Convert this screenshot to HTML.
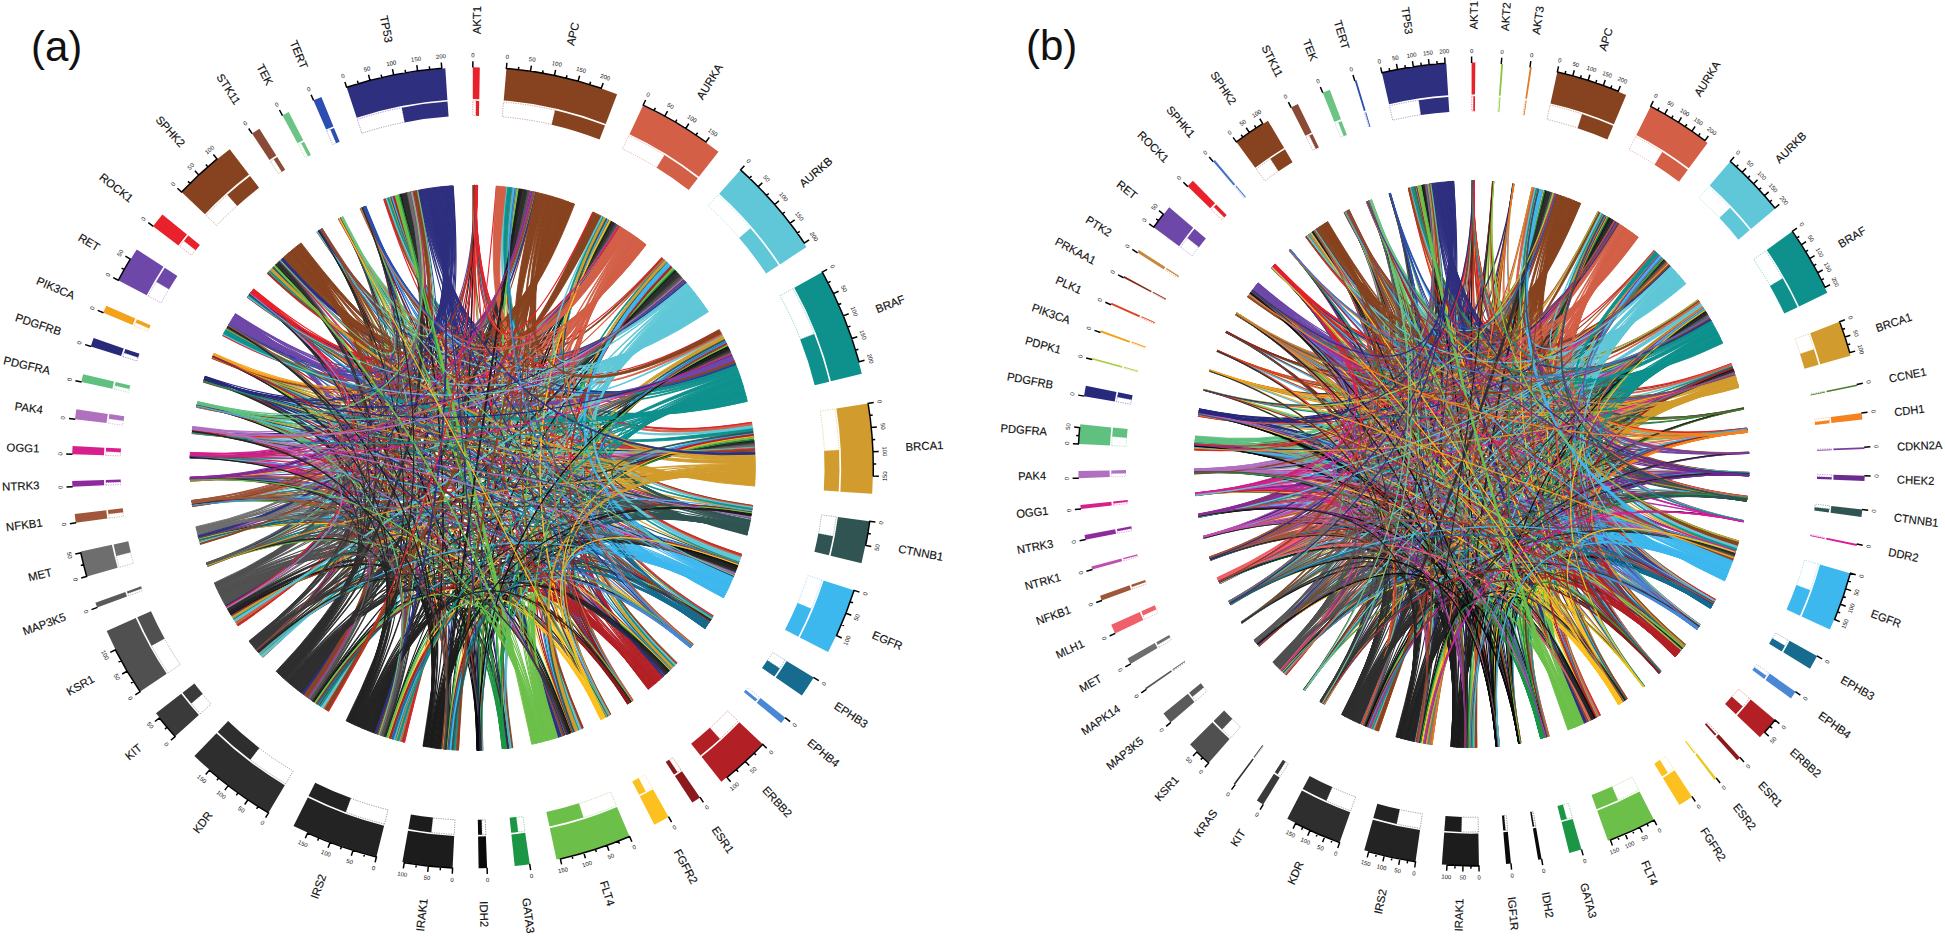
<!DOCTYPE html>
<html><head><meta charset="utf-8"><title>Chord diagrams</title>
<style>
html,body{margin:0;padding:0;background:#fff}
svg{display:block}
text{font-family:"Liberation Sans",sans-serif;fill:#111}
.lb text{font-size:11.4px;dominant-baseline:central;stroke:#111;stroke-width:.15px}
.tk text{font-size:6px;text-anchor:middle;dominant-baseline:central}
.pl{font-size:42px}
.a0{fill:#E8212B;stroke:#E8212B}.a1{fill:#87431F;stroke:#87431F}.a2{fill:#D35F47;stroke:#D35F47}.a3{fill:#5FC7D7;stroke:#5FC7D7}.a4{fill:#0E918D;stroke:#0E918D}.a5{fill:#D19C2D;stroke:#D19C2D}.a6{fill:#2F5451;stroke:#2F5451}.a7{fill:#3DB8EE;stroke:#3DB8EE}.a8{fill:#166B8E;stroke:#166B8E}.a9{fill:#4A88D6;stroke:#4A88D6}.a10{fill:#B22025;stroke:#B22025}.a11{fill:#8B1A1C;stroke:#8B1A1C}.a12{fill:#FCC01F;stroke:#FCC01F}.a13{fill:#6CC04A;stroke:#6CC04A}.a14{fill:#1A9645;stroke:#1A9645}.a15{fill:#0A0A0A;stroke:#0A0A0A}.a16{fill:#1C1C1C;stroke:#1C1C1C}.a17{fill:#232323;stroke:#232323}.a18{fill:#2E2E2E;stroke:#2E2E2E}.a19{fill:#3A3A3A;stroke:#3A3A3A}.a20{fill:#505050;stroke:#505050}.a21{fill:#5A5A5A;stroke:#5A5A5A}.a22{fill:#6E6E6E;stroke:#6E6E6E}.a23{fill:#A0563A;stroke:#A0563A}.a24{fill:#8E2A9E;stroke:#8E2A9E}.a25{fill:#D8208C;stroke:#D8208C}.a26{fill:#B070C0;stroke:#B070C0}.a27{fill:#5FC080;stroke:#5FC080}.a28{fill:#27297A;stroke:#27297A}.a29{fill:#F5A21B;stroke:#F5A21B}.a30{fill:#6E48A8;stroke:#6E48A8}.a31{fill:#8B4A36;stroke:#8B4A36}.a32{fill:#6CC484;stroke:#6CC484}.a33{fill:#2C4EB0;stroke:#2C4EB0}.a34{fill:#2E2F7E;stroke:#2E2F7E}.A0{fill:none;stroke:#E8212B;stroke-width:1.2}.A1{fill:none;stroke:#87431F;stroke-width:1.2}.A2{fill:none;stroke:#D35F47;stroke-width:1.2}.A3{fill:none;stroke:#5FC7D7;stroke-width:1.2}.A4{fill:none;stroke:#0E918D;stroke-width:1.2}.A5{fill:none;stroke:#D19C2D;stroke-width:1.2}.A6{fill:none;stroke:#2F5451;stroke-width:1.2}.A7{fill:none;stroke:#3DB8EE;stroke-width:1.2}.A8{fill:none;stroke:#166B8E;stroke-width:1.2}.A9{fill:none;stroke:#4A88D6;stroke-width:1.2}.A10{fill:none;stroke:#B22025;stroke-width:1.2}.A11{fill:none;stroke:#8B1A1C;stroke-width:1.2}.A12{fill:none;stroke:#FCC01F;stroke-width:1.2}.A13{fill:none;stroke:#6CC04A;stroke-width:1.2}.A14{fill:none;stroke:#1A9645;stroke-width:1.2}.A15{fill:none;stroke:#0A0A0A;stroke-width:1.2}.A16{fill:none;stroke:#1C1C1C;stroke-width:1.2}.A17{fill:none;stroke:#232323;stroke-width:1.2}.A18{fill:none;stroke:#2E2E2E;stroke-width:1.2}.A19{fill:none;stroke:#3A3A3A;stroke-width:1.2}.A20{fill:none;stroke:#505050;stroke-width:1.2}.A21{fill:none;stroke:#5A5A5A;stroke-width:1.2}.A22{fill:none;stroke:#6E6E6E;stroke-width:1.2}.A23{fill:none;stroke:#A0563A;stroke-width:1.2}.A24{fill:none;stroke:#8E2A9E;stroke-width:1.2}.A25{fill:none;stroke:#D8208C;stroke-width:1.2}.A26{fill:none;stroke:#B070C0;stroke-width:1.2}.A27{fill:none;stroke:#5FC080;stroke-width:1.2}.A28{fill:none;stroke:#27297A;stroke-width:1.2}.A29{fill:none;stroke:#F5A21B;stroke-width:1.2}.A30{fill:none;stroke:#6E48A8;stroke-width:1.2}.A31{fill:none;stroke:#8B4A36;stroke-width:1.2}.A32{fill:none;stroke:#6CC484;stroke-width:1.2}.A33{fill:none;stroke:#2C4EB0;stroke-width:1.2}.A34{fill:none;stroke:#2E2F7E;stroke-width:1.2}.b0{fill:#E8212B;stroke:#E8212B}.b1{fill:#8DC63F;stroke:#8DC63F}.b2{fill:#E07B28;stroke:#E07B28}.b3{fill:#87431F;stroke:#87431F}.b4{fill:#D35F47;stroke:#D35F47}.b5{fill:#5FC7D7;stroke:#5FC7D7}.b6{fill:#0E918D;stroke:#0E918D}.b7{fill:#D19C2D;stroke:#D19C2D}.b8{fill:#4E7A2E;stroke:#4E7A2E}.b9{fill:#F58220;stroke:#F58220}.b10{fill:#7B3FA0;stroke:#7B3FA0}.b11{fill:#6A2C91;stroke:#6A2C91}.b12{fill:#2F5451;stroke:#2F5451}.b13{fill:#E0189A;stroke:#E0189A}.b14{fill:#3DB8EE;stroke:#3DB8EE}.b15{fill:#166B8E;stroke:#166B8E}.b16{fill:#4A88D6;stroke:#4A88D6}.b17{fill:#B22025;stroke:#B22025}.b18{fill:#8B1A1C;stroke:#8B1A1C}.b19{fill:#E8C81E;stroke:#E8C81E}.b20{fill:#FCC01F;stroke:#FCC01F}.b21{fill:#6CC04A;stroke:#6CC04A}.b22{fill:#1A9645;stroke:#1A9645}.b23{fill:#0A0A0A;stroke:#0A0A0A}.b24{fill:#1C1C1C;stroke:#1C1C1C}.b25{fill:#232323;stroke:#232323}.b26{fill:#2E2E2E;stroke:#2E2E2E}.b27{fill:#3A3A3A;stroke:#3A3A3A}.b28{fill:#333333;stroke:#333333}.b29{fill:#505050;stroke:#505050}.b30{fill:#5A5A5A;stroke:#5A5A5A}.b31{fill:#555555;stroke:#555555}.b32{fill:#6E6E6E;stroke:#6E6E6E}.b33{fill:#F0606A;stroke:#F0606A}.b34{fill:#A0563A;stroke:#A0563A}.b35{fill:#C050B0;stroke:#C050B0}.b36{fill:#8E2A9E;stroke:#8E2A9E}.b37{fill:#D8208C;stroke:#D8208C}.b38{fill:#B070C0;stroke:#B070C0}.b39{fill:#5FC080;stroke:#5FC080}.b40{fill:#27297A;stroke:#27297A}.b41{fill:#A8CC3C;stroke:#A8CC3C}.b42{fill:#F5A21B;stroke:#F5A21B}.b43{fill:#E0401E;stroke:#E0401E}.b44{fill:#8B2A1A;stroke:#8B2A1A}.b45{fill:#C8883C;stroke:#C8883C}.b46{fill:#6E48A8;stroke:#6E48A8}.b47{fill:#4A74C8;stroke:#4A74C8}.b48{fill:#8B4A36;stroke:#8B4A36}.b49{fill:#6CC484;stroke:#6CC484}.b50{fill:#2C4EB0;stroke:#2C4EB0}.b51{fill:#2E2F7E;stroke:#2E2F7E}.B0{fill:none;stroke:#E8212B;stroke-width:1.2}.B1{fill:none;stroke:#8DC63F;stroke-width:1.2}.B2{fill:none;stroke:#E07B28;stroke-width:1.2}.B3{fill:none;stroke:#87431F;stroke-width:1.2}.B4{fill:none;stroke:#D35F47;stroke-width:1.2}.B5{fill:none;stroke:#5FC7D7;stroke-width:1.2}.B6{fill:none;stroke:#0E918D;stroke-width:1.2}.B7{fill:none;stroke:#D19C2D;stroke-width:1.2}.B8{fill:none;stroke:#4E7A2E;stroke-width:1.2}.B9{fill:none;stroke:#F58220;stroke-width:1.2}.B10{fill:none;stroke:#7B3FA0;stroke-width:1.2}.B11{fill:none;stroke:#6A2C91;stroke-width:1.2}.B12{fill:none;stroke:#2F5451;stroke-width:1.2}.B13{fill:none;stroke:#E0189A;stroke-width:1.2}.B14{fill:none;stroke:#3DB8EE;stroke-width:1.2}.B15{fill:none;stroke:#166B8E;stroke-width:1.2}.B16{fill:none;stroke:#4A88D6;stroke-width:1.2}.B17{fill:none;stroke:#B22025;stroke-width:1.2}.B18{fill:none;stroke:#8B1A1C;stroke-width:1.2}.B19{fill:none;stroke:#E8C81E;stroke-width:1.2}.B20{fill:none;stroke:#FCC01F;stroke-width:1.2}.B21{fill:none;stroke:#6CC04A;stroke-width:1.2}.B22{fill:none;stroke:#1A9645;stroke-width:1.2}.B23{fill:none;stroke:#0A0A0A;stroke-width:1.2}.B24{fill:none;stroke:#1C1C1C;stroke-width:1.2}.B25{fill:none;stroke:#232323;stroke-width:1.2}.B26{fill:none;stroke:#2E2E2E;stroke-width:1.2}.B27{fill:none;stroke:#3A3A3A;stroke-width:1.2}.B28{fill:none;stroke:#333333;stroke-width:1.2}.B29{fill:none;stroke:#505050;stroke-width:1.2}.B30{fill:none;stroke:#5A5A5A;stroke-width:1.2}.B31{fill:none;stroke:#555555;stroke-width:1.2}.B32{fill:none;stroke:#6E6E6E;stroke-width:1.2}.B33{fill:none;stroke:#F0606A;stroke-width:1.2}.B34{fill:none;stroke:#A0563A;stroke-width:1.2}.B35{fill:none;stroke:#C050B0;stroke-width:1.2}.B36{fill:none;stroke:#8E2A9E;stroke-width:1.2}.B37{fill:none;stroke:#D8208C;stroke-width:1.2}.B38{fill:none;stroke:#B070C0;stroke-width:1.2}.B39{fill:none;stroke:#5FC080;stroke-width:1.2}.B40{fill:none;stroke:#27297A;stroke-width:1.2}.B41{fill:none;stroke:#A8CC3C;stroke-width:1.2}.B42{fill:none;stroke:#F5A21B;stroke-width:1.2}.B43{fill:none;stroke:#E0401E;stroke-width:1.2}.B44{fill:none;stroke:#8B2A1A;stroke-width:1.2}.B45{fill:none;stroke:#C8883C;stroke-width:1.2}.B46{fill:none;stroke:#6E48A8;stroke-width:1.2}.B47{fill:none;stroke:#4A74C8;stroke-width:1.2}.B48{fill:none;stroke:#8B4A36;stroke-width:1.2}.B49{fill:none;stroke:#6CC484;stroke-width:1.2}.B50{fill:none;stroke:#2C4EB0;stroke-width:1.2}.B51{fill:none;stroke:#2E2F7E;stroke-width:1.2}
</style></head><body>
<svg width="1945" height="937" viewBox="0 0 1945 937">
<rect width="1945" height="937" fill="#fff"/>
<text class="pl" x="31" y="60.5">(a)</text>
<text class="pl" x="1026" y="60">(b)</text>
<g transform="translate(472.5,467.8)">
<g stroke-width="0.9" stroke-linejoin="round">
<path class="A7" d="M252.1,128.1Q0,0,-245.6,-140.1"/>
<path class="A12" d="M129.5,251.4Q0,0,-198.7,-201.2"/>
<path class="a19" d="M-217.1,181.3L-219,178.9Q0,0,206,-193.8L208.1,-191.5Q0,0,-217.1,181.3Z"/>
<path class="A29" d="M-258.8,-114.1Q0,0,-245.9,139.6"/>
<path class="A27" d="M-275.2,-65.1Q0,0,-29.2,281.3"/>
<path class="A11" d="M157.9,234.6Q0,0,44.4,-279.3"/>
<path class="A22" d="M-276.1,61.1Q0,0,-275.7,-63"/>
<path class="A18" d="M-193.6,206.1Q0,0,-132.7,-249.8"/>
<path class="A0" d="M2.7,-282.8Q0,0,23.9,-281.8"/>
<path class="A7" d="M261.1,108.7Q0,0,0.9,-282.8"/>
<path class="A1" d="M82.2,-270.6Q0,0,240.7,148.4"/>
<path class="A29" d="M-259.5,-112.5Q0,0,211.4,-187.9"/>
<path class="A20" d="M-257.1,117.8Q0,0,-259.9,-111.6"/>
<path class="A26" d="M-280.2,-38.2Q0,0,145.8,-242.3"/>
<path class="a34" d="M-38.2,-280.2L-37.2,-280.3Q0,0,-30.8,281.1L-31.8,281Q0,0,-38.2,-280.2Z"/>
<path class="A15" d="M5.3,282.7Q0,0,-86.3,269.3"/>
<path class="A22" d="M-276.1,61.2Q0,0,-280.4,-36.9"/>
<path class="a5" d="M282.3,16.4L282.2,18.3Q0,0,-83.8,-270.1L-82,-270.7Q0,0,282.3,16.4Z"/>
<path class="A9" d="M218.2,180Q0,0,-199.2,-200.7"/>
<path class="a1" d="M-185.7,-213.3L-183.8,-215Q0,0,282.2,-18.6L282.3,-16.1Q0,0,-185.7,-213.3Z"/>
<path class="A12" d="M129.3,251.5Q0,0,-154.4,-236.9"/>
<path class="A28" d="M-267.8,-90.8Q0,0,-93.8,266.8"/>
<path class="A17" d="M-122.1,255.1Q0,0,-282.6,-10.5"/>
<path class="A19" d="M-220,177.7Q0,0,262.9,104.3"/>
<path class="A20" d="M-252.9,126.6Q0,0,237.6,153.4"/>
<path class="A19" d="M-222.3,174.7Q0,0,-282.6,-11.3"/>
<path class="A22" d="M-275.7,62.9Q0,0,193,206.7"/>
<path class="A19" d="M-222.3,174.8Q0,0,-282.6,11.7"/>
<path class="A6" d="M274.9,66.3Q0,0,-133.5,-249.3"/>
<path class="A27" d="M-275.6,-63.5Q0,0,58.8,-276.6"/>
<path class="A13" d="M85.3,269.6Q0,0,1.2,-282.8"/>
<path class="a13" d="M74,273L73.3,273.1Q0,0,197.6,202.3L197.1,202.8Q0,0,74,273Z"/>
<path class="A33" d="M-108.6,-261.1Q0,0,261.5,107.7"/>
<path class="A1" d="M96.8,-265.7Q0,0,-282.5,13.3"/>
<path class="a3" d="M234.6,-157.9L235.9,-156Q0,0,-87,-269.1L-84.9,-269.8Q0,0,234.6,-157.9Z"/>
<path class="a13" d="M69.1,274.2L68.4,274.4Q0,0,-213.6,185.3L-214.1,184.7Q0,0,69.1,274.2Z"/>
<path class="A0" d="M-219.9,-177.9Q0,0,-30.1,281.2"/>
<path class="A31" d="M-152.2,-238.3Q0,0,282.3,-16"/>
<path class="A8" d="M232.7,160.8Q0,0,-79.7,-271.3"/>
<path class="A17" d="M-115.8,258Q0,0,-26.2,281.6"/>
<path class="A26" d="M-280.2,-38Q0,0,58.4,-276.7"/>
<path class="A3" d="M223,-173.9Q0,0,160.3,232.9"/>
<path class="a34" d="M-24.4,-281.7L-20.2,-282.1Q0,0,-192.1,-207.6L-189,-210.4Q0,0,-24.4,-281.7Z"/>
<path class="a17" d="M-98.4,265.1L-100.1,264.5Q0,0,48.7,-278.6L50.5,-278.3Q0,0,-98.4,265.1Z"/>
<path class="A31" d="M-152.8,-238Q0,0,147.2,-241.4"/>
<path class="A21" d="M-266.2,95.5Q0,0,-275.7,-62.9"/>
<path class="A1" d="M-175.6,-221.7Q0,0,-282.6,-11.7"/>
<path class="A29" d="M-259.2,-113.1Q0,0,262.1,106.3"/>
<path class="A21" d="M-266,96.1Q0,0,281.9,-22.6"/>
<path class="A16" d="M-47,278.9Q0,0,-268.9,-87.5"/>
<path class="A22" d="M-275.6,63.6Q0,0,278.5,49.2"/>
<path class="A21" d="M-265.7,96.8Q0,0,145.3,-242.6"/>
<path class="A18" d="M-190.2,209.3Q0,0,-275.8,-62.6"/>
<path class="A33" d="M-107.5,-261.6Q0,0,-216.3,182.2"/>
<path class="a4" d="M264.8,-99.3L265.5,-97.5Q0,0,129.8,-251.3L131.4,-250.4Q0,0,264.8,-99.3Z"/>
<path class="A3" d="M232.6,-160.9Q0,0,-282.5,12.9"/>
<path class="a1" d="M-188.9,-210.5L-188,-211.3Q0,0,60.5,-276.2L61.8,-276Q0,0,-188.9,-210.5Z"/>
<path class="A0" d="M-219.7,-178.1Q0,0,-94.4,266.6"/>
<path class="A20" d="M-247.4,137.1Q0,0,2.4,-282.8"/>
<path class="A29" d="M-258.8,-113.9Q0,0,-164.7,229.9"/>
<path class="A18" d="M-181.8,216.6Q0,0,219.9,177.8"/>
<path class="A2" d="M172.8,-223.9Q0,0,-204.2,-195.6"/>
<path class="A19" d="M-222.9,174.1Q0,0,-153.8,-237.3"/>
<path class="A1" d="M97.1,-265.6Q0,0,-280.7,-34.4"/>
<path class="A0" d="M3.9,-282.8Q0,0,-14.1,282.4"/>
<path class="A30" d="M-238.7,-151.7Q0,0,-29.7,281.2"/>
<path class="A1" d="M-180.3,-217.9Q0,0,7.8,282.7"/>
<path class="a7" d="M256.3,119.6L255.1,122.1Q0,0,-20.7,282L-23.4,281.8Q0,0,256.3,119.6Z"/>
<path class="A34" d="M-25.6,-281.6Q0,0,-259.7,-111.9"/>
<path class="A9" d="M218.6,179.4Q0,0,99.8,264.6"/>
<path class="a5" d="M282.6,9.4L282.6,10.9Q0,0,-273,73.9L-273.3,72.5Q0,0,282.6,9.4Z"/>
<path class="A24" d="M-282.6,10.3Q0,0,92.8,267.1"/>
<path class="A16" d="M-41.3,279.8Q0,0,238.9,151.4"/>
<path class="A26" d="M-279.9,-40.6Q0,0,-192.8,-206.9"/>
<path class="A10" d="M182.3,216.2Q0,0,-24.1,281.8"/>
<path class="A23" d="M-280.6,34.9Q0,0,282,-21"/>
<path class="A2" d="M171.7,-224.7Q0,0,-282.6,-9.7"/>
<path class="A20" d="M-257,118Q0,0,-268.7,-88.3"/>
<path class="A5" d="M282.8,-2.8Q0,0,239.7,150.1"/>
<path class="a10" d="M188.2,211.1L186.5,212.6Q0,0,253.6,-125.2L254.6,-123.2Q0,0,188.2,211.1Z"/>
<path class="A1" d="M100.7,-264.3Q0,0,-134.1,-249"/>
<path class="a2" d="M166.9,-228.3L168.6,-227Q0,0,-147.6,241.2L-149.4,240.1Q0,0,166.9,-228.3Z"/>
<path class="A27" d="M-275.3,-64.5Q0,0,278.4,49.7"/>
<path class="A25" d="M-282.4,-14.7Q0,0,-192.9,-206.8"/>
<path class="A2" d="M164.6,-229.9Q0,0,10.1,282.6"/>
<path class="A21" d="M-266.1,95.8Q0,0,193.2,206.6"/>
<path class="A23" d="M-280.7,34.6Q0,0,262.4,105.5"/>
<path class="A3" d="M221.8,-175.5Q0,0,240.2,149.2"/>
<path class="a18" d="M-178.4,219.4L-179.3,218.7Q0,0,257,-118L257.5,-117Q0,0,-178.4,219.4Z"/>
<path class="A9" d="M218.4,179.7Q0,0,-155.3,236.3"/>
<path class="A33" d="M-109.4,-260.8Q0,0,147.6,-241.2"/>
<path class="a18" d="M-183.2,215.4L-184.1,214.7Q0,0,96.1,266L95,266.4Q0,0,-183.2,215.4Z"/>
<path class="A9" d="M219.3,178.6Q0,0,136.2,-247.8"/>
<path class="A6" d="M275.6,63.6Q0,0,-240.5,148.8"/>
<path class="A0" d="M-220.5,-177.1Q0,0,237.3,153.9"/>
<path class="A28" d="M-267.7,-91.1Q0,0,-164.6,229.9"/>
<path class="A33" d="M-107.8,-261.5Q0,0,-30.8,281.1"/>
<path class="A15" d="M6.8,282.7Q0,0,202.5,-197.4"/>
<path class="A4" d="M268.2,-89.7Q0,0,220.5,177.1"/>
<path class="A17" d="M-117.2,257.4Q0,0,-214.5,184.3"/>
<path class="A25" d="M-282.4,-14.5Q0,0,-245.5,140.3"/>
<path class="A26" d="M-280,-39.9Q0,0,-93.3,267"/>
<path class="A8" d="M235.4,156.8Q0,0,266.2,95.3"/>
<path class="a17" d="M-103.4,263.2L-104.9,262.6Q0,0,256.3,-119.5L257,-118Q0,0,-103.4,263.2Z"/>
<path class="A4" d="M272.2,-76.8Q0,0,-276,-61.5"/>
<path class="A10" d="M177.4,220.3Q0,0,-245.5,-140.3"/>
<path class="a1" d="M-183.8,-215L-183,-215.6Q0,0,278.3,50.5L278.1,51.5Q0,0,-183.8,-215Z"/>
<path class="A24" d="M-282.6,9.8Q0,0,-215.6,183"/>
<path class="a4" d="M274.6,-67.5L274.9,-66.4Q0,0,-84.9,-269.8L-83.8,-270.1Q0,0,274.6,-67.5Z"/>
<path class="A2" d="M173.5,-223.3Q0,0,-87.2,-269"/>
<path class="a6" d="M277.8,52.7L277.7,53.4Q0,0,40.1,-279.9L40.7,-279.8Q0,0,277.8,52.7Z"/>
<path class="a17" d="M-108.9,261L-110.1,260.5Q0,0,238.8,151.5L238.1,152.6Q0,0,-108.9,261Z"/>
<path class="A34" d="M-54.3,-277.5Q0,0,2.6,-282.8"/>
<path class="a18" d="M-189.4,210L-190,209.5Q0,0,-282.6,-10.5L-282.6,-11.3Q0,0,-189.4,210Z"/>
<path class="A2" d="M171.9,-224.5Q0,0,-269.3,-86.2"/>
<path class="A7" d="M252.8,126.8Q0,0,-265.4,97.6"/>
<path class="a10" d="M184,214.8L183.4,215.3Q0,0,266.1,95.7L265.9,96.4Q0,0,184,214.8Z"/>
<path class="a17" d="M-97.7,265.4L-98.4,265.1Q0,0,1.5,-282.8L2.2,-282.8Q0,0,-97.7,265.4Z"/>
<path class="A20" d="M-256.8,118.3Q0,0,-280.4,-36.8"/>
<path class="a34" d="M-26.8,-281.5L-26.1,-281.6Q0,0,-280.4,-37.1L-280.3,-37.8Q0,0,-26.8,-281.5Z"/>
<path class="A3" d="M233.4,-159.6Q0,0,-260.5,-110"/>
<path class="A0" d="M-222.2,-175Q0,0,60.3,-276.3"/>
<path class="A5" d="M282.3,16.4Q0,0,-111.5,-259.9"/>
<path class="A32" d="M-130.4,-250.9Q0,0,-168.3,227.3"/>
<path class="A30" d="M-237.7,-153.2Q0,0,-280.5,36.1"/>
<path class="A0" d="M-220.2,-177.4Q0,0,192,207.6"/>
<path class="A31" d="M-152.6,-238.1Q0,0,212.4,-186.7"/>
<path class="A28" d="M-267.9,-90.5Q0,0,-29.4,281.3"/>
<path class="A1" d="M-182.2,-216.3Q0,0,191.7,207.9"/>
<path class="a1" d="M93.7,-266.8L95.6,-266.1Q0,0,-234.6,157.9L-235.7,156.2Q0,0,93.7,-266.8Z"/>
<path class="A2" d="M172.2,-224.3Q0,0,-249.6,-133"/>
<path class="A0" d="M-220.6,-176.9Q0,0,261.9,106.8"/>
<path class="A18" d="M-183.1,215.5Q0,0,158.4,234.2"/>
<path class="A19" d="M-219.8,178Q0,0,278.6,48.5"/>
<path class="A13" d="M65.9,275Q0,0,-245.4,-140.5"/>
<path class="A4" d="M274.6,-67.8Q0,0,-155.1,-236.5"/>
<path class="A1" d="M-175.7,-221.6Q0,0,-280.5,36.1"/>
<path class="A9" d="M218.2,179.9Q0,0,-260.2,-110.8"/>
<path class="A18" d="M-189,210.4Q0,0,-265.5,97.3"/>
<path class="A7" d="M256.3,119.6Q0,0,9,282.7"/>
<path class="A29" d="M-259.1,-113.2Q0,0,237.4,153.7"/>
<path class="A8" d="M236.4,155.3Q0,0,135.9,-248"/>
<path class="a6" d="M274.9,66.3L274.6,67.4Q0,0,-82,-270.7L-80.8,-271Q0,0,274.9,66.3Z"/>
<path class="A21" d="M-265.7,96.9Q0,0,56.9,-277"/>
<path class="A18" d="M-189.2,210.2Q0,0,-280.5,36.2"/>
<path class="A30" d="M-237.6,-153.4Q0,0,-132.4,-249.9"/>
<path class="A34" d="M-43.6,-279.4Q0,0,158,234.5"/>
<path class="a7" d="M258.2,115.4L257.7,116.6Q0,0,252.5,-127.3L253.1,-126.2Q0,0,258.2,115.4Z"/>
<path class="A3" d="M232.7,-160.7Q0,0,-282.6,-9.7"/>
<path class="A33" d="M-106.9,-261.8Q0,0,-54.6,-277.5"/>
<path class="A14" d="M30.6,281.1Q0,0,-158,234.5"/>
<path class="A13" d="M66.8,274.8Q0,0,-282.6,-10.4"/>
<path class="a26" d="M-279.9,-40.7L-279.8,-41.4Q0,0,-61.9,-276L-61.2,-276.1Q0,0,-279.9,-40.7Z"/>
<path class="A11" d="M155.5,236.2Q0,0,-198.9,-201.1"/>
<path class="A7" d="M257.2,117.6Q0,0,220.2,177.5"/>
<path class="A8" d="M233.2,160Q0,0,-269,-87.2"/>
<path class="a16" d="M-44.2,279.3L-45.4,279.1Q0,0,-158.3,234.3L-159.4,233.6Q0,0,-44.2,279.3Z"/>
<path class="A11" d="M157,235.2Q0,0,197.8,202.1"/>
<path class="A29" d="M-259.2,-113Q0,0,278.4,49.9"/>
<path class="a17" d="M-100.1,264.5L-102,263.8Q0,0,139,-246.3L140.7,-245.3Q0,0,-100.1,264.5Z"/>
<path class="a3" d="M227.2,-168.3L228.8,-166.2Q0,0,-149.4,240.1L-151.7,238.7Q0,0,227.2,-168.3Z"/>
<path class="A29" d="M-259,-113.4Q0,0,192.4,207.3"/>
<path class="a3" d="M216.1,-182.4L217,-181.4Q0,0,249.7,-132.8L250.3,-131.6Q0,0,216.1,-182.4Z"/>
<path class="A19" d="M-221.1,176.3Q0,0,-27.9,281.4"/>
<path class="A1" d="M98.5,-265.1Q0,0,-249.8,-132.6"/>
<path class="A1" d="M97.4,-265.5Q0,0,-276.2,-60.7"/>
<path class="a7" d="M253.1,126.1L252.8,126.8Q0,0,-240.5,148.7L-240.9,148.1Q0,0,253.1,126.1Z"/>
<path class="A20" d="M-256.9,118.2Q0,0,-275.7,-62.8"/>
<path class="A32" d="M-130.3,-251Q0,0,-246.7,138.3"/>
<path class="A16" d="M-48.2,278.7Q0,0,-197,-202.8"/>
<path class="A4" d="M274.6,-67.6Q0,0,-111.7,-259.8"/>
<path class="A1" d="M63.7,-275.5Q0,0,0.3,-282.8"/>
<path class="A11" d="M155.6,236.2Q0,0,-241.2,147.7"/>
<path class="A33" d="M-107.2,-261.7Q0,0,-192.1,-207.5"/>
<path class="A17" d="M-124.5,253.9Q0,0,-132.8,-249.7"/>
<path class="A21" d="M-266,96Q0,0,278.5,49"/>
<path class="a0" d="M-221.7,-175.5L-221.2,-176.2Q0,0,261.6,-107.3L262,-106.6Q0,0,-221.7,-175.5Z"/>
<path class="A17" d="M-121,255.6Q0,0,-273.8,70.8"/>
<path class="A17" d="M-122.4,255Q0,0,-275.8,-62.4"/>
<path class="A0" d="M-220.8,-176.7Q0,0,278.3,50.4"/>
<path class="A5" d="M282.6,10.9Q0,0,-280.2,38.1"/>
<path class="A19" d="M-219.5,178.3Q0,0,281.7,-25.2"/>
<path class="A21" d="M-266.2,95.5Q0,0,-245.3,140.6"/>
<path class="A24" d="M-282.6,11.2Q0,0,145.7,-242.4"/>
<path class="A34" d="M-26.1,-281.6Q0,0,-275.6,-63.3"/>
<path class="A30" d="M-238.9,-151.4Q0,0,91.9,267.5"/>
<path class="A18" d="M-180.1,218Q0,0,278.7,48.2"/>
<path class="a1" d="M78.8,-271.6L79.4,-271.4Q0,0,279.1,-45.4L279.2,-44.7Q0,0,78.8,-271.6Z"/>
<path class="A27" d="M-275.3,-64.8Q0,0,192.6,207.1"/>
<path class="A14" d="M30.2,281.2Q0,0,-241.7,146.9"/>
<path class="a10" d="M190.6,208.9L189.9,209.6Q0,0,43.4,-279.5L44.4,-279.3Q0,0,190.6,208.9Z"/>
<path class="A2" d="M171.2,-225.1Q0,0,-265.1,98.5"/>
<path class="A23" d="M-280.6,35.4Q0,0,145.6,-242.4"/>
<path class="a34" d="M-52.6,-277.9L-50.4,-278.3Q0,0,212.8,-186.3L214.3,-184.6Q0,0,-52.6,-277.9Z"/>
<path class="a2" d="M158.3,-234.4L160.4,-232.9Q0,0,279.2,-44.7L279.6,-42.1Q0,0,158.3,-234.4Z"/>
<path class="A22" d="M-275.6,63.2Q0,0,237.5,153.5"/>
<path class="a2" d="M168.7,-226.9L171.2,-225.1Q0,0,-235.7,156.2L-237.4,153.7Q0,0,168.7,-226.9Z"/>
<path class="a14" d="M35.1,280.6L34.3,280.7Q0,0,45.9,-279L46.7,-278.9Q0,0,35.1,280.6Z"/>
<path class="a13" d="M79.8,271.3L77.1,272.1Q0,0,281.1,-31.2L281.4,-28.4Q0,0,79.8,271.3Z"/>
<path class="a4" d="M269.4,-86.1L269.6,-85.2Q0,0,38.4,280.2L37.5,280.3Q0,0,269.4,-86.1Z"/>
<path class="a1" d="M73,-273.2L74.8,-272.7Q0,0,189.4,-210L190.8,-208.8Q0,0,73,-273.2Z"/>
<path class="A32" d="M-131.4,-250.4Q0,0,282.4,-15.8"/>
<path class="A26" d="M-280.1,-38.7Q0,0,282,-20.7"/>
<path class="A12" d="M129.9,251.2Q0,0,-241.3,147.6"/>
<path class="A3" d="M231.6,-162.2Q0,0,-265.1,98.4"/>
<path class="A33" d="M-109.5,-260.8Q0,0,62.4,-275.8"/>
<path class="a13" d="M68.4,274.4L67.8,274.6Q0,0,-241.3,147.5L-241.6,146.9Q0,0,68.4,274.4Z"/>
<path class="A0" d="M3,-282.8Q0,0,189.3,-210.1"/>
<path class="A24" d="M-282.6,10.5Q0,0,219.8,178"/>
<path class="A27" d="M-275.1,-65.7Q0,0,-274,69.9"/>
<path class="A10" d="M177.9,219.8Q0,0,-282.6,-10.3"/>
<path class="a13" d="M83.6,270.2L80.6,271.1Q0,0,199.3,-200.6L201.5,-198.4Q0,0,83.6,270.2Z"/>
<path class="A7" d="M251.6,129.1Q0,0,-133.4,-249.3"/>
<path class="A4" d="M271.9,-77.9Q0,0,-272.9,74.2"/>
<path class="A18" d="M-189.1,210.3Q0,0,-273.9,70.5"/>
<path class="a10" d="M182.2,216.3L179.9,218.2Q0,0,-80.8,271L-83.5,270.2Q0,0,182.2,216.3Z"/>
<path class="A1" d="M-175.5,-221.7Q0,0,-280.4,-37.1"/>
<path class="A33" d="M-107.6,-261.5Q0,0,-168.4,227.2"/>
<path class="A28" d="M-268.4,-89.2Q0,0,146.1,-242.2"/>
<path class="a3" d="M226.3,-169.5L227.2,-168.3Q0,0,-72.2,273.4L-73.7,273Q0,0,226.3,-169.5Z"/>
<path class="A9" d="M219.2,178.7Q0,0,198,-202"/>
<path class="A20" d="M-256.7,118.6Q0,0,-282.6,-11.5"/>
<path class="A19" d="M-221,176.5Q0,0,35.6,280.5"/>
<path class="a4" d="M265.9,-96.3L267.2,-92.8Q0,0,280,-40L280.5,-36.3Q0,0,265.9,-96.3Z"/>
<path class="A0" d="M3.3,-282.8Q0,0,280.3,37.8"/>
<path class="A31" d="M-152.5,-238.2Q0,0,262.8,-104.6"/>
<path class="A3" d="M232.8,-160.6Q0,0,-280.7,-34.8"/>
<path class="A1" d="M-176,-221.3Q0,0,-246.4,138.8"/>
<path class="A25" d="M-282.4,-14.3Q0,0,-215.6,183"/>
<path class="A10" d="M189.7,209.8Q0,0,136.5,-247.7"/>
<path class="A32" d="M-131.1,-250.6Q0,0,237,154.3"/>
<path class="A23" d="M-280.9,33.1Q0,0,-163.5,230.8"/>
<path class="a25" d="M-282.4,-14.8L-282.4,-15.4Q0,0,-62.5,-275.8L-61.9,-276Q0,0,-282.4,-14.8Z"/>
<path class="A27" d="M-275.1,-65.4Q0,0,-164.5,230"/>
<path class="A4" d="M269.1,-87Q0,0,137.3,247.2"/>
<path class="A17" d="M-115.3,258.2Q0,0,36.1,280.5"/>
<path class="A28" d="M-268.1,-89.9Q0,0,278.4,49.8"/>
<path class="A9" d="M218.7,179.3Q0,0,266.1,95.6"/>
<path class="A3" d="M233.2,-160Q0,0,-269.2,-86.5"/>
<path class="A21" d="M-265.9,96.4Q0,0,258.5,-114.7"/>
<path class="A13" d="M66.4,274.9Q0,0,-275.9,-62.2"/>
<path class="A14" d="M30.8,281.1Q0,0,-86.1,269.4"/>
<path class="A30" d="M-243.7,-143.4Q0,0,2.4,-282.8"/>
<path class="a17" d="M-113.3,259.1L-113.9,258.9Q0,0,135.8,248.1L135.2,248.4Q0,0,-113.3,259.1Z"/>
<path class="A31" d="M-150.8,-239.2Q0,0,-192.3,-207.4"/>
<path class="A6" d="M276.2,60.9Q0,0,37.1,280.4"/>
<path class="A27" d="M-275.2,-64.9Q0,0,92.4,267.3"/>
<path class="A23" d="M-280.9,32.7Q0,0,-62.7,-275.8"/>
<path class="A1" d="M-176.3,-221.1Q0,0,-216.1,182.4"/>
<path class="A14" d="M31.6,281Q0,0,197,202.9"/>
<path class="A20" d="M-257.6,116.6Q0,0,-153.6,-237.5"/>
<path class="a34" d="M-35.4,-280.6L-31.8,-281Q0,0,-168.4,227.2L-171.3,225Q0,0,-35.4,-280.6Z"/>
<path class="A14" d="M31.7,281Q0,0,265.4,97.6"/>
<path class="A1" d="M100.5,-264.4Q0,0,-155.6,-236.1"/>
<path class="A34" d="M-52.8,-277.8Q0,0,147.8,-241.1"/>
<path class="A19" d="M-222.6,174.5Q0,0,-244.8,-141.6"/>
<path class="a4" d="M268.3,-89.5L269,-87.4Q0,0,202.4,197.5L200.8,199.1Q0,0,268.3,-89.5Z"/>
<path class="A27" d="M-275.3,-64.6Q0,0,262.2,106.1"/>
<path class="A16" d="M-46.5,279Q0,0,-280.3,37.2"/>
<path class="A25" d="M-282.5,-13.3Q0,0,192.8,206.9"/>
<path class="a3" d="M223.1,-173.8L225,-171.3Q0,0,109.1,260.9L106.2,262.1Q0,0,223.1,-173.8Z"/>
<path class="A26" d="M-279.9,-40.5Q0,0,-274,70.1"/>
<path class="A8" d="M233.5,159.5Q0,0,-213.3,185.6"/>
<path class="A17" d="M-123.2,254.5Q0,0,-223,-174"/>
<path class="A8" d="M235.6,156.4Q0,0,280.7,-34.7"/>
<path class="A1" d="M-175.8,-221.5Q0,0,-265.6,97.1"/>
<path class="A12" d="M132,250.1Q0,0,279.4,43.9"/>
<path class="a3" d="M231.7,-162.2L232.3,-161.2Q0,0,-272.5,75.6L-272.8,74.5Q0,0,231.7,-162.2Z"/>
<path class="A2" d="M172.5,-224.1Q0,0,-225.2,-171.1"/>
<path class="a4" d="M265.5,-97.5L265.9,-96.3Q0,0,191.4,-208.2L192.3,-207.3Q0,0,265.5,-97.5Z"/>
<path class="a5" d="M282.5,-13.6L282.5,-12.9Q0,0,39.4,-280L40.1,-279.9Q0,0,282.5,-13.6Z"/>
<path class="A8" d="M233.4,159.7Q0,0,-241,148"/>
<path class="A2" d="M162.5,-231.5Q0,0,240.5,148.9"/>
<path class="a20" d="M-253.8,124.7L-255.5,121.3Q0,0,-88.3,268.7L-91.8,267.5Q0,0,-253.8,124.7Z"/>
<path class="A19" d="M-216.9,181.5Q0,0,54.7,-277.5"/>
<path class="A12" d="M132.3,250Q0,0,254.7,-122.9"/>
<path class="A1" d="M-182.1,-216.4Q0,0,158.2,234.4"/>
<path class="A6" d="M275.4,64.2Q0,0,-280.2,37.9"/>
<path class="A20" d="M-253,126.3Q0,0,158.3,234.3"/>
<path class="A4" d="M269,-87.3Q0,0,160.2,233.1"/>
<path class="a3" d="M217,-181.4L218.4,-179.7Q0,0,279.6,-42.1L280,-40Q0,0,217,-181.4Z"/>
<path class="a5" d="M282.7,-8.2L282.8,-4.4Q0,0,250.3,-131.6L252,-128.3Q0,0,282.7,-8.2Z"/>
<path class="A34" d="M-45.1,-279.2Q0,0,236.9,154.4"/>
<path class="A8" d="M234.9,157.4Q0,0,100,264.5"/>
<path class="A2" d="M171.8,-224.6Q0,0,-276.1,-61"/>
<path class="A7" d="M252.5,127.3Q0,0,-280.5,-35.6"/>
<path class="a34" d="M-42.6,-279.6L-38.7,-280.1Q0,0,89.3,268.3L85.5,269.6Q0,0,-42.6,-279.6Z"/>
<path class="A16" d="M-46.6,278.9Q0,0,-282.5,12.1"/>
<path class="A4" d="M272.3,-76.5Q0,0,-260.5,-110.2"/>
<path class="A25" d="M-282.5,-13.3Q0,0,92.8,267.2"/>
<path class="A0" d="M4.8,-282.8Q0,0,-234.6,158"/>
<path class="a34" d="M-47.4,-278.8L-46.2,-279Q0,0,278.1,51.5L277.9,52.7Q0,0,-47.4,-278.8Z"/>
<path class="A5" d="M282.5,-13.6Q0,0,0.8,-282.8"/>
<path class="A15" d="M4.9,282.8Q0,0,-223.3,-173.5"/>
<path class="a12" d="M129.1,251.6L128.3,252Q0,0,-78.2,-271.8L-77.3,-272Q0,0,129.1,251.6Z"/>
<path class="A24" d="M-282.6,10.6Q0,0,278.4,49.5"/>
<path class="a7" d="M251.5,129.2L251.1,130.1Q0,0,-80.8,-271L-79.9,-271.3Q0,0,251.5,129.2Z"/>
<path class="A11" d="M157.8,234.7Q0,0,136.9,-247.5"/>
<path class="A11" d="M156.8,235.3Q0,0,98.9,265"/>
<path class="A4" d="M263.3,-103.1Q0,0,0.7,-282.8"/>
<path class="A12" d="M131.5,250.4Q0,0,220.1,177.5"/>
<path class="A20" d="M-256.5,119.1Q0,0,-215.5,183.2"/>
<path class="A23" d="M-280.7,34.6Q0,0,219.8,177.9"/>
<path class="A6" d="M276.7,58.7Q0,0,160.1,233.1"/>
<path class="a7" d="M255.1,122.1L253.9,124.5Q0,0,-76.8,272.2L-79.5,271.4Q0,0,255.1,122.1Z"/>
<path class="A13" d="M67.5,274.6Q0,0,-273.7,71.2"/>
<path class="A16" d="M-46.9,278.9Q0,0,-275.9,-62.3"/>
<path class="A32" d="M-131.5,-250.4Q0,0,212.5,-186.6"/>
<path class="a2" d="M165.4,-229.4L166.9,-228.3Q0,0,-70.3,273.9L-72.2,273.4Q0,0,165.4,-229.4Z"/>
<path class="a7" d="M256.6,118.9L256.3,119.5Q0,0,100.8,264.2L100.2,264.5Q0,0,256.6,118.9Z"/>
<path class="a34" d="M-54.2,-277.6L-53,-277.8Q0,0,62.4,-275.8L63.7,-275.5Q0,0,-54.2,-277.6Z"/>
<path class="A30" d="M-237.9,-152.9Q0,0,-246.1,139.3"/>
<path class="A33" d="M-108.8,-261.1Q0,0,282.4,-15.6"/>
<path class="A10" d="M184.2,214.6Q0,0,279.4,43.5"/>
<path class="A20" d="M-257.5,117Q0,0,-193.3,-206.5"/>
<path class="A15" d="M5.5,282.7Q0,0,-25.8,281.6"/>
<path class="A29" d="M-259.6,-112.1Q0,0,59.5,-276.5"/>
<path class="A28" d="M-267.6,-91.5Q0,0,-61,-276.1"/>
<path class="a3" d="M222,-175.2L223,-173.9Q0,0,203.6,196.3L202.4,197.5Q0,0,222,-175.2Z"/>
<path class="A3" d="M234.4,-158.2Q0,0,-133.7,-249.2"/>
<path class="A1" d="M93.5,-266.9Q0,0,-209.9,189.5"/>
<path class="A4" d="M272,-77.6Q0,0,-280.2,38.2"/>
<path class="a17" d="M-104.9,262.6L-105.9,262.2Q0,0,281.5,-27.2L281.6,-26.2Q0,0,-104.9,262.6Z"/>
<path class="a7" d="M260.3,110.6L259.7,111.8Q0,0,134.5,-248.8L135.7,-248.1Q0,0,260.3,110.6Z"/>
<path class="A3" d="M214.3,-184.5Q0,0,0.5,-282.8"/>
<path class="A25" d="M-282.5,-13.4Q0,0,-93.2,267"/>
<path class="A1" d="M98.9,-264.9Q0,0,-225.4,-170.8"/>
<path class="A14" d="M31.8,281Q0,0,279,46.1"/>
<path class="A2" d="M173,-223.7Q0,0,-155.4,-236.3"/>
<path class="a20" d="M-248.4,135.3L-249.8,132.6Q0,0,142.6,-244.2L145.2,-242.7Q0,0,-248.4,135.3Z"/>
<path class="a1" d="M100.9,-264.2L102.1,-263.7Q0,0,-88.6,-268.6L-87.4,-269Q0,0,100.9,-264.2Z"/>
<path class="A32" d="M-130.2,-251Q0,0,-244.2,-142.6"/>
<path class="A0" d="M-219.5,-178.3Q0,0,-165.1,229.6"/>
<path class="A34" d="M-19.8,-282.1Q0,0,-132.2,-250"/>
<path class="A24" d="M-282.6,9.9Q0,0,-163.6,230.7"/>
<path class="A5" d="M282.8,3.8Q0,0,37.3,280.3"/>
<path class="a18" d="M-174.7,222.4L-176.3,221.1Q0,0,140.7,-245.3L142.5,-244.3Q0,0,-174.7,222.4Z"/>
<path class="a1" d="M79.4,-271.4L80.1,-271.2Q0,0,280.3,37.8L280.2,38.5Q0,0,79.4,-271.4Z"/>
<path class="A26" d="M-280.2,-38.5Q0,0,259.1,-113.3"/>
<path class="a20" d="M-250.6,131.1L-251.3,129.7Q0,0,257.8,-116.3L258.4,-114.9Q0,0,-250.6,131.1Z"/>
<path class="A11" d="M156,235.9Q0,0,-83.8,270.1"/>
<path class="a5" d="M282.8,4L282.8,4.7Q0,0,-18.7,282.2L-19.4,282.1Q0,0,282.8,4Z"/>
<path class="a17" d="M-102,263.8L-103.4,263.2Q0,0,203.1,-196.8L204.1,-195.7Q0,0,-102,263.8Z"/>
<path class="A29" d="M-259,-113.6Q0,0,92.1,267.4"/>
<path class="A24" d="M-282.6,9.7Q0,0,-274,70.2"/>
<path class="A5" d="M282.6,11.1Q0,0,-282.6,-10.2"/>
<path class="A27" d="M-275,-65.9Q0,0,-192.7,-207"/>
<path class="A30" d="M-237.7,-153.3Q0,0,-192.5,-207.1"/>
<path class="A18" d="M-171.4,225Q0,0,2.3,-282.8"/>
<path class="a5" d="M282.8,-2.3L282.8,0.6Q0,0,200.8,199.1L198.8,201.1Q0,0,282.8,-2.3Z"/>
<path class="A32" d="M-131.3,-250.5Q0,0,278.1,51.5"/>
<path class="A34" d="M-27.6,-281.4Q0,0,-280.5,35.9"/>
<path class="a14" d="M34.3,280.7L33.1,280.9Q0,0,201.5,-198.4L202.4,-197.5Q0,0,34.3,280.7Z"/>
<path class="A31" d="M-151.3,-238.9Q0,0,-168.1,227.4"/>
<path class="A21" d="M-266.1,95.7Q0,0,-91.9,267.5"/>
<path class="A22" d="M-275.1,65.4Q0,0,258.7,-114.2"/>
<path class="a10" d="M183.1,215.6L182.5,216Q0,0,99.7,264.6L99.1,264.9Q0,0,183.1,215.6Z"/>
<path class="A20" d="M-253.5,125.4Q0,0,35.5,280.6"/>
<path class="A5" d="M282.8,4Q0,0,9.1,282.7"/>
<path class="A5" d="M282.6,11.4Q0,0,-276,-61.6"/>
<path class="a17" d="M-116.1,257.9L-117.1,257.4Q0,0,-159.4,233.6L-160.3,233Q0,0,-116.1,257.9Z"/>
<path class="A29" d="M-259.1,-113.3Q0,0,219.7,178"/>
<path class="A30" d="M-238.2,-152.4Q0,0,-215.9,182.7"/>
<path class="A29" d="M-259.4,-112.7Q0,0,259.3,-112.9"/>
<path class="A27" d="M-275.4,-64.3Q0,0,259.2,-113.1"/>
<path class="A9" d="M218,180.1Q0,0,-79.5,-271.4"/>
<path class="A24" d="M-282.6,10.4Q0,0,192.8,206.9"/>
<path class="A10" d="M183.1,215.5Q0,0,136.4,247.7"/>
<path class="a17" d="M-123.3,254.5L-124.3,254Q0,0,-196.9,-203L-196.1,-203.8Q0,0,-123.3,254.5Z"/>
<path class="A31" d="M-151,-239.1Q0,0,-246.6,138.4"/>
<path class="A13" d="M64,275.5Q0,0,-133,-249.6"/>
<path class="a3" d="M214.4,-184.4L215.6,-183Q0,0,33.5,-280.8L35.3,-280.6Q0,0,214.4,-184.4Z"/>
<path class="A7" d="M251.9,128.6Q0,0,-199.6,-200.4"/>
<path class="A10" d="M176.8,220.7Q0,0,-199,-200.9"/>
<path class="A16" d="M-46.4,279Q0,0,-265.5,97.4"/>
<path class="A2" d="M163.1,-231.1Q0,0,203.8,196.1"/>
<path class="A34" d="M-19.4,-282.1Q0,0,-109.7,-260.7"/>
<path class="A24" d="M-282.6,10Q0,0,-93.1,267"/>
<path class="a20" d="M-251.3,129.7L-252.4,127.6Q0,0,281.7,-25L281.9,-22.7Q0,0,-251.3,129.7Z"/>
<path class="A21" d="M-266.1,95.8Q0,0,93.7,266.8"/>
<path class="A15" d="M6.1,282.7Q0,0,281.4,-28"/>
<path class="A22" d="M-274.8,66.9Q0,0,145.5,-242.5"/>
<path class="A11" d="M155.3,236.3Q0,0,-78.3,-271.8"/>
<path class="A8" d="M232.9,160.4Q0,0,-199.4,-200.6"/>
<path class="a2" d="M164,-230.4L164.5,-230Q0,0,109.7,260.7L109.1,260.9Q0,0,164,-230.4Z"/>
<path class="A30" d="M-237.5,-153.5Q0,0,-110.1,-260.5"/>
<path class="A10" d="M178.3,219.5Q0,0,-265.4,97.6"/>
<path class="A4" d="M269.7,-85Q0,0,9.4,282.6"/>
<path class="A6" d="M276.8,58Q0,0,266.4,95"/>
<path class="A15" d="M4.5,282.8Q0,0,-73.2,-273.2"/>
<path class="A30" d="M-237.8,-153.1Q0,0,-274,69.8"/>
<path class="a1" d="M87.7,-268.9L89.5,-268.3Q0,0,-68.5,274.4L-70.3,273.9Q0,0,87.7,-268.9Z"/>
<path class="A15" d="M5,282.8Q0,0,-241.7,146.8"/>
<path class="A1" d="M-175.1,-222.1Q0,0,-222.5,-174.5"/>
<path class="A19" d="M-220.3,177.3Q0,0,193.4,206.3"/>
<path class="A18" d="M-183.2,215.4Q0,0,135.1,248.4"/>
<path class="A33" d="M-108.5,-261.1Q0,0,158.2,234.4"/>
<path class="A22" d="M-275.8,62.4Q0,0,93.5,266.9"/>
<path class="a22" d="M-274.5,67.9L-274.7,67Q0,0,57,-277L57.8,-276.8Q0,0,-274.5,67.9Z"/>
<path class="A15" d="M5.6,282.7Q0,0,36.5,280.4"/>
<path class="A28" d="M-267.7,-91.2Q0,0,-215.7,182.9"/>
<path class="a6" d="M277.3,55.6L277.1,56.7Q0,0,252,-128.3L252.5,-127.3Q0,0,277.3,55.6Z"/>
<path class="A10" d="M183.2,215.4Q0,0,159.8,233.4"/>
<path class="A19" d="M-221.3,176.1Q0,0,-88.1,268.7"/>
<path class="A5" d="M282.8,-3.1Q0,0,266.5,94.7"/>
<path class="A26" d="M-280,-39.4Q0,0,192.7,207"/>
<path class="a17" d="M-117.4,257.3L-120.8,255.7Q0,0,-242.1,146.2L-244,143Q0,0,-117.4,257.3Z"/>
<path class="A20" d="M-256.6,118.9Q0,0,-265.6,97.2"/>
<path class="A23" d="M-280.7,34.8Q0,0,278.5,49.4"/>
<path class="a7" d="M261,108.8L260.3,110.6Q0,0,40.7,-279.8L42.7,-279.6Q0,0,261,108.8Z"/>
<path class="A1" d="M-175,-222.2Q0,0,-153.4,-237.6"/>
<path class="a2" d="M163.5,-230.8L164,-230.4Q0,0,138,246.8L137.5,247.1Q0,0,163.5,-230.8Z"/>
<path class="a3" d="M233.9,-159L234.3,-158.4Q0,0,-204.1,-195.7L-203.6,-196.2Q0,0,233.9,-159Z"/>
<path class="a3" d="M225.9,-170.1L226.3,-169.5Q0,0,-16.7,282.3L-17.4,282.3Q0,0,225.9,-170.1Z"/>
<path class="a33" d="M-108.5,-261.2L-107.8,-261.4Q0,0,90,268.1L89.3,268.3Q0,0,-108.5,-261.2Z"/>
<path class="a34" d="M-27.4,-281.5L-26.8,-281.5Q0,0,-282.6,-11.9L-282.5,-12.5Q0,0,-27.4,-281.5Z"/>
<path class="A12" d="M133.2,249.5Q0,0,44.7,-279.2"/>
<path class="A2" d="M168.7,-227Q0,0,-210.1,189.3"/>
<path class="A10" d="M182.5,216.1Q0,0,36.9,280.4"/>
<path class="A7" d="M252.3,127.8Q0,0,-269.1,-87.1"/>
<path class="A33" d="M-107.7,-261.5Q0,0,-95.9,266"/>
<path class="a4" d="M274,-69.9L274.5,-67.9Q0,0,-203.6,-196.2L-202.2,-197.7Q0,0,274,-69.9Z"/>
<path class="A2" d="M171.4,-225Q0,0,-272.5,75.7"/>
<path class="A5" d="M282.5,13.1Q0,0,-224.3,-172.2"/>
<path class="A16" d="M-48.5,278.6Q0,0,-110.6,-260.3"/>
<path class="A13" d="M64.1,275.4Q0,0,-154.3,-237"/>
<path class="a17" d="M-121.2,255.5L-121.9,255.2Q0,0,-280.4,37.1L-280.5,36.3Q0,0,-121.2,255.5Z"/>
<path class="A23" d="M-280.6,35.1Q0,0,258.9,-113.9"/>
<path class="A1" d="M-180.4,-217.8Q0,0,35.3,280.6"/>
<path class="a10" d="M179.9,218.2L178.8,219.1Q0,0,-155.4,236.3L-156.7,235.4Q0,0,179.9,218.2Z"/>
<path class="a34" d="M-31.8,-281L-31.1,-281.1Q0,0,-216.3,182.1L-216.8,181.6Q0,0,-31.8,-281Z"/>
<path class="A1" d="M-182.8,-215.8Q0,0,261.7,107.1"/>
<path class="A28" d="M-268.5,-88.9Q0,0,59.2,-276.5"/>
<path class="a4" d="M263.3,-103.1L264.8,-99.3Q0,0,35.3,-280.6L39.4,-280Q0,0,263.3,-103.1Z"/>
<path class="A19" d="M-222.2,175Q0,0,-245.3,140.8"/>
<path class="a5" d="M282.8,-4.4L282.8,-3.2Q0,0,279.7,41.9L279.5,43.1Q0,0,282.8,-4.4Z"/>
<path class="A25" d="M-282.5,-13.2Q0,0,262.4,105.5"/>
<path class="A8" d="M232.8,160.6Q0,0,-133.3,-249.4"/>
<path class="A16" d="M-47.2,278.8Q0,0,-260,-111.2"/>
<path class="A22" d="M-276,61.5Q0,0,-245.4,140.6"/>
<path class="a5" d="M282.7,5.8L282.7,6.6Q0,0,-152.6,238.1L-153.4,237.6Q0,0,282.7,5.8Z"/>
<path class="A17" d="M-123.1,254.6Q0,0,-245.1,-141.1"/>
<path class="A29" d="M-259.6,-112.2Q0,0,146.2,-242.1"/>
<path class="a1" d="M-187.7,-211.5L-187.2,-212Q0,0,211.9,-187.3L212.4,-186.8Q0,0,-187.7,-211.5Z"/>
<path class="A10" d="M177.1,220.5Q0,0,-223.5,-173.2"/>
<path class="A7" d="M252.7,126.9Q0,0,-273.4,72.2"/>
<path class="A15" d="M7.3,282.7Q0,0,46.8,-278.9"/>
<path class="a10" d="M186.5,212.6L184.3,214.5Q0,0,280.7,-34.2L281.1,-31.3Q0,0,186.5,212.6Z"/>
<path class="A1" d="M-175.3,-221.9Q0,0,-244.3,-142.5"/>
<path class="A18" d="M-190.4,209.1Q0,0,-259.9,-111.4"/>
<path class="A32" d="M-131.7,-250.3Q0,0,147.4,-241.3"/>
<path class="a17" d="M-124.8,253.8L-126.4,253Q0,0,-72,-273.5L-70.3,-273.9Q0,0,-124.8,253.8Z"/>
<path class="A13" d="M67.1,274.7Q0,0,-280.3,37.5"/>
<path class="A11" d="M157.1,235.1Q0,0,239.2,150.8"/>
<path class="a1" d="M-174.7,-222.4L-171.4,-224.9Q0,0,-59.5,-276.5L-55.4,-277.3Q0,0,-174.7,-222.4Z"/>
<path class="A1" d="M-181.9,-216.6Q0,0,134.6,248.7"/>
<path class="A30" d="M-238.5,-151.9Q0,0,-94.2,266.6"/>
<path class="A12" d="M131.1,250.6Q0,0,98.5,265.1"/>
<path class="A12" d="M130.9,250.7Q0,0,-24.9,281.7"/>
<path class="a2" d="M160.4,-232.9L161.2,-232.4Q0,0,280.2,38.5L280,39.4Q0,0,160.4,-232.9Z"/>
<path class="A0" d="M5.1,-282.8Q0,0,-88.7,-268.5"/>
<path class="A24" d="M-282.6,10.2Q0,0,-28.9,281.3"/>
<path class="A0" d="M3.3,-282.8Q0,0,279.1,-45.4"/>
<path class="A32" d="M-131.9,-250.1Q0,0,62.2,-275.9"/>
<path class="A1" d="M-180.1,-218Q0,0,-30.5,281.2"/>
<path class="A15" d="M7.1,282.7Q0,0,138.2,-246.7"/>
<path class="A18" d="M-193.7,206.1Q0,0,-110.4,-260.4"/>
<path class="a20" d="M-257.7,116.4L-258.3,115.2Q0,0,-66.1,-275L-64.8,-275.3Q0,0,-257.7,116.4Z"/>
<path class="a2" d="M156.8,-235.4L158.3,-234.4Q0,0,248.8,-134.4L249.7,-132.8Q0,0,156.8,-235.4Z"/>
<path class="A29" d="M-258.9,-113.8Q0,0,-94,266.7"/>
<path class="A25" d="M-282.5,-13.4Q0,0,-29.1,281.3"/>
<path class="A5" d="M282.6,11.1Q0,0,-282.5,12.6"/>
<path class="a2" d="M164.8,-229.8L165.4,-229.4Q0,0,-16,282.3L-16.7,282.3Q0,0,164.8,-229.8Z"/>
<path class="A17" d="M-110.1,260.5Q0,0,220,177.7"/>
<path class="a16" d="M-33.8,280.8L-34.5,280.7Q0,0,138.4,-246.6L139,-246.3Q0,0,-33.8,280.8Z"/>
<path class="A1" d="M95.7,-266.1Q0,0,-265,98.6"/>
<path class="A13" d="M66.6,274.8Q0,0,-280.5,-36.1"/>
<path class="A6" d="M277.8,52.7Q0,0,0.8,-282.8"/>
<path class="A10" d="M178.6,219.2Q0,0,-213.5,185.4"/>
<path class="A6" d="M275.6,63.3Q0,0,-212.9,186.1"/>
<path class="A1" d="M-187.8,-211.4Q0,0,147,-241.6"/>
<path class="A6" d="M275.2,65.1Q0,0,-224.1,-172.5"/>
<path class="A14" d="M30.3,281.2Q0,0,-214.2,184.7"/>
<path class="A22" d="M-276.1,61.4Q0,0,-282.6,11.6"/>
<path class="a16" d="M-35.2,280.6L-36.5,280.4Q0,0,255.7,-120.7L256.3,-119.5Q0,0,-35.2,280.6Z"/>
<path class="A32" d="M-131,-250.7Q0,0,191.5,208.1"/>
<path class="A12" d="M130.1,251.1Q0,0,-156.9,235.3"/>
<path class="a19" d="M-221.4,176L-222.1,175.1Q0,0,-160.3,233L-161.2,232.3Q0,0,-221.4,176Z"/>
<path class="A16" d="M-42.2,279.6Q0,0,159.1,233.8"/>
<path class="a19" d="M-223,173.9L-223.5,173.3Q0,0,-66.8,-274.8L-66.1,-275Q0,0,-223,173.9Z"/>
<path class="A24" d="M-282.6,11Q0,0,210.4,-189"/>
<path class="A0" d="M-219.2,-178.6Q0,0,-192.4,-207.2"/>
<path class="a17" d="M-113.9,258.9L-115.2,258.3Q0,0,97.5,265.5L96.1,266Q0,0,-113.9,258.9Z"/>
<path class="a0" d="M3.9,-282.8L4.7,-282.8Q0,0,-67.8,274.6L-68.5,274.4Q0,0,3.9,-282.8Z"/>
<path class="A4" d="M271.7,-78.4Q0,0,-265.2,98.1"/>
<path class="a16" d="M-36.5,280.4L-37.2,280.3Q0,0,281.4,-27.9L281.5,-27.2Q0,0,-36.5,280.4Z"/>
<path class="a13" d="M77.1,272.1L75,272.7Q0,0,279.4,44L279,46.1Q0,0,77.1,272.1Z"/>
<path class="A0" d="M4.9,-282.8Q0,0,-205.2,-194.5"/>
<path class="A26" d="M-279.9,-40.1Q0,0,-164.4,230.1"/>
<path class="A16" d="M-48.4,278.6Q0,0,-154.2,-237.1"/>
<path class="A6" d="M275.4,64.3Q0,0,-282.5,12.5"/>
<path class="A16" d="M-41.6,279.7Q0,0,220,177.7"/>
<path class="A6" d="M276.7,58.4Q0,0,198.6,201.3"/>
<path class="A1" d="M-182.4,-216.1Q0,0,219.6,178.1"/>
<path class="A10" d="M176.6,220.9Q0,0,-133.2,-249.5"/>
<path class="A0" d="M-219.1,-178.8Q0,0,-59.7,-276.4"/>
<path class="a7" d="M253.9,124.5L253.3,125.7Q0,0,-153.6,237.5L-154.7,236.7Q0,0,253.9,124.5Z"/>
<path class="A21" d="M-266.3,95.3Q0,0,-64.8,-275.3"/>
<path class="a10" d="M176.5,220.9L175.7,221.6Q0,0,-79.4,-271.4L-78.4,-271.7Q0,0,176.5,220.9Z"/>
<path class="A7" d="M252.2,127.9Q0,0,-260.3,-110.6"/>
<path class="A1" d="M-175.4,-221.8Q0,0,-275.7,-63.1"/>
<path class="A14" d="M31.4,281.1Q0,0,98.3,265.2"/>
<path class="a4" d="M267.9,-90.5L268.2,-89.8Q0,0,240.2,149.3L239.8,149.9Q0,0,267.9,-90.5Z"/>
<path class="a30" d="M-239.9,-149.7L-239.4,-150.6Q0,0,282.1,-20.2L282.2,-19.1Q0,0,-239.9,-149.7Z"/>
<path class="A31" d="M-151.8,-238.6Q0,0,134.3,248.9"/>
<path class="A28" d="M-268.1,-90Q0,0,262.1,106.2"/>
<path class="A27" d="M-275.5,-63.8Q0,0,145.9,-242.2"/>
<path class="A0" d="M-220.1,-177.6Q0,0,7.9,282.7"/>
<path class="A20" d="M-253,126.4Q0,0,193.2,206.5"/>
<path class="a3" d="M228.8,-166.2L230.6,-163.7Q0,0,-210.1,189.3L-212.1,187Q0,0,228.8,-166.2Z"/>
<path class="a1" d="M80.1,-271.2L81.9,-270.7Q0,0,269.2,86.6L268.6,88.4Q0,0,80.1,-271.2Z"/>
<path class="A20" d="M-257.2,117.5Q0,0,-244.5,-142"/>
<path class="A5" d="M282.3,16.2Q0,0,-133.6,-249.2"/>
<path class="a6" d="M277.5,54.3L277.3,55.6Q0,0,193.9,-205.9L194.9,-205Q0,0,277.5,54.3Z"/>
<path class="a22" d="M-274.8,66.8L-275.1,65.7Q0,0,209.3,-190.2L210.1,-189.3Q0,0,-274.8,66.8Z"/>
<path class="a6" d="M276.6,58.8L276.2,60.9Q0,0,102.7,263.5L100.8,264.2Q0,0,276.6,58.8Z"/>
<path class="A32" d="M-130.7,-250.8Q0,0,90,268.1"/>
<path class="A6" d="M276.6,58.8Q0,0,137,247.4"/>
<path class="a34" d="M-29.7,-281.2L-27.8,-281.4Q0,0,-274.1,69.8L-274.5,67.9Q0,0,-29.7,-281.2Z"/>
<path class="A0" d="M4.9,-282.8Q0,0,-249.9,-132.4"/>
<path class="A1" d="M97.8,-265.3Q0,0,-269.4,-85.9"/>
<path class="A10" d="M178,219.8Q0,0,-282.5,12.4"/>
<path class="a1" d="M82.6,-270.5L83.6,-270.2Q0,0,204.7,195.1L204,195.9Q0,0,82.6,-270.5Z"/>
<path class="A6" d="M275.3,64.6Q0,0,-260.3,-110.5"/>
<path class="A28" d="M-268.1,-89.9Q0,0,282.1,-20.5"/>
<path class="a4" d="M271,-80.8L271.2,-80.1Q0,0,-212.1,187L-212.6,186.5Q0,0,271,-80.8Z"/>
<path class="A10" d="M178.4,219.4Q0,0,-241.1,147.8"/>
<path class="a13" d="M75,272.7L74.4,272.8Q0,0,265.6,97L265.4,97.6Q0,0,75,272.7Z"/>
<path class="a2" d="M156.1,-235.8L156.8,-235.4Q0,0,190.8,-208.8L191.4,-208.2Q0,0,156.1,-235.8Z"/>
<path class="a19" d="M-219,178.9L-219.4,178.4Q0,0,257.5,-117L257.8,-116.3Q0,0,-219,178.9Z"/>
<path class="a30" d="M-243,-144.6L-239.9,-149.7Q0,0,259.3,-112.8L261.6,-107.3Q0,0,-243,-144.6Z"/>
<path class="A3" d="M233,-160.3Q0,0,-276.1,-61.3"/>
<path class="A8" d="M236.2,155.6Q0,0,197.8,-202.1"/>
<path class="A6" d="M275.5,64Q0,0,-273.4,72.4"/>
<path class="A5" d="M282.7,6.8Q0,0,-212.7,186.4"/>
<path class="A5" d="M282.3,16Q0,0,-154.8,-236.6"/>
<path class="A14" d="M30,281.2Q0,0,-197.3,-202.6"/>
<path class="A31" d="M-151.5,-238.8Q0,0,-95.6,266.1"/>
<path class="a18" d="M-181.2,217.1L-181.7,216.7Q0,0,238.1,152.6L237.7,153.2Q0,0,-181.2,217.1Z"/>
<path class="A25" d="M-282.5,-12.7Q0,0,210.5,-188.8"/>
<path class="A34" d="M-24.5,-281.7Q0,0,-222.4,-174.7"/>
<path class="a30" d="M-237.5,-153.5L-237.1,-154.2Q0,0,-60.5,-276.2L-59.8,-276.4Q0,0,-237.5,-153.5Z"/>
<path class="a8" d="M233.9,158.9L233.5,159.5Q0,0,-154.7,236.7L-155.3,236.4Q0,0,233.9,158.9Z"/>
<path class="a16" d="M-38.4,280.2L-41.1,279.8Q0,0,265.4,97.7L264.4,100.3Q0,0,-38.4,280.2Z"/>
<path class="A15" d="M5.2,282.8Q0,0,-158.2,234.4"/>
<path class="A13" d="M66.3,274.9Q0,0,-269,-87.4"/>
<path class="a1" d="M-181.7,-216.7L-180.5,-217.7Q0,0,91.7,267.5L90.2,268Q0,0,-181.7,-216.7Z"/>
<path class="A8" d="M235.1,157.2Q0,0,159.8,233.3"/>
<path class="a4" d="M267.5,-91.7L267.9,-90.5Q0,0,266.9,93.4L266.5,94.6Q0,0,267.5,-91.7Z"/>
<path class="a4" d="M273.8,-70.7L274,-69.9Q0,0,-225,-171.3L-224.5,-172Q0,0,273.8,-70.7Z"/>
<path class="A11" d="M157.6,234.8Q0,0,199.3,-200.7"/>
<path class="A21" d="M-266.1,95.7Q0,0,-28.7,281.3"/>
<path class="A9" d="M218.5,179.6Q0,0,-80.7,271"/>
<path class="A15" d="M5.8,282.7Q0,0,98.1,265.2"/>
<path class="A9" d="M218.3,179.8Q0,0,-282.5,12.5"/>
<path class="A13" d="M72.5,273.3Q0,0,36.7,280.4"/>
<path class="A16" d="M-42.6,279.6Q0,0,135.9,248"/>
<path class="a34" d="M-31.1,-281.1L-29.8,-281.2Q0,0,-246.7,138.2L-247.3,137.1Q0,0,-31.1,-281.1Z"/>
<path class="a18" d="M-181.9,216.6L-183,215.6Q0,0,194.7,205.1L193.6,206.2Q0,0,-181.9,216.6Z"/>
<path class="A8" d="M236.8,154.6Q0,0,1,-282.8"/>
<path class="a4" d="M269.8,-84.8L270.2,-83.5Q0,0,-17.4,282.3L-18.7,282.2Q0,0,269.8,-84.8Z"/>
<path class="a20" d="M-247.4,137.1L-248.4,135.3Q0,0,54.9,-277.4L56.9,-277Q0,0,-247.4,137.1Z"/>
<path class="a7" d="M257.2,117.6L256.9,118.3Q0,0,198.5,201.5L197.9,202Q0,0,257.2,117.6Z"/>
<path class="A28" d="M-267.7,-91.3Q0,0,-245.8,139.8"/>
<path class="a4" d="M270.7,-81.9L271,-80.8Q0,0,-151.7,238.7L-152.6,238.1Q0,0,270.7,-81.9Z"/>
<path class="a5" d="M282.7,6.9L282.6,9.3Q0,0,-239.1,151L-240.4,149Q0,0,282.7,6.9Z"/>
<path class="A10" d="M178.2,219.6Q0,0,-273.5,71.7"/>
<path class="A29" d="M-258.9,-113.7Q0,0,-29.5,281.3"/>
<path class="A18" d="M-184.4,214.4Q0,0,8.2,282.7"/>
<path class="A11" d="M157.5,234.9Q0,0,254.6,-123.1"/>
<path class="a25" d="M-282.5,-13.5L-282.4,-14.3Q0,0,-163.7,230.6L-164.3,230.2Q0,0,-282.5,-13.5Z"/>
<path class="a34" d="M-25.4,-281.7L-24.7,-281.7Q0,0,-244.1,-142.7L-243.7,-143.4Q0,0,-25.4,-281.7Z"/>
<path class="A23" d="M-280.7,34Q0,0,-28.8,281.3"/>
<path class="A20" d="M-253.1,126.1Q0,0,135,248.5"/>
<path class="A3" d="M232.4,-161.2Q0,0,-280.2,38.4"/>
<path class="A0" d="M-221,-176.4Q0,0,282.2,-18.9"/>
<path class="a34" d="M-43.5,-279.4L-42.6,-279.6Q0,0,134.2,248.9L133.4,249.3Q0,0,-43.5,-279.4Z"/>
<path class="A27" d="M-275.1,-65.5Q0,0,-245.7,139.9"/>
<path class="A14" d="M31,281.1Q0,0,-25.7,281.6"/>
<path class="A19" d="M-222.4,174.7Q0,0,-268.7,-88.2"/>
<path class="A15" d="M5.9,282.7Q0,0,265.4,97.7"/>
<path class="A7" d="M256.8,118.4Q0,0,160,233.2"/>
<path class="A1" d="M100.9,-264.2Q0,0,-112.3,-259.6"/>
<path class="A0" d="M-221.8,-175.5Q0,0,211.9,-187.3"/>
<path class="A34" d="M-29.8,-281.2Q0,0,-265.6,97"/>
<path class="A7" d="M251.6,129.2Q0,0,-111.4,-259.9"/>
<path class="A21" d="M-266.2,95.6Q0,0,-163.2,230.9"/>
<path class="A14" d="M32,281Q0,0,281.4,-28.2"/>
<path class="A30" d="M-238.4,-152.1Q0,0,-164.9,229.8"/>
<path class="a1" d="M-179.1,-218.9L-176.4,-221Q0,0,-165.2,229.5L-168,227.5Q0,0,-179.1,-218.9Z"/>
<path class="A28" d="M-268.1,-90.1Q0,0,237.4,153.7"/>
<path class="A23" d="M-280.9,33Q0,0,-215.6,183.1"/>
<path class="A29" d="M-258.7,-114.3Q0,0,-60.7,-276.2"/>
<path class="a4" d="M272.3,-76.4L273.8,-70.7Q0,0,-249.3,-133.6L-246.4,-138.8Q0,0,272.3,-76.4Z"/>
<path class="A18" d="M-193.4,206.3Q0,0,-154,-237.2"/>
<path class="A30" d="M-239.1,-151Q0,0,262,106.5"/>
<path class="A10" d="M183.3,215.3Q0,0,239.3,150.7"/>
<path class="A16" d="M-43.5,279.4Q0,0,8.5,282.7"/>
<path class="A6" d="M275.7,63Q0,0,-153.5,237.5"/>
<path class="A29" d="M-259.3,-112.9Q0,0,282.1,-20.3"/>
<path class="A13" d="M72,273.5Q0,0,-25.3,281.7"/>
<path class="A13" d="M74.2,272.9Q0,0,239.1,151"/>
<path class="A0" d="M3.5,-282.8Q0,0,240.9,148.2"/>
<path class="A7" d="M257.3,117.3Q0,0,239.5,150.4"/>
<path class="a3" d="M225,-171.3L225.8,-170.3Q0,0,39.6,280L38.4,280.2Q0,0,225,-171.3Z"/>
<path class="A11" d="M156.4,235.6Q0,0,-24.5,281.7"/>
<path class="A7" d="M252.7,127.1Q0,0,-280.3,37.8"/>
<path class="a17" d="M-106.4,262L-108.9,261Q0,0,264.4,100.3L263.4,102.8Q0,0,-106.4,262Z"/>
<path class="A30" d="M-243.2,-144.4Q0,0,211.7,-187.5"/>
<path class="a22" d="M-275.2,65.1L-275.5,63.7Q0,0,281.9,-22.6L282,-21.1Q0,0,-275.2,65.1Z"/>
<path class="a2" d="M161.2,-232.4L162.3,-231.6Q0,0,268.6,88.4L268.2,89.7Q0,0,161.2,-232.4Z"/>
<path class="A30" d="M-243.4,-144.1Q0,0,146.4,-242"/>
<path class="a18" d="M-171.4,224.9L-174.7,222.4Q0,0,50.5,-278.3L54.5,-277.5Q0,0,-171.4,224.9Z"/>
<path class="A33" d="M-109.2,-260.9Q0,0,212.7,-186.4"/>
<path class="a18" d="M-176.3,221.1L-178.4,219.4Q0,0,204.1,-195.7L206,-193.8Q0,0,-176.3,221.1Z"/>
<path class="A6" d="M275.3,64.5Q0,0,-276,-61.7"/>
<path class="A1" d="M85.9,-269.4Q0,0,10.3,282.6"/>
<path class="A5" d="M282.6,11.3Q0,0,-280.6,-35.2"/>
<path class="A13" d="M72.3,273.4Q0,0,8.8,282.7"/>
<path class="a16" d="M-45.7,279.1L-46.4,279Q0,0,-241.7,146.7L-242.1,146.2Q0,0,-45.7,279.1Z"/>
<path class="a5" d="M282.6,11.8L282.5,12.8Q0,0,-246.4,-138.8L-245.9,-139.7Q0,0,282.6,11.8Z"/>
<path class="A10" d="M177.8,220Q0,0,-275.9,-62"/>
<path class="A25" d="M-282.4,-14.8Q0,0,-110.2,-260.5"/>
<path class="a3" d="M218.4,-179.7L219.2,-178.7Q0,0,280,39.4L279.9,40.7Q0,0,218.4,-179.7Z"/>
<path class="A4" d="M272,-77.3Q0,0,-282.6,-10"/>
<path class="A11" d="M155.4,236.3Q0,0,-111.3,-260"/>
<path class="A31" d="M-152,-238.5Q0,0,261.6,107.4"/>
<path class="A11" d="M157.2,235.1Q0,0,265.8,96.5"/>
<path class="A31" d="M-153,-237.8Q0,0,61.9,-275.9"/>
<path class="A15" d="M6,282.7Q0,0,279,46.2"/>
<path class="A2" d="M171.5,-224.8Q0,0,-280.2,38.5"/>
<path class="A7" d="M252,128.3Q0,0,-223.9,-172.7"/>
<path class="A34" d="M-20.1,-282.1Q0,0,-153.2,-237.7"/>
<path class="A14" d="M31.2,281.1Q0,0,8.6,282.7"/>
<path class="A22" d="M-275.8,62.7Q0,0,134.8,248.6"/>
<path class="A25" d="M-282.5,-13.2Q0,0,282,-20.8"/>
<path class="A6" d="M275.3,64.8Q0,0,-245.8,-139.9"/>
<path class="a4" d="M267.2,-92.8L267.5,-91.7Q0,0,279.9,40.7L279.7,41.9Q0,0,267.2,-92.8Z"/>
<path class="A23" d="M-280.6,35.2Q0,0,210.1,-189.3"/>
<path class="A23" d="M-280.9,32.9Q0,0,-193,-206.7"/>
<path class="a18" d="M-180.2,218L-181.2,217.1Q0,0,263.4,102.8L262.9,104.1Q0,0,-180.2,218Z"/>
<path class="A33" d="M-107.4,-261.6Q0,0,-282.6,-11.8"/>
<path class="A8" d="M232.8,160.5Q0,0,-154.5,-236.9"/>
<path class="A10" d="M177.7,220Q0,0,-269,-87.3"/>
<path class="A30" d="M-239,-151.2Q0,0,192.2,207.4"/>
<path class="a13" d="M85.2,269.7L84.3,269.9Q0,0,45,-279.2L45.9,-279Q0,0,85.2,269.7Z"/>
<path class="A3" d="M225.8,-170.2Q0,0,9.8,282.6"/>
<path class="A13" d="M66.1,275Q0,0,-260,-111.1"/>
<path class="a34" d="M-50.4,-278.3L-49.3,-278.5Q0,0,262.9,-104.2L263.3,-103.2Q0,0,-50.4,-278.3Z"/>
<path class="A19" d="M-222.3,174.8Q0,0,-280.5,36.2"/>
<path class="A15" d="M4.8,282.8Q0,0,-197.2,-202.7"/>
<path class="A2" d="M171.6,-224.8Q0,0,-282.5,13.2"/>
<path class="A1" d="M96.7,-265.8Q0,0,-280.1,38.7"/>
<path class="A31" d="M-151.7,-238.7Q0,0,90.1,268"/>
<path class="a5" d="M282.6,-10.3L282.7,-8.2Q0,0,192.3,-207.3L193.9,-205.9Q0,0,282.6,-10.3Z"/>
<path class="a1" d="M63.7,-275.5L73,-273.2Q0,0,120.5,-255.8L129.1,-251.6Q0,0,63.7,-275.5Z"/>
<path class="A5" d="M282.8,-2.5Q0,0,220.3,177.3"/>
<path class="A20" d="M-256.6,118.8Q0,0,-273.9,70.3"/>
<path class="A1" d="M-174.9,-222.2Q0,0,-132.3,-249.9"/>
<path class="A24" d="M-282.6,9.5Q0,0,-192.9,-206.8"/>
<path class="A0" d="M-221.9,-175.3Q0,0,146.7,-241.8"/>
<path class="A12" d="M129.8,251.3Q0,0,-273.6,71.5"/>
<path class="A20" d="M-253.5,125.3Q0,0,8,282.7"/>
<path class="A21" d="M-266,95.9Q0,0,262.5,105.2"/>
<path class="A6" d="M276.1,61Q0,0,9,282.7"/>
<path class="A33" d="M-107.3,-261.7Q0,0,-244.2,-142.7"/>
<path class="A3" d="M221.9,-175.3Q0,0,220.6,176.9"/>
<path class="A21" d="M-266.2,95.4Q0,0,-193,-206.7"/>
<path class="A16" d="M-43.4,279.4Q0,0,36.3,280.5"/>
<path class="A16" d="M-31.9,281Q0,0,1.4,-282.8"/>
<path class="A29" d="M-258.7,-114.2Q0,0,-282.6,11.5"/>
<path class="A8" d="M235.2,157.1Q0,0,197.9,202.1"/>
<path class="A34" d="M-38.6,-280.2Q0,0,35.2,280.6"/>
<path class="A20" d="M-257.3,117.3Q0,0,-222.7,-174.3"/>
<path class="a20" d="M-255.5,121.3L-256.5,119.2Q0,0,-161.2,232.3L-163.2,231Q0,0,-255.5,121.3Z"/>
<path class="a34" d="M-46.2,-279L-45.2,-279.2Q0,0,261.5,107.7L261.1,108.7Q0,0,-46.2,-279Z"/>
<path class="A17" d="M-122,255.1Q0,0,-282.5,12"/>
<path class="A16" d="M-45.6,279.1Q0,0,-214.3,184.5"/>
<path class="A6" d="M275.8,62.6Q0,0,-76.6,272.2"/>
<path class="A30" d="M-243.6,-143.7Q0,0,59.8,-276.4"/>
<path class="a4" d="M271.2,-80.1L271.6,-78.7Q0,0,-238.3,152.2L-239.1,151Q0,0,271.2,-80.1Z"/>
<path class="a16" d="M-34.5,280.7L-35.2,280.6Q0,0,202.6,-197.3L203.1,-196.8Q0,0,-34.5,280.7Z"/>
<path class="A8" d="M233.3,159.9Q0,0,-273.5,72"/>
<path class="A32" d="M-130.6,-250.8Q0,0,-95.8,266.1"/>
<path class="a4" d="M269.1,-86.9L269.4,-86.1Q0,0,106.2,262.1L105.4,262.4Q0,0,269.1,-86.9Z"/>
<path class="A1" d="M83.9,-270.1Q0,0,138.3,246.7"/>
<path class="A0" d="M3.2,-282.8Q0,0,246.8,-138"/>
<path class="a1" d="M85,-269.7L85.8,-269.5Q0,0,40.4,279.9L39.6,280Q0,0,85,-269.7Z"/>
<path class="a8" d="M236.1,155.7L235.7,156.3Q0,0,253.1,-126.2L253.4,-125.5Q0,0,236.1,155.7Z"/>
<path class="A19" d="M-217,181.3Q0,0,142.6,-244.2"/>
<path class="A9" d="M218.3,179.7Q0,0,-280.3,37.7"/>
<path class="a6" d="M275.2,65.2L274.9,66.2Q0,0,-200.5,-199.5L-199.8,-200.2Q0,0,275.2,65.2Z"/>
<path class="A0" d="M-219.3,-178.5Q0,0,-280.4,-37"/>
<path class="A25" d="M-282.5,-12.5Q0,0,58.3,-276.7"/>
<path class="a18" d="M-190.8,208.7L-193.3,206.4Q0,0,-196.1,-203.8L-193.6,-206.1Q0,0,-190.8,208.7Z"/>
<path class="A11" d="M155.7,236.1Q0,0,-156.7,235.4"/>
<path class="A9" d="M218.8,179.1Q0,0,280.7,-34.4"/>
<path class="a1" d="M99.1,-264.9L100.3,-264.4Q0,0,-205.2,-194.6L-204.3,-195.5Q0,0,99.1,-264.9Z"/>
<path class="A23" d="M-280.7,34.3Q0,0,93,267.1"/>
<path class="a10" d="M189.4,210L188.2,211.1Q0,0,198,-201.9L199.2,-200.7Q0,0,189.4,210Z"/>
<path class="a16" d="M-48.5,278.6L-49.5,278.4Q0,0,-73,-273.2L-72,-273.5Q0,0,-48.5,278.6Z"/>
<path class="a34" d="M-44.8,-279.2L-43.7,-279.4Q0,0,191.4,208.1L190.6,208.9Q0,0,-44.8,-279.2Z"/>
<path class="A16" d="M-47.7,278.7Q0,0,-223.2,-173.7"/>
<path class="A27" d="M-275.1,-65.7Q0,0,-265.6,97.2"/>
<path class="a8" d="M234.6,157.9L233.9,158.9Q0,0,-79.5,271.4L-80.6,271.1Q0,0,234.6,157.9Z"/>
<path class="a13" d="M84.3,269.9L83.6,270.2Q0,0,137.5,-247.1L138.1,-246.8Q0,0,84.3,269.9Z"/>
<path class="A24" d="M-282.6,10.7Q0,0,282,-20.9"/>
<path class="a18" d="M-179.3,218.7L-180,218.1Q0,0,281.6,-26.2L281.7,-25.3Q0,0,-179.3,218.7Z"/>
<path class="A31" d="M-151.2,-239Q0,0,-216.2,182.3"/>
<path class="a18" d="M-186.3,212.7L-187.2,212Q0,0,-214.6,184.1L-215.4,183.3Q0,0,-186.3,212.7Z"/>
<path class="A19" d="M-220.2,177.5Q0,0,237.7,153.2"/>
<path class="A7" d="M256.3,119.5Q0,0,37,280.4"/>
<path class="A3" d="M234.5,-158Q0,0,-112,-259.7"/>
<path class="A24" d="M-282.6,9.5Q0,0,-62.5,-275.8"/>
<path class="A9" d="M218.6,179.4Q0,0,136.5,247.7"/>
<path class="A31" d="M-150.6,-239.4Q0,0,-55.3,-277.3"/>
<path class="A11" d="M157.4,235Q0,0,279.4,43.8"/>
<path class="A1" d="M82.5,-270.5Q0,0,220.9,176.6"/>
<path class="a5" d="M282.5,-12.9L282.6,-10.3Q0,0,131.4,-250.4L133.7,-249.2Q0,0,282.5,-12.9Z"/>
<path class="a18" d="M-187.2,212L-189,210.4Q0,0,-244,143L-245.2,140.9Q0,0,-187.2,212Z"/>
<path class="a20" d="M-249.8,132.6L-250.6,131.1Q0,0,208.1,-191.5L209.2,-190.3Q0,0,-249.8,132.6Z"/>
<path class="A13" d="M74,272.9Q0,0,220.1,177.6"/>
<path class="A3" d="M234.3,-158.3Q0,0,-155.2,-236.4"/>
<path class="a23" d="M-280.8,34L-280.9,33.1Q0,0,-92.2,267.3L-93,267.1Q0,0,-280.8,34Z"/>
<path class="A7" d="M251.7,128.9Q0,0,-154.7,-236.8"/>
<path class="A1" d="M96.9,-265.7Q0,0,-282.6,-9.6"/>
<path class="a18" d="M-185.5,213.5L-186.3,212.7Q0,0,-86.9,269.1L-88,268.8Q0,0,-185.5,213.5Z"/>
<path class="A0" d="M3.7,-282.8Q0,0,110.7,260.2"/>
<path class="A7" d="M252.4,127.6Q0,0,-275.9,-61.9"/>
<path class="a1" d="M-180,-218.1L-179.1,-218.9Q0,0,-94.5,266.6L-95.6,266.2Q0,0,-180,-218.1Z"/>
<path class="A12" d="M131.4,250.4Q0,0,197.7,202.3"/>
<path class="A8" d="M233.2,160.1Q0,0,-260.2,-110.7"/>
<path class="A0" d="M3.4,-282.8Q0,0,269.2,86.5"/>
<path class="a1" d="M-187.2,-212L-185.7,-213.3Q0,0,262,-106.6L262.7,-104.7Q0,0,-187.2,-212Z"/>
<path class="A1" d="M-188.9,-210.4Q0,0,2.5,-282.8"/>
<path class="a6" d="M277.7,53.4L277.5,54.3Q0,0,133.7,-249.2L134.5,-248.8Q0,0,277.7,53.4Z"/>
<path class="a5" d="M282.5,13.3L282.4,15.9Q0,0,-202.2,-197.7L-200.5,-199.5Q0,0,282.5,13.3Z"/>
<path class="A1" d="M-175.6,-221.6Q0,0,-282.6,11.5"/>
<path class="A20" d="M-252.4,127.5Q0,0,278.5,48.8"/>
<path class="A17" d="M-115.5,258.2Q0,0,8.4,282.7"/>
<path class="a5" d="M282.8,4.7L282.7,5.8Q0,0,-75.3,272.6L-76.4,272.3Q0,0,282.8,4.7Z"/>
<path class="A7" d="M252.6,127.1Q0,0,-282.6,-10.3"/>
<path class="A17" d="M-124.4,254Q0,0,-154.1,-237.1"/>
<path class="A32" d="M-130.8,-250.7Q0,0,134.3,248.9"/>
<path class="A17" d="M-122.6,254.8Q0,0,-268.8,-87.8"/>
<path class="A17" d="M-106.2,262.1Q0,0,278.7,47.8"/>
<path class="A9" d="M218.5,179.5Q0,0,-23.8,281.8"/>
<path class="A34" d="M-44.9,-279.2Q0,0,219.5,178.3"/>
<path class="A6" d="M275.4,64.4Q0,0,-280.6,-35.3"/>
<path class="a13" d="M70.3,273.9L69.1,274.2Q0,0,-156.9,235.3L-157.9,234.6Q0,0,70.3,273.9Z"/>
<path class="a17" d="M-110.2,260.5L-112.8,259.3Q0,0,196.7,203.1L194.7,205.1Q0,0,-110.2,260.5Z"/>
<path class="A18" d="M-190.7,208.8Q0,0,-222.8,-174.1"/>
<path class="a2" d="M148,-241L156.1,-235.8Q0,0,24,-281.8L33.5,-280.8Q0,0,148,-241Z"/>
<path class="A31" d="M-151.9,-238.5Q0,0,237.1,154.2"/>
<path class="A24" d="M-282.6,9.6Q0,0,-259.8,-111.7"/>
<path class="A22" d="M-276,61.7Q0,0,-163.4,230.8"/>
<path class="a12" d="M130.7,250.8L130.1,251.1Q0,0,-84,270L-84.6,269.8Q0,0,130.7,250.8Z"/>
<path class="A18" d="M-184.2,214.6Q0,0,35.9,280.5"/>
<path class="A9" d="M219,178.9Q0,0,253.5,-125.4"/>
<path class="A16" d="M-43.9,279.4Q0,0,-86.6,269.2"/>
<path class="a1" d="M95.7,-266.1L96.5,-265.8Q0,0,-272.2,76.7L-272.4,75.8Q0,0,95.7,-266.1Z"/>
<path class="A34" d="M-27.4,-281.5Q0,0,-282.6,11.4"/>
<path class="A28" d="M-268,-90.2Q0,0,192.5,207.1"/>
<path class="A2" d="M172.1,-224.4Q0,0,-260.6,-109.7"/>
<path class="A5" d="M282.6,11.4Q0,0,-269.1,-87"/>
<path class="a7" d="M259.7,111.8L258.2,115.4Q0,0,194.9,-205L197.7,-202.2Q0,0,259.7,111.8Z"/>
<path class="a20" d="M-252.5,127.4L-252.8,126.7Q0,0,262.8,104.5L262.5,105.2Q0,0,-252.5,127.4Z"/>
<path class="A0" d="M-219.4,-178.5Q0,0,-246.2,139.1"/>
<path class="a3" d="M230.6,-163.7L231.6,-162.3Q0,0,-237.4,153.7L-238.3,152.2Q0,0,230.6,-163.7Z"/>
<path class="A22" d="M-276.1,61Q0,0,-244.4,-142.3"/>
<path class="A6" d="M275.5,63.8Q0,0,-265.4,97.7"/>
<path class="a14" d="M33.1,280.9L32.2,281Q0,0,255.1,-122L255.5,-121.2Q0,0,33.1,280.9Z"/>
<path class="A1" d="M98.1,-265.2Q0,0,-260.7,-109.6"/>
<path class="A16" d="M-41.8,279.7Q0,0,196.9,203"/>
<path class="A27" d="M-275.4,-64.4Q0,0,282,-20.6"/>
<path class="A7" d="M257.6,116.7Q0,0,280.6,-35"/>
<path class="A1" d="M83.6,-270.1Q0,0,160.6,232.8"/>
<path class="a18" d="M-193.7,206L-196.3,203.5Q0,0,-70.3,-273.9L-66.8,-274.8Q0,0,-193.7,206Z"/>
<path class="a1" d="M89.5,-268.3L93.4,-266.9Q0,0,-144.1,243.4L-147.6,241.2Q0,0,89.5,-268.3Z"/>
<path class="A16" d="M-43.1,279.5Q0,0,97.8,265.4"/>
<path class="A34" d="M-25.9,-281.6Q0,0,-268.6,-88.5"/>
<path class="a1" d="M84.2,-270L85,-269.7Q0,0,110.6,260.3L109.7,260.7Q0,0,84.2,-270Z"/>
<path class="A5" d="M282.6,11.6Q0,0,-260.4,-110.4"/>
<path class="a18" d="M-184.5,214.3L-185.5,213.5Q0,0,-26.5,281.6L-27.8,281.4Q0,0,-184.5,214.3Z"/>
<path class="A1" d="M-182.6,-216Q0,0,237.2,154.1"/>
<path class="A20" d="M-257.7,116.4Q0,0,-132.5,-249.8"/>
<path class="A18" d="M-190.3,209.2Q0,0,-268.7,-88.1"/>
<path class="A13" d="M67.8,274.6Q0,0,-265.5,97.5"/>
<path class="A13" d="M72.7,273.3Q0,0,136.2,247.8"/>
<path class="a12" d="M133,249.6L132.5,249.9Q0,0,136.9,-247.4L137.5,-247.1Q0,0,133,249.6Z"/>
<path class="A7" d="M253.2,125.9Q0,0,-213.2,185.8"/>
<path class="A8" d="M236.6,154.8Q0,0,42.9,-279.5"/>
<path class="A3" d="M233.9,-159Q0,0,-225,-171.3"/>
<path class="A10" d="M177.9,219.9Q0,0,-280.5,-35.9"/>
<path class="A27" d="M-275.5,-64.1Q0,0,210.8,-188.5"/>
<path class="a13" d="M63.2,275.6L59.3,276.5Q0,0,-77.3,-272L-73.5,-273.1Q0,0,63.2,275.6Z"/>
<path class="A28" d="M-268.3,-89.5Q0,0,211.1,-188.2"/>
<path class="A13" d="M73.1,273.2Q0,0,159.5,233.5"/>
<path class="a13" d="M80.6,271.1L79.8,271.3Q0,0,254.8,-122.7L255.1,-122Q0,0,80.6,271.1Z"/>
<path class="A8" d="M234.7,157.7Q0,0,-23.6,281.8"/>
<path class="A26" d="M-280,-39.6Q0,0,92.6,267.2"/>
<path class="A1" d="M-174.8,-222.3Q0,0,-110,-260.5"/>
<path class="a6" d="M277.1,56.7L276.8,57.9Q0,0,280.5,-36.3L280.6,-35.1Q0,0,277.1,56.7Z"/>
<path class="A2" d="M173.2,-223.6Q0,0,-133.9,-249.1"/>
<path class="A30" d="M-239.3,-150.7Q0,0,278.3,50.1"/>
<path class="A25" d="M-282.5,-12.6Q0,0,145.8,-242.3"/>
<path class="a1" d="M85.9,-269.4L87.7,-268.9Q0,0,-14.1,282.4L-16,282.3Q0,0,85.9,-269.4Z"/>
<path class="A19" d="M-223,173.9Q0,0,-110.3,-260.4"/>
<path class="a13" d="M63.9,275.5L63.2,275.6Q0,0,-111.3,-260L-110.6,-260.3Q0,0,63.9,275.5Z"/>
<path class="A23" d="M-280.6,35.6Q0,0,58,-276.8"/>
<path class="A17" d="M-122.9,254.7Q0,0,-260,-111.3"/>
<path class="A17" d="M-120.8,255.7Q0,0,-265.5,97.4"/>
<path class="A22" d="M-275.6,63.4Q0,0,262.5,105.3"/>
<path class="A26" d="M-279.9,-40.6Q0,0,-222.6,-174.4"/>
<path class="a16" d="M-31.9,281L-33.8,280.8Q0,0,46.8,-278.9L48.7,-278.6Q0,0,-31.9,281Z"/>
<path class="a22" d="M-276.2,60.9L-276.6,59Q0,0,-64.7,-275.3L-62.8,-275.7Q0,0,-276.2,60.9Z"/>
<path class="A14" d="M29.9,281.2Q0,0,-73.4,-273.1"/>
<path class="A2" d="M173.3,-223.5Q0,0,-112.2,-259.6"/>
<path class="A18" d="M-189.3,210.1Q0,0,-282.6,11.9"/>
<path class="A5" d="M282.6,9.3Q0,0,-265.4,97.8"/>
<path class="a20" d="M-253.2,126.1L-253.4,125.5Q0,0,94.3,266.6L93.7,266.8Q0,0,-253.2,126.1Z"/>
<path class="A2" d="M148,-241Q0,0,0.3,-282.8"/>
<path class="A28" d="M-268,-90.3Q0,0,92.3,267.3"/>
<path class="a5" d="M282.8,0.7L282.8,3.6Q0,0,105.4,262.4L102.7,263.5Q0,0,282.8,0.7Z"/>
<path class="a34" d="M-37.2,-280.3L-35.4,-280.6Q0,0,-96,266L-97.7,265.4Q0,0,-37.2,-280.3Z"/>
<path class="A23" d="M-280.9,33Q0,0,-244.3,-142.4"/>
<path class="A10" d="M177.5,220.1Q0,0,-260.1,-111"/>
<path class="A19" d="M-222.8,174.2Q0,0,-193.5,-206.2"/>
<path class="a4" d="M270.2,-83.5L270.7,-81.9Q0,0,-73.7,273L-75.3,272.6Q0,0,270.2,-83.5Z"/>
<path class="A33" d="M-108.9,-261Q0,0,262.8,-104.3"/>
<path class="A26" d="M-280.1,-38.9Q0,0,278.4,49.6"/>
<path class="A3" d="M233.7,-159.3Q0,0,-249.4,-133.3"/>
<path class="A16" d="M-47.3,278.8Q0,0,-245.2,-140.8"/>
<path class="a16" d="M-37.2,280.3L-38.4,280.2Q0,0,279,46.3L278.8,47.6Q0,0,-37.2,280.3Z"/>
<path class="a3" d="M219.2,-178.7L221.7,-175.6Q0,0,268.2,89.7L266.9,93.4Q0,0,219.2,-178.7Z"/>
<path class="A7" d="M257.5,116.9Q0,0,279.5,43.2"/>
<path class="A18" d="M-190.1,209.4Q0,0,-280.4,-36.6"/>
<path class="A34" d="M-38.4,-280.2Q0,0,7.5,282.7"/>
<path class="A32" d="M-129.9,-251.2Q0,0,-55,-277.4"/>
<path class="A2" d="M163.4,-230.8Q0,0,160.5,232.8"/>
<path class="a1" d="M74.8,-272.7L78.8,-271.6Q0,0,246.8,-138L248.8,-134.4Q0,0,74.8,-272.7Z"/>
<path class="a3" d="M215.6,-183L216.1,-182.4Q0,0,129.1,-251.6L129.8,-251.3Q0,0,215.6,-183Z"/>
<path class="A31" d="M-151.6,-238.7Q0,0,-30.7,281.1"/>
<path class="A15" d="M6.4,282.7Q0,0,255.6,-121"/>
<path class="A27" d="M-275.2,-65.2Q0,0,-93.5,266.9"/>
<path class="A12" d="M132.1,250.1Q0,0,281.1,-31.3"/>
<path class="a34" d="M-49.3,-278.5L-47.4,-278.8Q0,0,282.4,-15.5L282.5,-13.6Q0,0,-49.3,-278.5Z"/>
<path class="A27" d="M-275,-66.1Q0,0,-61.2,-276.1"/>
<path class="A18" d="M-190.5,209Q0,0,-245,-141.3"/>
<path class="A2" d="M171.7,-224.7Q0,0,-280.7,-34.6"/>
<path class="a6" d="M276.1,61.1L275.8,62.4Q0,0,-19.4,282.1L-20.7,282Q0,0,276.1,61.1Z"/>
<path class="A32" d="M-130.1,-251.1Q0,0,-192.2,-207.4"/>
<path class="A21" d="M-265.8,96.7Q0,0,209.2,-190.2"/>
<path class="A2" d="M162.8,-231.3Q0,0,220.7,176.8"/>
<path class="A6" d="M275.3,64.6Q0,0,-269.1,-87"/>
<path class="A12" d="M131.7,250.3Q0,0,265.7,96.8"/>
<path class="A5" d="M282.8,0.6Q0,0,137.1,247.3"/>
<path class="a13" d="M71.7,273.6L70.3,273.9Q0,0,-84.6,269.8L-86,269.4Q0,0,71.7,273.6Z"/>
<path class="A16" d="M-46.7,278.9Q0,0,-282.6,-10.5"/>
<path class="A4" d="M272.2,-76.6Q0,0,-269.1,-86.8"/>
<path class="A24" d="M-282.6,11.3Q0,0,58.2,-276.8"/>
<path class="A26" d="M-280.1,-39.2Q0,0,262.3,105.8"/>
<path class="A0" d="M2.8,-282.8Q0,0,120.4,-255.9"/>
<path class="a20" d="M-253.5,125.3L-253.8,124.7Q0,0,-28,281.4L-28.7,281.3Q0,0,-253.5,125.3Z"/>
<path class="A7" d="M256.7,118.7Q0,0,136.8,247.5"/>
<path class="A22" d="M-275.9,62Q0,0,-92.1,267.4"/>
<path class="A28" d="M-268.2,-89.8Q0,0,259.2,-113"/>
<path class="A17" d="M-113.1,259.2Q0,0,158.7,234.1"/>
<path class="A32" d="M-131.2,-250.5Q0,0,261.5,107.6"/>
<path class="A25" d="M-282.5,-12.9Q0,0,259,-113.6"/>
<path class="A9" d="M219.4,178.5Q0,0,43.3,-279.5"/>
<path class="A17" d="M-124.7,253.8Q0,0,-110.5,-260.3"/>
<path class="A13" d="M66.9,274.8Q0,0,-282.5,12.3"/>
<path class="A0" d="M4.8,-282.8Q0,0,-144,243.4"/>
<path class="a13" d="M65.7,275.1L64.2,275.4Q0,0,-198.5,-201.4L-197.4,-202.5Q0,0,65.7,275.1Z"/>
<path class="A4" d="M272.1,-77Q0,0,-280.6,-35"/>
<path class="A12" d="M129.2,251.6Q0,0,-133.1,-249.5"/>
<path class="A26" d="M-279.9,-40.3Q0,0,-245.7,140.1"/>
<path class="a19" d="M-220.4,177.2L-220.9,176.6Q0,0,95,266.4L94.3,266.6Q0,0,-220.4,177.2Z"/>
<path class="A26" d="M-280.2,-38.3Q0,0,210.6,-188.7"/>
<path class="A8" d="M233.1,160.2Q0,0,-223.8,-172.9"/>
<path class="A17" d="M-122.2,255Q0,0,-280.5,-36.4"/>
</g>
<path fill="#E8212B" d="M0.3,-400.5A400.5,400.5 0 0 1 7.3,-400.4L6.8,-368.6A368.7,368.7 0 0 0 0.3,-368.7Z"/>
<path fill="#fff" stroke="#E8212B" stroke-width="0.45" stroke-dasharray="1.2,1.2" d="M0.3,-367A367,367 0 0 1 3.5,-367L3.4,-352.3A352.3,352.3 0 0 0 0.3,-352.3Z"/>
<path fill="#E8212B" d="M3.5,-367A367,367 0 0 1 6.7,-366.9L6.5,-351.9A352,352 0 0 0 3.4,-352Z"/>
<path fill="#87431F" d="M33.9,-399.1A400.5,400.5 0 0 1 144.6,-373.5L133.2,-343.8A368.7,368.7 0 0 0 31.2,-367.4Z"/>
<path fill="#fff" stroke="#87431F" stroke-width="0.45" stroke-dasharray="1.2,1.2" d="M31,-365.7A367,367 0 0 1 82.6,-357.6L79.3,-343.3A352.3,352.3 0 0 0 29.8,-351Z"/>
<path fill="#87431F" d="M82.6,-357.6A367,367 0 0 1 132.5,-342.2L127.1,-328.2A352,352 0 0 0 79.2,-343Z"/>
<path fill="#D35F47" d="M170.5,-362.4A400.5,400.5 0 0 1 246,-316.1L226.4,-291A368.7,368.7 0 0 0 157,-333.6Z"/>
<path fill="#fff" stroke="#D35F47" stroke-width="0.45" stroke-dasharray="1.2,1.2" d="M156.3,-332.1A367,367 0 0 1 192,-312.8L184.3,-300.2A352.3,352.3 0 0 0 150,-318.8Z"/>
<path fill="#D35F47" d="M192,-312.8A367,367 0 0 1 225.4,-289.6L216.2,-277.8A352,352 0 0 0 184.2,-300Z"/>
<path fill="#5FC7D7" d="M267.9,-297.7A400.5,400.5 0 0 1 334,-220.9L307.5,-203.4A368.7,368.7 0 0 0 246.7,-274Z"/>
<path fill="#fff" stroke="#5FC7D7" stroke-width="0.45" stroke-dasharray="1.2,1.2" d="M245.5,-272.8A367,367 0 0 1 278,-239.5L266.9,-229.9A352.3,352.3 0 0 0 235.7,-261.9Z"/>
<path fill="#5FC7D7" d="M278,-239.5A367,367 0 0 1 306.1,-202.5L293.6,-194.2A352,352 0 0 0 266.7,-229.7Z"/>
<path fill="#0E918D" d="M349.5,-195.6A400.5,400.5 0 0 1 389.3,-94L358.4,-86.5A368.7,368.7 0 0 0 321.8,-180Z"/>
<path fill="#fff" stroke="#0E918D" stroke-width="0.45" stroke-dasharray="1.2,1.2" d="M320.3,-179.2A367,367 0 0 1 341.7,-133.9L328,-128.5A352.3,352.3 0 0 0 307.4,-172Z"/>
<path fill="#0E918D" d="M341.7,-133.9A367,367 0 0 1 356.8,-86.1L342.2,-82.6A352,352 0 0 0 327.7,-128.4Z"/>
<path fill="#D19C2D" d="M395.3,-64.3A400.5,400.5 0 0 1 399.7,26L367.9,23.9A368.7,368.7 0 0 0 363.9,-59.2Z"/>
<path fill="#fff" stroke="#D19C2D" stroke-width="0.45" stroke-dasharray="1.2,1.2" d="M362.2,-58.9A367,367 0 0 1 366.6,-17.7L351.9,-17A352.3,352.3 0 0 0 347.7,-56.6Z"/>
<path fill="#D19C2D" d="M366.6,-17.7A367,367 0 0 1 366.2,23.8L351.3,22.8A352,352 0 0 0 351.6,-16.9Z"/>
<path fill="#2F5451" d="M396.9,53.5A400.5,400.5 0 0 1 389,95.5L358.1,87.9A368.7,368.7 0 0 0 365.4,49.3Z"/>
<path fill="#fff" stroke="#2F5451" stroke-width="0.45" stroke-dasharray="1.2,1.2" d="M363.7,49A367,367 0 0 1 360.6,68.4L346.1,65.6A352.3,352.3 0 0 0 349.1,47.1Z"/>
<path fill="#2F5451" d="M360.6,68.4A367,367 0 0 1 356.4,87.5L341.9,83.9A352,352 0 0 0 345.8,65.6Z"/>
<path fill="#3DB8EE" d="M381.3,122.4A400.5,400.5 0 0 1 355.6,184.3L327.3,169.7A368.7,368.7 0 0 0 351.1,112.7Z"/>
<path fill="#fff" stroke="#3DB8EE" stroke-width="0.45" stroke-dasharray="1.2,1.2" d="M349.4,112.2A367,367 0 0 1 338.8,141L325.2,135.4A352.3,352.3 0 0 0 335.4,107.7Z"/>
<path fill="#3DB8EE" d="M338.8,141A367,367 0 0 1 325.8,168.9L312.5,162A352,352 0 0 0 325,135.3Z"/>
<path fill="#166B8E" d="M341.2,209.8A400.5,400.5 0 0 1 329.4,227.8L303.2,209.7A368.7,368.7 0 0 0 314.1,193.1Z"/>
<path fill="#fff" stroke="#166B8E" stroke-width="0.45" stroke-dasharray="1.2,1.2" d="M312.6,192.2A367,367 0 0 1 307.3,200.6L295,192.5A352.3,352.3 0 0 0 300.1,184.5Z"/>
<path fill="#166B8E" d="M307.3,200.6A367,367 0 0 1 301.8,208.8L289.5,200.2A352,352 0 0 0 294.8,192.4Z"/>
<path fill="#4A88D6" d="M312.9,250A400.5,400.5 0 0 1 308.7,255.2L284.2,234.9A368.7,368.7 0 0 0 288,230.2Z"/>
<path fill="#fff" stroke="#4A88D6" stroke-width="0.45" stroke-dasharray="1.2,1.2" d="M286.7,229.1A367,367 0 0 1 284.8,231.5L273.4,222.2A352.3,352.3 0 0 0 275.2,219.9Z"/>
<path fill="#4A88D6" d="M284.8,231.5A367,367 0 0 1 282.9,233.8L271.3,224.3A352,352 0 0 0 273.1,222Z"/>
<path fill="#B22025" d="M289.9,276.3A400.5,400.5 0 0 1 248.8,313.9L229,288.9A368.7,368.7 0 0 0 266.9,254.4Z"/>
<path fill="#fff" stroke="#B22025" stroke-width="0.45" stroke-dasharray="1.2,1.2" d="M265.6,253.2A367,367 0 0 1 247.4,271.1L237.5,260.2A352.3,352.3 0 0 0 255,243.1Z"/>
<path fill="#B22025" d="M247.4,271.1A367,367 0 0 1 228,287.6L218.6,275.9A352,352 0 0 0 237.3,260Z"/>
<path fill="#8B1A1C" d="M227.5,329.6A400.5,400.5 0 0 1 219.8,334.8L202.4,308.2A368.7,368.7 0 0 0 209.5,303.4Z"/>
<path fill="#fff" stroke="#8B1A1C" stroke-width="0.45" stroke-dasharray="1.2,1.2" d="M208.5,302A367,367 0 0 1 205,304.4L196.8,292.2A352.3,352.3 0 0 0 200.2,289.9Z"/>
<path fill="#8B1A1C" d="M205,304.4A367,367 0 0 1 201.4,306.8L193.2,294.2A352,352 0 0 0 196.6,292Z"/>
<path fill="#FCC01F" d="M196.1,349.2A400.5,400.5 0 0 1 181.8,356.9L167.3,328.5A368.7,368.7 0 0 0 180.5,321.5Z"/>
<path fill="#fff" stroke="#FCC01F" stroke-width="0.45" stroke-dasharray="1.2,1.2" d="M179.7,320A367,367 0 0 1 173.2,323.6L166.2,310.6A352.3,352.3 0 0 0 172.5,307.2Z"/>
<path fill="#FCC01F" d="M173.2,323.6A367,367 0 0 1 166.6,327L159.7,313.7A352,352 0 0 0 166.1,310.3Z"/>
<path fill="#6CC04A" d="M157,368.4A400.5,400.5 0 0 1 84,391.6L77.3,360.5A368.7,368.7 0 0 0 144.5,339.2Z"/>
<path fill="#fff" stroke="#6CC04A" stroke-width="0.45" stroke-dasharray="1.2,1.2" d="M143.9,337.6A367,367 0 0 1 110.9,349.8L106.5,335.8A352.3,352.3 0 0 0 138.1,324.1Z"/>
<path fill="#6CC04A" d="M110.9,349.8A367,367 0 0 1 77,358.8L73.8,344.2A352,352 0 0 0 106.4,335.5Z"/>
<path fill="#1A9645" d="M57.3,396.4A400.5,400.5 0 0 1 42.2,398.3L38.9,366.6A368.7,368.7 0 0 0 52.7,364.9Z"/>
<path fill="#fff" stroke="#1A9645" stroke-width="0.45" stroke-dasharray="1.2,1.2" d="M52.5,363.2A367,367 0 0 1 45.6,364.2L43.8,349.6A352.3,352.3 0 0 0 50.4,348.7Z"/>
<path fill="#1A9645" d="M45.6,364.2A367,367 0 0 1 38.7,365L37.1,350A352,352 0 0 0 43.7,349.3Z"/>
<path fill="#0A0A0A" d="M14.6,400.2A400.5,400.5 0 0 1 6.1,400.5L5.6,368.7A368.7,368.7 0 0 0 13.4,368.5Z"/>
<path fill="#fff" stroke="#0A0A0A" stroke-width="0.45" stroke-dasharray="1.2,1.2" d="M13.4,366.8A367,367 0 0 1 9.5,366.9L9.1,352.2A352.3,352.3 0 0 0 12.8,352.1Z"/>
<path fill="#0A0A0A" d="M9.5,366.9A367,367 0 0 1 5.6,367L5.3,352A352,352 0 0 0 9.1,351.9Z"/>
<path fill="#1C1C1C" d="M-19.9,400A400.5,400.5 0 0 1 -70.1,394.3L-64.5,363A368.7,368.7 0 0 0 -18.3,368.2Z"/>
<path fill="#fff" stroke="#1C1C1C" stroke-width="0.45" stroke-dasharray="1.2,1.2" d="M-18.2,366.5A367,367 0 0 1 -41.3,364.7L-39.7,350.1A352.3,352.3 0 0 0 -17.5,351.9Z"/>
<path fill="#1C1C1C" d="M-41.3,364.7A367,367 0 0 1 -64.2,361.3L-61.6,346.6A352,352 0 0 0 -39.6,349.8Z"/>
<path fill="#232323" d="M-96,388.8A400.5,400.5 0 0 1 -179,358.3L-164.7,329.8A368.7,368.7 0 0 0 -88.4,357.9Z"/>
<path fill="#fff" stroke="#232323" stroke-width="0.45" stroke-dasharray="1.2,1.2" d="M-88,356.3A367,367 0 0 1 -126.8,344.4L-121.7,330.6A352.3,352.3 0 0 0 -84.5,342Z"/>
<path fill="#232323" d="M-126.8,344.4A367,367 0 0 1 -164,328.3L-157.3,314.9A352,352 0 0 0 -121.6,330.3Z"/>
<path fill="#2E2E2E" d="M-203.9,344.7A400.5,400.5 0 0 1 -278.1,288.2L-256,265.4A368.7,368.7 0 0 0 -187.7,317.4Z"/>
<path fill="#fff" stroke="#2E2E2E" stroke-width="0.45" stroke-dasharray="1.2,1.2" d="M-186.8,315.9A367,367 0 0 1 -222.3,292L-213.4,280.3A352.3,352.3 0 0 0 -179.3,303.2Z"/>
<path fill="#2E2E2E" d="M-222.3,292A367,367 0 0 1 -254.8,264.1L-244.4,253.3A352,352 0 0 0 -213.2,280.1Z"/>
<path fill="#3A3A3A" d="M-297.2,268.5A400.5,400.5 0 0 1 -316.5,245.5L-291.3,226A368.7,368.7 0 0 0 -273.6,247.2Z"/>
<path fill="#fff" stroke="#3A3A3A" stroke-width="0.45" stroke-dasharray="1.2,1.2" d="M-272.3,246A367,367 0 0 1 -281.3,235.7L-270.1,226.2A352.3,352.3 0 0 0 -261.4,236.2Z"/>
<path fill="#3A3A3A" d="M-281.3,235.7A367,367 0 0 1 -290,224.9L-278.1,215.7A352,352 0 0 0 -269.8,226Z"/>
<path fill="#505050" d="M-332.2,223.7A400.5,400.5 0 0 1 -365.8,163.2L-336.7,150.2A368.7,368.7 0 0 0 -305.8,206Z"/>
<path fill="#fff" stroke="#505050" stroke-width="0.45" stroke-dasharray="1.2,1.2" d="M-304.4,205A367,367 0 0 1 -321,177.9L-308.1,170.8A352.3,352.3 0 0 0 -292.2,196.8Z"/>
<path fill="#505050" d="M-321,177.9A367,367 0 0 1 -335.2,149.5L-321.5,143.4A352,352 0 0 0 -307.9,170.7Z"/>
<path fill="#5A5A5A" d="M-375.3,139.7A400.5,400.5 0 0 1 -377.1,134.9L-347.2,124.2A368.7,368.7 0 0 0 -345.5,128.6Z"/>
<path fill="#fff" stroke="#5A5A5A" stroke-width="0.45" stroke-dasharray="1.2,1.2" d="M-343.9,128A367,367 0 0 1 -344.8,125.8L-330.9,120.8A352.3,352.3 0 0 0 -330.2,122.9Z"/>
<path fill="#5A5A5A" d="M-344.8,125.8A367,367 0 0 1 -345.6,123.6L-331.4,118.5A352,352 0 0 0 -330.7,120.7Z"/>
<path fill="#6E6E6E" d="M-385.5,108.6A400.5,400.5 0 0 1 -391.7,83.6L-360.6,77A368.7,368.7 0 0 0 -354.9,100Z"/>
<path fill="#fff" stroke="#6E6E6E" stroke-width="0.45" stroke-dasharray="1.2,1.2" d="M-353.3,99.5A367,367 0 0 1 -356.3,88.1L-342,84.6A352.3,352.3 0 0 0 -339.1,95.5Z"/>
<path fill="#6E6E6E" d="M-356.3,88.1A367,367 0 0 1 -358.9,76.6L-344.2,73.5A352,352 0 0 0 -341.7,84.5Z"/>
<path fill="#A0563A" d="M-396.7,55A400.5,400.5 0 0 1 -397.8,46.1L-366.2,42.4A368.7,368.7 0 0 0 -365.2,50.7Z"/>
<path fill="#fff" stroke="#A0563A" stroke-width="0.45" stroke-dasharray="1.2,1.2" d="M-363.5,50.4A367,367 0 0 1 -364.1,46.3L-349.5,44.5A352.3,352.3 0 0 0 -349,48.4Z"/>
<path fill="#A0563A" d="M-364.1,46.3A367,367 0 0 1 -364.6,42.2L-349.7,40.5A352,352 0 0 0 -349.2,44.5Z"/>
<path fill="#8E2A9E" d="M-400.1,18.9A400.5,400.5 0 0 1 -400.3,13.3L-368.5,12.3A368.7,368.7 0 0 0 -368.3,17.4Z"/>
<path fill="#fff" stroke="#8E2A9E" stroke-width="0.45" stroke-dasharray="1.2,1.2" d="M-366.6,17.4A367,367 0 0 1 -366.7,14.8L-352,14.2A352.3,352.3 0 0 0 -351.9,16.7Z"/>
<path fill="#8E2A9E" d="M-366.7,14.8A367,367 0 0 1 -366.8,12.2L-351.8,11.7A352,352 0 0 0 -351.7,14.2Z"/>
<path fill="#D8208C" d="M-400.3,-13.6A400.5,400.5 0 0 1 -399.9,-21.9L-368.1,-20.1A368.7,368.7 0 0 0 -368.5,-12.5Z"/>
<path fill="#fff" stroke="#D8208C" stroke-width="0.45" stroke-dasharray="1.2,1.2" d="M-366.8,-12.4A367,367 0 0 1 -366.6,-16.2L-352,-15.6A352.3,352.3 0 0 0 -352.1,-11.9Z"/>
<path fill="#D8208C" d="M-366.6,-16.2A367,367 0 0 1 -366.5,-20L-351.5,-19.2A352,352 0 0 0 -351.7,-15.6Z"/>
<path fill="#B070C0" d="M-397.5,-48.5A400.5,400.5 0 0 1 -396.2,-58.6L-364.7,-53.9A368.7,368.7 0 0 0 -366,-44.7Z"/>
<path fill="#fff" stroke="#B070C0" stroke-width="0.45" stroke-dasharray="1.2,1.2" d="M-364.3,-44.5A367,367 0 0 1 -363.7,-49.1L-349.1,-47.1A352.3,352.3 0 0 0 -349.7,-42.7Z"/>
<path fill="#B070C0" d="M-363.7,-49.1A367,367 0 0 1 -363.1,-53.7L-348.2,-51.5A352,352 0 0 0 -348.8,-47.1Z"/>
<path fill="#5FC080" d="M-391.2,-85.8A400.5,400.5 0 0 1 -389.4,-93.6L-358.5,-86.2A368.7,368.7 0 0 0 -360.1,-79Z"/>
<path fill="#fff" stroke="#5FC080" stroke-width="0.45" stroke-dasharray="1.2,1.2" d="M-358.5,-78.6A367,367 0 0 1 -357.7,-82.2L-343.3,-78.9A352.3,352.3 0 0 0 -344.1,-75.5Z"/>
<path fill="#5FC080" d="M-357.7,-82.2A367,367 0 0 1 -356.8,-85.8L-342.2,-82.3A352,352 0 0 0 -343.1,-78.9Z"/>
<path fill="#27297A" d="M-381.7,-121.4A400.5,400.5 0 0 1 -378.9,-129.7L-348.8,-119.4A368.7,368.7 0 0 0 -351.4,-111.7Z"/>
<path fill="#fff" stroke="#27297A" stroke-width="0.45" stroke-dasharray="1.2,1.2" d="M-349.7,-111.2A367,367 0 0 1 -348.5,-115.1L-334.5,-110.4A352.3,352.3 0 0 0 -335.7,-106.8Z"/>
<path fill="#27297A" d="M-348.5,-115.1A367,367 0 0 1 -347.2,-118.9L-333,-114A352,352 0 0 0 -334.3,-110.4Z"/>
<path fill="#F5A21B" d="M-369.3,-155.1A400.5,400.5 0 0 1 -366.2,-162.1L-337.1,-149.3A368.7,368.7 0 0 0 -339.9,-142.8Z"/>
<path fill="#fff" stroke="#F5A21B" stroke-width="0.45" stroke-dasharray="1.2,1.2" d="M-338.4,-142.1A367,367 0 0 1 -337,-145.3L-323.5,-139.5A352.3,352.3 0 0 0 -324.8,-136.4Z"/>
<path fill="#F5A21B" d="M-337,-145.3A367,367 0 0 1 -335.6,-148.6L-321.9,-142.5A352,352 0 0 0 -323.2,-139.4Z"/>
<path fill="#6E48A8" d="M-353.9,-187.4A400.5,400.5 0 0 1 -335.7,-218.4L-309.1,-201A368.7,368.7 0 0 0 -325.8,-172.5Z"/>
<path fill="#fff" stroke="#6E48A8" stroke-width="0.45" stroke-dasharray="1.2,1.2" d="M-324.3,-171.7A367,367 0 0 1 -316.3,-186.1L-303.6,-178.6A352.3,352.3 0 0 0 -311.4,-164.9Z"/>
<path fill="#6E48A8" d="M-316.3,-186.1A367,367 0 0 1 -307.7,-200.1L-295.1,-191.9A352,352 0 0 0 -303.4,-178.5Z"/>
<path fill="#E8212B" d="M-319.4,-241.6A400.5,400.5 0 0 1 -310.1,-253.4L-285.5,-233.3A368.7,368.7 0 0 0 -294.1,-222.4Z"/>
<path fill="#fff" stroke="#E8212B" stroke-width="0.45" stroke-dasharray="1.2,1.2" d="M-292.7,-221.4A367,367 0 0 1 -288.5,-226.8L-277,-217.7A352.3,352.3 0 0 0 -281,-212.5Z"/>
<path fill="#E8212B" d="M-288.5,-226.8A367,367 0 0 1 -284.2,-232.2L-272.6,-222.7A352,352 0 0 0 -276.7,-217.6Z"/>
<path fill="#87431F" d="M-290.7,-275.5A400.5,400.5 0 0 1 -242.8,-318.5L-223.5,-293.3A368.7,368.7 0 0 0 -267.6,-253.6Z"/>
<path fill="#fff" stroke="#87431F" stroke-width="0.45" stroke-dasharray="1.2,1.2" d="M-266.4,-252.4A367,367 0 0 1 -245.2,-273.1L-235.4,-262.1A352.3,352.3 0 0 0 -255.7,-242.3Z"/>
<path fill="#87431F" d="M-245.2,-273.1A367,367 0 0 1 -222.4,-291.9L-213.4,-280A352,352 0 0 0 -235.2,-261.9Z"/>
<path fill="#8B4A36" d="M-220.5,-334.3A400.5,400.5 0 0 1 -213.1,-339.1L-196.2,-312.2A368.7,368.7 0 0 0 -203,-307.8Z"/>
<path fill="#fff" stroke="#8B4A36" stroke-width="0.45" stroke-dasharray="1.2,1.2" d="M-202.1,-306.4A367,367 0 0 1 -198.7,-308.6L-190.7,-296.2A352.3,352.3 0 0 0 -194,-294.1Z"/>
<path fill="#8B4A36" d="M-198.7,-308.6A367,367 0 0 1 -195.3,-310.7L-187.3,-298A352,352 0 0 0 -190.6,-295.9Z"/>
<path fill="#6CC484" d="M-190.1,-352.5A400.5,400.5 0 0 1 -183.8,-355.8L-169.2,-327.6A368.7,368.7 0 0 0 -175,-324.5Z"/>
<path fill="#fff" stroke="#6CC484" stroke-width="0.45" stroke-dasharray="1.2,1.2" d="M-174.2,-323A367,367 0 0 1 -171.3,-324.6L-164.5,-311.6A352.3,352.3 0 0 0 -167.2,-310.1Z"/>
<path fill="#6CC484" d="M-171.3,-324.6A367,367 0 0 1 -168.4,-326.1L-161.6,-312.7A352,352 0 0 0 -164.3,-311.3Z"/>
<path fill="#2C4EB0" d="M-159.1,-367.6A400.5,400.5 0 0 1 -151.1,-370.9L-139.1,-341.4A368.7,368.7 0 0 0 -146.4,-338.4Z"/>
<path fill="#fff" stroke="#2C4EB0" stroke-width="0.45" stroke-dasharray="1.2,1.2" d="M-145.8,-336.8A367,367 0 0 1 -142.1,-338.4L-136.4,-324.8A352.3,352.3 0 0 0 -139.9,-323.3Z"/>
<path fill="#2C4EB0" d="M-142.1,-338.4A367,367 0 0 1 -138.5,-339.9L-132.8,-326A352,352 0 0 0 -136.3,-324.5Z"/>
<path fill="#2E2F7E" d="M-125.8,-380.2A400.5,400.5 0 0 1 -27.2,-399.6L-25.1,-367.8A368.7,368.7 0 0 0 -115.8,-350.1Z"/>
<path fill="#fff" stroke="#2E2F7E" stroke-width="0.45" stroke-dasharray="1.2,1.2" d="M-115.2,-348.4A367,367 0 0 1 -70.7,-360.1L-67.8,-345.7A352.3,352.3 0 0 0 -110.6,-334.5Z"/>
<path fill="#2E2F7E" d="M-70.7,-360.1A367,367 0 0 1 -25,-366.2L-23.9,-351.2A352,352 0 0 0 -67.8,-345.4Z"/>
<path fill="none" stroke="#000" stroke-width="1.5" d="M0.3,-400.2L0.4,-406.5M33.9,-399.4A400.8,400.8 0 0 1 128.8,-379.5M33.8,-398.8L34.4,-405M45.9,-397.9L46.3,-401M57.9,-396L58.9,-402.2M70,-394.3L70.5,-397.5M81.8,-391.7L83.1,-397.9M93.7,-389.4L94.5,-392.5M105.4,-386.1L107.1,-392.1M117.2,-383L118.1,-386M128.6,-379L130.7,-384.9M170.7,-362.7A400.8,400.8 0 0 1 233.5,-325.8M170.4,-362.1L173.1,-367.8M181.4,-357L182.9,-359.9M192,-351.1L195.1,-356.6M202.7,-345.4L204.4,-348.2M213,-338.8L216.3,-344.2M223.3,-332.5L225.1,-335.1M233.1,-325.3L236.8,-330.4M268.1,-297.9A400.8,400.8 0 0 1 331.8,-224.8M267.7,-297.5L271.9,-302.1M276.8,-289.4L279,-291.7M285.3,-280.7L289.8,-285.1M293.9,-272.1L296.2,-274.3M301.8,-262.9L306.5,-267M309.8,-253.8L312.3,-255.8M317.1,-244.1L322.1,-247.9M324.6,-234.5L327.2,-236.4M331.4,-224.4L336.6,-228M349.8,-195.7A400.8,400.8 0 0 1 386.5,-106M349.2,-195.4L354.7,-198.5M355.3,-184.9L358.1,-186.4M360.4,-173.9L366.1,-176.6M365.8,-163L368.7,-164.3M370.3,-151.7L376.2,-154.1M375,-140.5L378,-141.7M378.8,-129L384.8,-131M382.9,-117.5L385.9,-118.5M386,-105.8L392,-107.5M395.6,-64.4A400.8,400.8 0 0 1 400.7,8.3M395,-64.3L401.2,-65.3M397.1,-52.3L400.2,-52.7M398.2,-40.2L404.4,-40.8M399.5,-28.1L402.7,-28.4M399.9,-16L406.2,-16.2M400.5,-3.9L403.7,-3.9M400.1,8.3L406.4,8.4M397.2,53.6A400.8,400.8 0 0 1 393.2,77.5M396.6,53.5L402.9,54.3M395.1,65.5L398.3,66.1M392.6,77.4L398.8,78.6M381.6,122.5A400.8,400.8 0 0 1 364,167.8M381,122.3L387,124.3M377.4,133.9L380.5,135M372.9,145.2L378.8,147.5M368.6,156.6L371.6,157.8M363.4,167.5L369.2,170.2M340.9,209.6L346.3,212.9M312.6,249.8L317.6,253.8M290.1,276.6A400.8,400.8 0 0 1 254.5,309.6M289.7,276.1L294.2,280.5M281.4,285L283.6,287.3M272.4,293.2L276.7,297.8M263.6,301.5L265.7,303.9M254.1,309.2L258.1,314M227.4,329.3L230.9,334.5M196,348.9L199.1,354.4M157.1,368.7A400.8,400.8 0 0 1 87.8,391.1M156.9,368.2L159.4,374M145.8,373L146.9,376M134.3,377L136.4,382.9M122.9,381.2L123.9,384.2M111.2,384.4L112.9,390.5M99.5,387.9L100.3,391M87.7,390.5L89.1,396.6M57.2,396.1L58.1,402.3M14.6,399.9L14.8,406.2M-19.9,400.3A400.8,400.8 0 0 1 -68.2,395M-19.9,399.7L-20.2,406M-32,399.2L-32.3,402.4M-44.1,397.8L-44.8,404M-56.2,396.5L-56.6,399.7M-68.1,394.4L-69.2,400.6M-96.1,389.1A400.8,400.8 0 0 1 -164.9,365.3M-95.9,388.5L-97.4,394.6M-107.8,385.7L-108.6,388.8M-119.3,382L-121.2,388M-130.9,378.5L-132,381.5M-142.2,374.1L-144.5,380M-153.6,369.9L-154.9,372.8M-164.7,364.8L-167.2,370.5M-204,345A400.8,400.8 0 0 1 -263.1,302.4M-203.7,344.5L-206.9,349.9M-214.2,338.4L-215.9,341.1M-224.2,331.5L-227.8,336.7M-234.3,324.8L-236.2,327.4M-243.9,317.3L-247.7,322.3M-253.6,310L-255.6,312.5M-262.7,301.9L-266.8,306.7M-297.4,268.7A400.8,400.8 0 0 1 -313.1,250.2M-296.9,268.3L-301.6,272.5M-305.2,259.4L-307.6,261.4M-312.7,249.8L-317.6,253.7M-332.4,223.9A400.8,400.8 0 0 1 -357.1,182M-331.9,223.6L-337.2,227.1M-338.8,213.6L-341.5,215.3M-344.9,203L-350.3,206.2M-351.1,192.6L-353.9,194.2M-356.5,181.7L-362.2,184.6M-375.1,139.6L-381,141.8M-385.8,108.7A400.8,400.8 0 0 1 -391.7,85.1M-385.2,108.5L-391.3,110.2M-388.6,96.8L-391.7,97.6M-391.1,84.9L-397.2,86.3M-396.4,55L-402.6,55.9M-399.8,18.9L-406,19.2M-400,-13.5L-406.3,-13.8M-397.3,-48.5L-403.5,-49.3M-390.9,-85.7L-397.1,-87.1M-381.4,-121.3L-387.4,-123.2M-369,-155L-374.8,-157.4M-354.2,-187.5A400.8,400.8 0 0 1 -342.2,-208.7M-353.7,-187.3L-359.3,-190.2M-348.1,-198.1L-350.9,-199.6M-341.7,-208.4L-347.1,-211.6M-319.2,-241.4L-324.2,-245.2M-290.9,-275.7A400.8,400.8 0 0 1 -255.4,-308.9M-290.5,-275.3L-295.1,-279.6M-282.2,-284.2L-284.5,-286.4M-273.3,-292.4L-277.6,-297M-264.5,-300.8L-266.6,-303.2M-255,-308.4L-259.1,-313.3M-220.4,-334.1L-223.8,-339.3M-190,-352.2L-193,-357.8M-158.9,-367.3L-161.4,-373.1M-125.8,-380.5A400.8,400.8 0 0 1 -30.7,-399.6M-125.7,-380L-127.6,-385.9M-114.2,-383.9L-115.1,-387M-102.4,-386.9L-104,-393M-90.7,-390.1L-91.4,-393.2M-78.8,-392.4L-80,-398.6M-66.9,-394.9L-67.4,-398M-54.8,-396.4L-55.7,-402.7M-42.8,-398.2L-43.2,-401.4M-30.7,-399L-31.2,-405.3"/>
<g class="tk"><text transform="translate(0.4,-412.5) rotate(0.1)">0</text><text transform="translate(34.9,-411) rotate(4.8)">0</text><text transform="translate(59.7,-408.2) rotate(8.3)">50</text><text transform="translate(84.4,-403.8) rotate(11.8)">100</text><text transform="translate(108.7,-397.9) rotate(15.3)">150</text><text transform="translate(132.6,-390.6) rotate(18.8)">200</text><text transform="translate(175.6,-373.2) rotate(25.2)">0</text><text transform="translate(197.9,-361.9) rotate(28.7)">50</text><text transform="translate(219.5,-349.2) rotate(32.1)">100</text><text transform="translate(240.3,-335.3) rotate(35.6)">150</text><text transform="translate(276,-306.6) rotate(42)">0</text><text transform="translate(294,-289.3) rotate(45.5)">50</text><text transform="translate(311,-271) rotate(48.9)">100</text><text transform="translate(326.9,-251.6) rotate(52.4)">150</text><text transform="translate(341.5,-231.3) rotate(55.9)">200</text><text transform="translate(360,-201.4) rotate(60.8)">0</text><text transform="translate(371.5,-179.2) rotate(64.2)">50</text><text transform="translate(381.7,-156.4) rotate(67.7)">100</text><text transform="translate(390.5,-133) rotate(71.2)">150</text><text transform="translate(397.8,-109.1) rotate(74.7)">200</text><text transform="translate(407.1,-66.2) rotate(80.8)">0</text><text transform="translate(410.4,-41.4) rotate(84.2)">50</text><text transform="translate(412.2,-16.5) rotate(87.7)">100</text><text transform="translate(412.4,8.5) rotate(271.2)">150</text><text transform="translate(408.8,55.1) rotate(277.7)">0</text><text transform="translate(404.7,79.8) rotate(281.2)">50</text><text transform="translate(392.8,126.1) rotate(287.8)">0</text><text transform="translate(384.4,149.7) rotate(291.3)">50</text><text transform="translate(374.6,172.7) rotate(294.8)">100</text><text transform="translate(351.4,216.1) rotate(301.6)">0</text><text transform="translate(322.2,257.5) rotate(308.6)">0</text><text transform="translate(298.6,284.6) rotate(313.6)">0</text><text transform="translate(280.8,302.2) rotate(317.1)">50</text><text transform="translate(261.9,318.7) rotate(320.6)">100</text><text transform="translate(234.4,339.5) rotate(325.4)">0</text><text transform="translate(202,359.7) rotate(330.7)">0</text><text transform="translate(161.7,379.5) rotate(336.9)">0</text><text transform="translate(138.4,388.6) rotate(340.4)">50</text><text transform="translate(114.6,396.3) rotate(343.9)">100</text><text transform="translate(90.4,402.5) rotate(347.3)">150</text><text transform="translate(59,408.3) rotate(351.8)">0</text><text transform="translate(15,412.2) rotate(357.9)">0</text><text transform="translate(-20.5,412) rotate(2.9)">0</text><text transform="translate(-45.4,410) rotate(6.3)">50</text><text transform="translate(-70.2,406.5) rotate(9.8)">100</text><text transform="translate(-98.9,400.5) rotate(13.9)">0</text><text transform="translate(-123,393.7) rotate(17.3)">50</text><text transform="translate(-146.6,385.6) rotate(20.8)">100</text><text transform="translate(-169.7,376) rotate(24.3)">150</text><text transform="translate(-210,355.1) rotate(30.6)">0</text><text transform="translate(-231.1,341.7) rotate(34.1)">50</text><text transform="translate(-251.4,327) rotate(37.5)">100</text><text transform="translate(-270.8,311.2) rotate(41)">150</text><text transform="translate(-306.1,276.6) rotate(47.9)">0</text><text transform="translate(-322.3,257.5) rotate(51.4)">50</text><text transform="translate(-342.1,230.4) rotate(56)">0</text><text transform="translate(-355.5,209.3) rotate(59.5)">50</text><text transform="translate(-367.5,187.3) rotate(63)">100</text><text transform="translate(-386.6,143.9) rotate(69.6)">0</text><text transform="translate(-397.1,111.8) rotate(74.3)">0</text><text transform="translate(-403.1,87.6) rotate(77.7)">50</text><text transform="translate(-408.6,56.7) rotate(82.1)">0</text><text transform="translate(-412,19.5) rotate(87.3)">0</text><text transform="translate(-412.3,-14) rotate(271.9)">0</text><text transform="translate(-409.5,-50) rotate(277)">0</text><text transform="translate(-402.9,-88.4) rotate(282.4)">0</text><text transform="translate(-393.1,-125) rotate(287.6)">0</text><text transform="translate(-380.3,-159.7) rotate(292.8)">0</text><text transform="translate(-364.6,-193) rotate(297.9)">0</text><text transform="translate(-352.2,-214.8) rotate(301.4)">50</text><text transform="translate(-329,-248.8) rotate(307.1)">0</text><text transform="translate(-299.4,-283.7) rotate(313.5)">0</text><text transform="translate(-281.7,-301.4) rotate(316.9)">50</text><text transform="translate(-262.9,-317.9) rotate(320.4)">100</text><text transform="translate(-227.1,-344.3) rotate(326.6)">0</text><text transform="translate(-195.8,-363.1) rotate(331.7)">0</text><text transform="translate(-163.8,-378.6) rotate(336.6)">0</text><text transform="translate(-129.5,-391.6) rotate(341.7)">0</text><text transform="translate(-105.5,-398.8) rotate(345.2)">50</text><text transform="translate(-81.2,-404.4) rotate(348.6)">100</text><text transform="translate(-56.5,-408.6) rotate(352.1)">150</text><text transform="translate(-31.6,-411.3) rotate(355.6)">200</text></g>
<g class="lb"><text transform="translate(4.2,-433.5) rotate(-89.5)">AKT1</text><text transform="translate(97.6,-422.4) rotate(-77)">APC</text><text transform="translate(226.8,-369.4) rotate(-58.5)">AURKA</text><text transform="translate(328.4,-282.9) rotate(-40.7)">AURKB</text><text transform="translate(403.6,-158.2) rotate(-21.4)">BRAF</text><text transform="translate(433,-20.9) rotate(-2.8)">BRCA1</text><text transform="translate(425.9,80.7) rotate(10.7)">CTNNB1</text><text transform="translate(400.2,166.6) rotate(22.6)">EGFR</text><text transform="translate(363,236.9) rotate(33.1)">EPHB3</text><text transform="translate(336.4,273.4) rotate(39.1)">EPHB4</text><text transform="translate(292.2,320.2) rotate(47.6)">ERBB2</text><text transform="translate(242.1,359.6) rotate(56)">ESR1</text><text transform="translate(204.6,382.2) rotate(61.8)">FGFR2</text><text transform="translate(131,413.2) rotate(72.4)">FLT4</text><text transform="translate(53.8,430.1) rotate(82.9)">GATA3</text><text transform="translate(11.2,433.4) rotate(88.5)">IDH2</text><text text-anchor="end" transform="translate(-48.8,430.7) rotate(-83.5)">IRAK1</text><text text-anchor="end" transform="translate(-149.7,406.8) rotate(-69.8)">IRS2</text><text text-anchor="end" transform="translate(-262.6,344.9) rotate(-52.7)">KDR</text><text text-anchor="end" transform="translate(-332.3,278.4) rotate(-39.9)">KIT</text><text text-anchor="end" transform="translate(-379.1,210.2) rotate(-29)">KSR1</text><text text-anchor="end" transform="translate(-407.2,148.6) rotate(-20.1)">MAP3K5</text><text text-anchor="end" transform="translate(-420.8,104.1) rotate(-13.9)">MET</text><text text-anchor="end" transform="translate(-430,54.7) rotate(-7.3)">NFKB1</text><text text-anchor="end" transform="translate(-433.1,17.5) rotate(-2.3)">NTRK3</text><text text-anchor="end" transform="translate(-433.1,-19.2) rotate(2.5)">OGG1</text><text text-anchor="end" transform="translate(-429.6,-58) rotate(7.7)">PAK4</text><text text-anchor="end" transform="translate(-422.5,-97.1) rotate(12.9)">PDGFRA</text><text text-anchor="end" transform="translate(-411.6,-135.9) rotate(18.3)">PDGFRB</text><text text-anchor="end" transform="translate(-398.1,-171.7) rotate(23.3)">PIK3CA</text><text text-anchor="end" transform="translate(-373.6,-219.8) rotate(30.5)">RET</text><text text-anchor="end" transform="translate(-340.8,-267.9) rotate(38.2)">ROCK1</text><text text-anchor="end" transform="translate(-289.6,-322.5) rotate(48.1)">SPHK2</text><text text-anchor="end" transform="translate(-234.7,-364.5) rotate(57.2)">STK11</text><text text-anchor="end" transform="translate(-202.4,-383.4) rotate(62.2)">TEK</text><text text-anchor="end" transform="translate(-167.9,-399.7) rotate(67.2)">TERT</text><text text-anchor="end" transform="translate(-83.5,-425.4) rotate(78.9)">TP53</text></g>
</g>
<g transform="translate(1471.6,464.1) scale(0.982,1.0025)">
<g stroke-width="0.9" stroke-linejoin="round">
<path class="B17" d="M208.7,190.9Q0,0,-192,207.7"/>
<path class="B46" d="M-221,-176.4Q0,0,282.6,9.7"/>
<path class="B39" d="M-281.8,-23.9Q0,0,246.6,138.5"/>
<path class="B29" d="M-200.7,199.2Q0,0,-277.9,52.2"/>
<path class="B4" d="M149.8,-239.9Q0,0,0.2,-282.8"/>
<path class="B48" d="M-126.3,-253Q0,0,246.1,139.4"/>
<path class="B21" d="M110.9,260.2Q0,0,232.1,161.6"/>
<path class="B25" d="M-72.2,273.4Q0,0,-193,206.7"/>
<path class="B0" d="M-200.6,-199.4Q0,0,-223.6,-173.1"/>
<path class="B34" d="M-267.1,93Q0,0,-224.1,-172.6"/>
<path class="B18" d="M191.2,208.3Q0,0,-192,207.6"/>
<path class="B25" d="M-59.1,276.6Q0,0,42.3,-279.6"/>
<path class="B24" d="M-20.2,282.1Q0,0,-225.5,-170.7"/>
<path class="B6" d="M248.9,-134.3Q0,0,280.9,32.9"/>
<path class="B35" d="M-273.3,72.5Q0,0,-110.9,260.1"/>
<path class="B14" d="M259,113.5Q0,0,-226.3,-169.6"/>
<path class="B0" d="M2.6,-282.8Q0,0,-169,-226.8"/>
<path class="B21" d="M104.3,262.8Q0,0,-256.9,118.1"/>
<path class="B27" d="M-152.3,238.3Q0,0,144.4,-243.2"/>
<path class="B49" d="M-103.3,-263.3Q0,0,117.8,257.1"/>
<path class="B6" d="M253.7,-125Q0,0,-250.3,-131.6"/>
<path class="b5" d="M211.9,-187.2L212.5,-186.6Q0,0,-43.6,279.4L-44.4,279.3Q0,0,211.9,-187.2Z"/>
<path class="B18" d="M191,208.5Q0,0,-105.9,-262.2"/>
<path class="B45" d="M-239.5,-150.5Q0,0,-55.2,277.4"/>
<path class="B48" d="M-126.8,-252.8Q0,0,268.4,-89.2"/>
<path class="B3" d="M-147.6,-241.2Q0,0,-83.5,-270.2"/>
<path class="B25" d="M-73.5,273.1Q0,0,-259.3,-112.8"/>
<path class="B3" d="M-152.6,-238.1Q0,0,213.2,185.8"/>
<path class="B45" d="M-239.3,-150.7Q0,0,-223.7,-173.1"/>
<path class="B35" d="M-273.4,72.3Q0,0,-127.9,-252.2"/>
<path class="b29" d="M-197,202.9L-197.6,202.3Q0,0,197.5,-202.4L198.2,-201.7Q0,0,-197,202.9Z"/>
<path class="B30" d="M-221,176.5Q0,0,-266.4,94.9"/>
<path class="B3" d="M109.4,-260.8Q0,0,-204.1,-195.8"/>
<path class="B15" d="M244.6,142Q0,0,76.9,272.2"/>
<path class="B18" d="M191.2,208.4Q0,0,-218,180.1"/>
<path class="B32" d="M-247.3,137.2Q0,0,-278.2,-50.8"/>
<path class="B32" d="M-246.7,138.3Q0,0,198.7,-201.3"/>
<path class="B21" d="M109.5,260.7Q0,0,175.8,221.5"/>
<path class="B46" d="M-220.9,-176.5Q0,0,277,57"/>
<path class="B4" d="M168.8,-226.9Q0,0,-129.7,-251.3"/>
<path class="B46" d="M-220.4,-177.2Q0,0,192.2,207.4"/>
<path class="B49" d="M-103.3,-263.2Q0,0,192.1,207.6"/>
<path class="B51" d="M-20.7,-282Q0,0,-239.8,-149.9"/>
<path class="B21" d="M101,264.1Q0,0,-83.8,-270.1"/>
<path class="B33" d="M-258.7,114.3Q0,0,-246.2,139.1"/>
<path class="B4" d="M158.3,-234.3Q0,0,158.3,234.4"/>
<path class="B22" d="M72.1,273.4Q0,0,157.1,235.1"/>
<path class="B47" d="M-184.7,-214.1Q0,0,-112.8,259.3"/>
<path class="B40" d="M-277.7,-53.5Q0,0,192.2,207.4"/>
<path class="B23" d="M48,278.7Q0,0,-128.5,-251.9"/>
<path class="B51" d="M-18.4,-282.2Q0,0,-104.7,-262.7"/>
<path class="B35" d="M-273.3,72.6Q0,0,-6.2,282.7"/>
<path class="B26" d="M-114.2,258.7Q0,0,42.4,-279.6"/>
<path class="B50" d="M-83.2,-270.3Q0,0,117.7,257.1"/>
<path class="b25" d="M-59.1,276.5L-59.9,276.4Q0,0,76,-272.4L76.8,-272.2Q0,0,-59.1,276.5Z"/>
<path class="B4" d="M164.6,-229.9Q0,0,-150.1,239.7"/>
<path class="B9" d="M281,-31.6Q0,0,-58.4,-276.7"/>
<path class="B7" d="M270.2,-83.3Q0,0,49.7,278.4"/>
<path class="b5" d="M206.7,-193L207.3,-192.3Q0,0,265.1,-98.4L265.4,-97.5Q0,0,206.7,-193Z"/>
<path class="B14" d="M262,106.4Q0,0,282.7,9"/>
<path class="B25" d="M-70.7,273.8Q0,0,27.3,281.5"/>
<path class="B23" d="M26.4,281.6Q0,0,139.8,-245.8"/>
<path class="B25" d="M-66.4,274.9Q0,0,277,56.8"/>
<path class="B6" d="M249.9,-132.5Q0,0,247.7,136.5"/>
<path class="B20" d="M150.4,239.5Q0,0,-273,73.8"/>
<path class="B26" d="M-129.7,251.3Q0,0,-282.7,8.3"/>
<path class="B6" d="M253.1,-126.2Q0,0,-256.7,118.6"/>
<path class="B42" d="M-266.7,-94.1Q0,0,-44,-279.3"/>
<path class="B38" d="M-282.8,5.1Q0,0,-105.2,-262.5"/>
<path class="B17" d="M211.4,187.8Q0,0,280.8,33.3"/>
<path class="B41" d="M-272.8,-74.5Q0,0,246.5,138.7"/>
<path class="B48" d="M-127.4,-252.5Q0,0,85.9,-269.4"/>
<path class="B12" d="M280.5,35.8Q0,0,269.2,86.6"/>
<path class="B3" d="M108.3,-261.3Q0,0,-240.4,-149"/>
<path class="B51" d="M-41.5,-279.7Q0,0,1.3,-282.8"/>
<path class="B40" d="M-277.7,-53.5Q0,0,213.7,185.3"/>
<path class="B0" d="M2.4,-282.8Q0,0,-256.4,119.3"/>
<path class="B3" d="M-149.2,-240.2Q0,0,-246.3,139"/>
<path class="B49" d="M-104.1,-263Q0,0,242.9,-144.9"/>
<path class="B39" d="M-281.7,-24.7Q0,0,49.4,278.5"/>
<path class="B46" d="M-218.9,-179Q0,0,-194.6,205.2"/>
<path class="B21" d="M104.6,262.8Q0,0,-218.1,180"/>
<path class="B39" d="M-281.8,-24Q0,0,231.6,162.3"/>
<path class="B29" d="M-200.9,199Q0,0,-282.2,-18.8"/>
<path class="B12" d="M280.5,36.2Q0,0,77.2,272.1"/>
<path class="B34" d="M-266.8,93.8Q0,0,155,236.5"/>
<path class="B26" d="M-121.8,255.2Q0,0,277.3,-55.7"/>
<path class="B7" d="M271.9,-77.8Q0,0,-267,-93.1"/>
<path class="B3" d="M92.6,-267.2Q0,0,277.2,-56.1"/>
<path class="B23" d="M48,278.7Q0,0,-105.8,-262.3"/>
<path class="B39" d="M-281.7,-24.6Q0,0,75.3,272.6"/>
<path class="b3" d="M100.7,-264.3L101.5,-264Q0,0,-40.6,279.9L-41.4,279.8Q0,0,100.7,-264.3Z"/>
<path class="B15" d="M245.3,140.7Q0,0,193.3,-206.4"/>
<path class="b3" d="M90,-268.1L92.3,-267.3Q0,0,230.6,-163.7L232,-161.8Q0,0,90,-268.1Z"/>
<path class="B21" d="M114.8,258.4Q0,0,0.7,-282.8"/>
<path class="B11" d="M282.6,11.5Q0,0,-282.3,-16.2"/>
<path class="B40" d="M-277.7,-53.2Q0,0,266.9,93.4"/>
<path class="B5" d="M211.6,-187.6Q0,0,49.8,278.4"/>
<path class="B50" d="M-83,-270.4Q0,0,-195,204.8"/>
<path class="B26" d="M-129,251.7Q0,0,-246.1,139.3"/>
<path class="B26" d="M-114,258.8Q0,0,1,-282.8"/>
<path class="B17" d="M207.8,191.8Q0,0,-163.8,-230.5"/>
<path class="b4" d="M156.2,-235.7L157,-235.2Q0,0,270.9,81.2L270.6,82Q0,0,156.2,-235.7Z"/>
<path class="B32" d="M-247.1,137.6Q0,0,-54.2,277.6"/>
<path class="B15" d="M243.9,143.1Q0,0,-273,-73.9"/>
<path class="B35" d="M-273.4,72.4Q0,0,-194,205.8"/>
<path class="B2" d="M43.2,-279.5Q0,0,-278.7,-47.9"/>
<path class="B16" d="M229.7,164.9Q0,0,-106,-262.2"/>
<path class="B1" d="M22.6,-281.9Q0,0,-94.9,266.4"/>
<path class="B21" d="M104.5,262.8Q0,0,-245.9,139.7"/>
<path class="B20" d="M153.6,237.4Q0,0,194.3,-205.4"/>
<path class="B40" d="M-277.7,-53.6Q0,0,119.9,256.1"/>
<path class="B21" d="M111,260.1Q0,0,247.2,137.4"/>
<path class="B3" d="M93.2,-267Q0,0,277.1,56.4"/>
<path class="B4" d="M157.8,-234.7Q0,0,217.7,180.6"/>
<path class="B12" d="M280.4,37Q0,0,-165.2,-229.5"/>
<path class="B9" d="M280.9,-32.8Q0,0,247.6,136.7"/>
<path class="B0" d="M-201.7,-198.2Q0,0,280.7,34.4"/>
<path class="B14" d="M260.9,109.2Q0,0,-48.2,278.7"/>
<path class="B25" d="M-67.4,274.6Q0,0,192.4,207.2"/>
<path class="B26" d="M-129.9,251.2Q0,0,-282.2,-18.4"/>
<path class="B15" d="M243.9,143.2Q0,0,-226.2,-169.7"/>
<path class="B46" d="M-217.6,-180.6Q0,0,-43.6,-279.4"/>
<path class="B18" d="M191.2,208.4Q0,0,-278.4,-49.9"/>
<path class="B34" d="M-266.9,93.5Q0,0,-6.2,282.7"/>
<path class="B40" d="M-277.7,-53.4Q0,0,246.5,138.6"/>
<path class="B7" d="M270.1,-83.7Q0,0,157.9,234.6"/>
<path class="B29" d="M-201.5,198.4Q0,0,-160.9,-232.6"/>
<path class="B24" d="M-21.1,282Q0,0,-50.7,-278.2"/>
<path class="B28" d="M-170.9,225.3Q0,0,267.5,-91.7"/>
<path class="B3" d="M106.6,-261.9Q0,0,-256.5,119.1"/>
<path class="B49" d="M-104.3,-262.8Q0,0,149,-240.4"/>
<path class="B3" d="M-148.6,-240.6Q0,0,-282.7,7.7"/>
<path class="B24" d="M-14.2,282.4Q0,0,268.4,89"/>
<path class="B23" d="M25.6,281.6Q0,0,49.6,278.4"/>
<path class="B6" d="M252.9,-126.6Q0,0,-217.2,181.1"/>
<path class="B20" d="M152.4,238.2Q0,0,-1.7,282.8"/>
<path class="B33" d="M-257.9,116.1Q0,0,82,-270.6"/>
<path class="B0" d="M1.7,-282.8Q0,0,186,-213.1"/>
<path class="B29" d="M-198.7,201.2Q0,0,214.1,184.8"/>
<path class="B8" d="M277.4,-55.1Q0,0,-102.9,263.4"/>
<path class="B39" d="M-282,-21.8Q0,0,199.6,-200.3"/>
<path class="B33" d="M-258.1,115.6Q0,0,240.9,-148.2"/>
<path class="B4" d="M166,-228.9Q0,0,-277.8,53.1"/>
<path class="B2" d="M42.9,-279.5Q0,0,5.2,282.8"/>
<path class="B0" d="M-202,-197.9Q0,0,147.9,-241"/>
<path class="B5" d="M215.9,-182.7Q0,0,-240.3,-149.2"/>
<path class="B39" d="M-281.9,-22.3Q0,0,241.3,-147.5"/>
<path class="B20" d="M153.2,237.7Q0,0,280.8,33.3"/>
<path class="B45" d="M-239.8,-149.9Q0,0,83.8,-270.1"/>
<path class="B29" d="M-198.8,201.1Q0,0,192.3,207.4"/>
<path class="B47" d="M-184.7,-214.2Q0,0,-278,52"/>
<path class="B23" d="M48.3,278.6Q0,0,-3.7,282.8"/>
<path class="b51" d="M-34.8,-280.6L-33.6,-280.8Q0,0,266.1,95.7L265.7,96.9Q0,0,-34.8,-280.6Z"/>
<path class="B15" d="M244.5,142.1Q0,0,27.7,281.4"/>
<path class="B9" d="M280.9,-32.9Q0,0,265.7,-96.7"/>
<path class="B3" d="M-149.6,-240Q0,0,-151.9,238.6"/>
<path class="B20" d="M150.5,239.5Q0,0,-266.2,95.4"/>
<path class="b26" d="M-126.4,253L-127.4,252.5Q0,0,-4.5,282.8L-5.6,282.7Q0,0,-126.4,253Z"/>
<path class="B14" d="M259.8,111.8Q0,0,-234.2,158.5"/>
<path class="B45" d="M-239.6,-150.2Q0,0,268.2,-89.7"/>
<path class="B7" d="M269.9,-84.5Q0,0,280.9,33.1"/>
<path class="B48" d="M-125.3,-253.5Q0,0,-282.1,-20.1"/>
<path class="B46" d="M-220,-177.6Q0,0,26.9,281.5"/>
<path class="B43" d="M-259,-113.5Q0,0,-55.1,277.4"/>
<path class="B23" d="M26.5,281.6Q0,0,74.6,-272.8"/>
<path class="B25" d="M-72.8,273.3Q0,0,-273.1,73.6"/>
<path class="b51" d="M-41.3,-279.8L-40.7,-279.9Q0,0,86.1,-269.4L86.7,-269.2Q0,0,-41.3,-279.8Z"/>
<path class="B36" d="M-278.2,50.9Q0,0,120.4,255.9"/>
<path class="B46" d="M-217.8,-180.4Q0,0,-105,-262.6"/>
<path class="B25" d="M-72.1,273.4Q0,0,-170.5,225.6"/>
<path class="B17" d="M211.5,187.7Q0,0,282.7,9.1"/>
<path class="B24" d="M-13.9,282.5Q0,0,277.1,56.7"/>
<path class="B40" d="M-277.4,-54.9Q0,0,-105,-262.6"/>
<path class="B15" d="M245.2,141Q0,0,237.1,-154.1"/>
<path class="B23" d="M25,281.7Q0,0,-162,-231.8"/>
<path class="B34" d="M-267.1,93Q0,0,-202.8,-197.1"/>
<path class="B0" d="M2.4,-282.8Q0,0,-189,210.4"/>
<path class="B27" d="M-154.2,237Q0,0,-105.5,-262.4"/>
<path class="B40" d="M-277.4,-54.8Q0,0,-159.7,-233.4"/>
<path class="B39" d="M-281.8,-24Q0,0,213.7,185.2"/>
<path class="B14" d="M261.9,106.6Q0,0,277.1,56.6"/>
<path class="B24" d="M-13.7,282.5Q0,0,282.6,9.4"/>
<path class="B39" d="M-282,-21.5Q0,0,146.4,-242"/>
<path class="b3" d="M-152.3,-238.3L-150.9,-239.2Q0,0,119.6,256.3L118,257Q0,0,-152.3,-238.3Z"/>
<path class="B22" d="M72.9,273.2Q0,0,266.2,-95.4"/>
<path class="B46" d="M-219.3,-178.6Q0,0,-112.4,259.5"/>
<path class="B28" d="M-171,225.2Q0,0,-53.7,277.6"/>
<path class="B25" d="M-67.3,274.7Q0,0,215.1,183.6"/>
<path class="B39" d="M-281.9,-23.1Q0,0,282.6,9.7"/>
<path class="B14" d="M258.8,113.9Q0,0,-185.6,-213.4"/>
<path class="B35" d="M-273.4,72.4Q0,0,-281.1,30.6"/>
<path class="B4" d="M165.9,-229Q0,0,-272.9,74.1"/>
<path class="B50" d="M-83.3,-270.3Q0,0,266.1,95.7"/>
<path class="B3" d="M-148,-241Q0,0,-223.5,-173.3"/>
<path class="B25" d="M-67.1,274.7Q0,0,232,161.8"/>
<path class="B21" d="M111.8,259.8Q0,0,266.2,-95.5"/>
<path class="B17" d="M208.3,191.3Q0,0,-282.3,-17.1"/>
<path class="B11" d="M282.6,11.6Q0,0,-165.3,-229.5"/>
<path class="B23" d="M25.3,281.7Q0,0,-277.9,52.5"/>
<path class="B49" d="M-102.6,-263.5Q0,0,-246.3,138.9"/>
<path class="b7" d="M268.8,-87.9L269.3,-86.5Q0,0,133.5,-249.3L134.9,-248.6Q0,0,268.8,-87.9Z"/>
<path class="B49" d="M-103.1,-263.3Q0,0,-7.5,282.7"/>
<path class="B0" d="M-201,-198.9Q0,0,-194.7,205.1"/>
<path class="B16" d="M230.6,163.7Q0,0,266,-95.9"/>
<path class="B36" d="M-278.2,51Q0,0,213.8,185.1"/>
<path class="B17" d="M208.4,191.2Q0,0,-277.9,52.7"/>
<path class="B7" d="M271.3,-79.7Q0,0,-170.4,225.7"/>
<path class="B30" d="M-220.3,177.4Q0,0,267.5,91.8"/>
<path class="B2" d="M42.7,-279.6Q0,0,128.9,-251.7"/>
<path class="B35" d="M-273.4,72.2Q0,0,-45.9,-279.1"/>
<path class="B24" d="M-13.8,282.5Q0,0,280.8,33.7"/>
<path class="B32" d="M-246.9,137.9Q0,0,246.7,138.3"/>
<path class="B45" d="M-239.6,-150.3Q0,0,246.4,138.7"/>
<path class="B6" d="M252.5,-127.3Q0,0,-150.5,239.5"/>
<path class="B48" d="M-127,-252.7Q0,0,242.8,-145"/>
<path class="B18" d="M191.7,207.9Q0,0,194.2,-205.6"/>
<path class="B24" d="M-17.1,282.3Q0,0,49.6,278.4"/>
<path class="B15" d="M245.8,139.8Q0,0,72.5,-273.3"/>
<path class="B49" d="M-102.3,-263.6Q0,0,-127.6,-252.4"/>
<path class="B21" d="M103.1,263.3Q0,0,-225.6,-170.5"/>
<path class="B3" d="M108,-261.4Q0,0,-273,-73.7"/>
<path class="B37" d="M-281.3,29.2Q0,0,-282.7,8.1"/>
<path class="B42" d="M-266.9,-93.5Q0,0,83.6,-270.2"/>
<path class="B37" d="M-281.2,29.7Q0,0,282.6,9.7"/>
<path class="B12" d="M280.5,35.9Q0,0,157.8,234.7"/>
<path class="B0" d="M-200.4,-199.5Q0,0,-43.4,-279.5"/>
<path class="B3" d="M-154.2,-237.1Q0,0,280.7,-34.1"/>
<path class="B49" d="M-102.8,-263.5Q0,0,-195,204.8"/>
<path class="B48" d="M-125.4,-253.5Q0,0,-273.1,73.4"/>
<path class="B23" d="M25.4,281.7Q0,0,-192.8,206.9"/>
<path class="B37" d="M-281.2,29.8Q0,0,241.1,-147.8"/>
<path class="B36" d="M-278.2,50.5Q0,0,-194,205.7"/>
<path class="B3" d="M-150.8,-239.2Q0,0,75,272.7"/>
<path class="B12" d="M280.4,36.4Q0,0,-47.9,278.7"/>
<path class="B18" d="M191.8,207.8Q0,0,137.5,-247.1"/>
<path class="B3" d="M92.5,-267.3Q0,0,264.5,-100"/>
<path class="B40" d="M-277.8,-52.8Q0,0,241.4,-147.2"/>
<path class="B15" d="M243.7,143.6Q0,0,-164.2,-230.2"/>
<path class="B1" d="M22.6,-281.9Q0,0,-64.3,-275.4"/>
<path class="B9" d="M281,-31.8Q0,0,-106.2,-262.1"/>
<path class="B12" d="M280.6,35.2Q0,0,191.2,-208.4"/>
<path class="B30" d="M-221,176.5Q0,0,-257.3,117.4"/>
<path class="B12" d="M280.6,35.4Q0,0,236,-155.8"/>
<path class="B3" d="M106.9,-261.8Q0,0,-277.8,53.2"/>
<path class="B3" d="M107,-261.8Q0,0,-281,31.5"/>
<path class="B18" d="M191.5,208Q0,0,268.9,87.6"/>
<path class="B51" d="M-27.9,-281.4Q0,0,26.7,281.5"/>
<path class="B26" d="M-122.2,255.1Q0,0,277,56.9"/>
<path class="B6" d="M253,-126.4Q0,0,-234.1,158.6"/>
<path class="B4" d="M156,-235.9Q0,0,282.7,8.4"/>
<path class="B21" d="M104.1,262.9Q0,0,-266.3,95.3"/>
<path class="B19" d="M175.2,222Q0,0,268.9,87.7"/>
<path class="b3" d="M104.8,-262.6L105.6,-262.3Q0,0,-189,210.4L-189.6,209.8Q0,0,104.8,-262.6Z"/>
<path class="B43" d="M-259.1,-113.4Q0,0,266.9,93.6"/>
<path class="B35" d="M-273.2,72.9Q0,0,280.7,-34.3"/>
<path class="b25" d="M-62.1,275.9L-62.9,275.7Q0,0,195.9,-204L196.5,-203.4Q0,0,-62.1,275.9Z"/>
<path class="b46" d="M-223,-173.9L-222.4,-174.6Q0,0,83.8,-270.1L84.7,-269.8Q0,0,-223,-173.9Z"/>
<path class="B5" d="M216.1,-182.4Q0,0,-227.1,-168.5"/>
<path class="B3" d="M99.2,-264.8Q0,0,79,271.6"/>
<path class="B48" d="M-125.8,-253.3Q0,0,-56.9,277"/>
<path class="B49" d="M-103.6,-263.1Q0,0,282.6,9.9"/>
<path class="B11" d="M282.6,11.7Q0,0,-129.1,-251.6"/>
<path class="B5" d="M217.2,-181Q0,0,-106.8,-261.9"/>
<path class="B24" d="M-19.4,282.1Q0,0,-245.9,139.6"/>
<path class="B35" d="M-273.3,72.7Q0,0,120.5,255.8"/>
<path class="B28" d="M-171,225.3Q0,0,121.8,255.2"/>
<path class="B22" d="M71.1,273.7Q0,0,-273,73.7"/>
<path class="B0" d="M2.3,-282.8Q0,0,-40.3,279.9"/>
<path class="B18" d="M191.9,207.7Q0,0,73.1,-273.2"/>
<path class="B26" d="M-122.1,255.1Q0,0,280.8,34"/>
<path class="B12" d="M280.7,34.7Q0,0,0.5,-282.8"/>
<path class="B11" d="M282.6,11.3Q0,0,-103.1,263.3"/>
<path class="B23" d="M48.8,278.6Q0,0,139.6,-246"/>
<path class="B6" d="M253.3,-125.8Q0,0,-282.7,8.8"/>
<path class="B16" d="M230.5,163.8Q0,0,216.4,182"/>
<path class="b51" d="M-20.1,-282.1L-18.8,-282.2Q0,0,-159,-233.9L-157.9,-234.6Q0,0,-20.1,-282.1Z"/>
<path class="B23" d="M25.3,281.7Q0,0,-257,118"/>
<path class="b25" d="M-74.4,272.8L-75,272.7Q0,0,-161.9,-231.9L-161.4,-232.3Q0,0,-74.4,272.8Z"/>
<path class="B23" d="M48.4,278.6Q0,0,215.3,183.3"/>
<path class="B33" d="M-258.5,114.6Q0,0,-110.6,260.3"/>
<path class="B24" d="M-13.7,282.5Q0,0,282.6,-11.5"/>
<path class="b3" d="M93.3,-267L97.3,-265.5Q0,0,272.1,77.1L270.9,81.2Q0,0,93.3,-267Z"/>
<path class="B14" d="M259.1,113.3Q0,0,-250.3,-131.6"/>
<path class="B39" d="M-281.5,-26.9Q0,0,-159.8,-233.3"/>
<path class="B26" d="M-127.6,252.4Q0,0,-53.4,277.7"/>
<path class="B31" d="M-234.4,158.2Q0,0,198.5,-201.4"/>
<path class="B6" d="M253.1,-126.1Q0,0,-266.1,95.8"/>
<path class="B31" d="M-234.6,157.9Q0,0,-6,282.7"/>
<path class="b21" d="M109.1,260.9L107.5,261.6Q0,0,-1.8,282.8L-3.5,282.8Q0,0,109.1,260.9Z"/>
<path class="B30" d="M-220.1,177.6Q0,0,282.6,9.6"/>
<path class="B23" d="M25.8,281.6Q0,0,215.3,183.4"/>
<path class="B3" d="M106.3,-262.1Q0,0,-245.4,140.6"/>
<path class="B3" d="M-152.7,-238.1Q0,0,231.5,162.4"/>
<path class="B35" d="M-273.2,73.1Q0,0,145.8,-242.3"/>
<path class="b51" d="M-24.9,-281.7L-23.9,-281.8Q0,0,-195.1,204.8L-195.8,204Q0,0,-24.9,-281.7Z"/>
<path class="B17" d="M211.2,188.1Q0,0,247.3,137.2"/>
<path class="B7" d="M270.2,-83.5Q0,0,128.2,252.1"/>
<path class="B46" d="M-218.4,-179.6Q0,0,-278,52"/>
<path class="B24" d="M-13.6,282.5Q0,0,277.2,-55.8"/>
<path class="B0" d="M-201.1,-198.8Q0,0,-112.7,259.4"/>
<path class="B39" d="M-281.6,-26.3Q0,0,-239.9,-149.7"/>
<path class="B44" d="M-249.9,-132.4Q0,0,-194.4,205.4"/>
<path class="B4" d="M158.2,-234.4Q0,0,176,221.4"/>
<path class="B0" d="M-201.1,-198.9Q0,0,-151.8,238.6"/>
<path class="B45" d="M-239.7,-150.1Q0,0,241.6,-146.9"/>
<path class="B46" d="M-221.1,-176.3Q0,0,280.7,-34.2"/>
<path class="B22" d="M72.5,273.4Q0,0,247.1,137.6"/>
<path class="B25" d="M-73.4,273.1Q0,0,-278.3,-50.4"/>
<path class="B18" d="M191.5,208.1Q0,0,216.4,182.1"/>
<path class="B5" d="M210.2,-189.2Q0,0,217.4,180.9"/>
<path class="B20" d="M153.3,237.7Q0,0,280.6,-34.9"/>
<path class="B26" d="M-131.9,250.1Q0,0,-105.5,-262.4"/>
<path class="B23" d="M47.9,278.7Q0,0,-51.2,-278.1"/>
<path class="B51" d="M-18.3,-282.2Q0,0,-83.4,-270.2"/>
<path class="B0" d="M-201.5,-198.4Q0,0,213.3,185.7"/>
<path class="b21" d="M114.8,258.5L113.9,258.9Q0,0,73.4,-273.1L74.3,-272.9Q0,0,114.8,258.5Z"/>
<path class="B0" d="M1.8,-282.8Q0,0,264.5,-100.2"/>
<path class="B51" d="M-22.4,-281.9Q0,0,-282.7,7.5"/>
<path class="B33" d="M-258.4,114.9Q0,0,49.4,278.4"/>
<path class="b4" d="M157,-235.2L157.6,-234.8Q0,0,248.3,135.4L247.9,136.1Q0,0,157,-235.2Z"/>
<path class="B38" d="M-282.8,5.2Q0,0,-160,-233.2"/>
<path class="B6" d="M253.5,-125.3Q0,0,-278.5,-49.2"/>
<path class="B34" d="M-267,93.2Q0,0,-218.4,179.6"/>
<path class="B28" d="M-170.6,225.5Q0,0,80.2,-271.2"/>
<path class="B3" d="M-149,-240.3Q0,0,-273.1,73.4"/>
<path class="B23" d="M49.1,278.5Q0,0,74.5,-272.8"/>
<path class="B39" d="M-281.6,-25.5Q0,0,-151.7,238.7"/>
<path class="B30" d="M-219.2,178.7Q0,0,81.2,-270.9"/>
<path class="B26" d="M-122,255.1Q0,0,282.6,9.5"/>
<path class="B3" d="M110.5,-260.3Q0,0,-84,-270"/>
<path class="b5" d="M210.6,-188.7L211.5,-187.8Q0,0,129.7,251.3L128.5,251.9Q0,0,210.6,-188.7Z"/>
<path class="B12" d="M280.4,36.8Q0,0,-266.1,95.7"/>
<path class="B34" d="M-266.9,93.4Q0,0,-110.8,260.2"/>
<path class="B39" d="M-281.6,-26.2Q0,0,-278.2,-50.9"/>
<path class="B49" d="M-102.4,-263.6Q0,0,-278.1,-51.2"/>
<path class="B49" d="M-103.6,-263.2Q0,0,266.2,95.6"/>
<path class="B27" d="M-152.9,237.9Q0,0,280.7,34"/>
<path class="B12" d="M280.4,37.1Q0,0,-129.1,-251.6"/>
<path class="B18" d="M191.2,208.4Q0,0,-282.3,-17.1"/>
<path class="B32" d="M-247.2,137.3Q0,0,-151.6,238.7"/>
<path class="B33" d="M-258.2,115.3Q0,0,267.3,92.3"/>
<path class="B29" d="M-198.1,201.8Q0,0,267.6,-91.5"/>
<path class="B4" d="M166.9,-228.3Q0,0,-259.5,-112.4"/>
<path class="b4" d="M161.4,-232.2L163.2,-231Q0,0,-41.4,279.8L-43.6,279.4Q0,0,161.4,-232.2Z"/>
<path class="B14" d="M258.2,115.3Q0,0,-83.9,-270.1"/>
<path class="B3" d="M-148.3,-240.8Q0,0,-278.1,-51.2"/>
<path class="B51" d="M-21.2,-282Q0,0,-278.1,-51.4"/>
<path class="b29" d="M-196.4,203.4L-197,202.9Q0,0,144.5,-243.1L145.2,-242.7Q0,0,-196.4,203.4Z"/>
<path class="B0" d="M2.3,-282.8Q0,0,-94.9,266.4"/>
<path class="B32" d="M-247.3,137.3Q0,0,-193.8,205.9"/>
<path class="B43" d="M-259,-113.6Q0,0,-159.7,-233.4"/>
<path class="B26" d="M-129.3,251.5Q0,0,-257.2,117.7"/>
<path class="B30" d="M-220.6,176.9Q0,0,155.1,236.5"/>
<path class="b24" d="M-11.3,282.6L-13.2,282.5Q0,0,238.1,-152.6L239.1,-151Q0,0,-11.3,282.6Z"/>
<path class="B38" d="M-282.8,4.9Q0,0,-45.6,-279.1"/>
<path class="B26" d="M-121.9,255.2Q0,0,280.7,-34.5"/>
<path class="B49" d="M-102.7,-263.5Q0,0,-218.8,179.2"/>
<path class="B6" d="M253.2,-126Q0,0,-272.9,74"/>
<path class="b6" d="M251.6,-129.2L252.1,-128.2Q0,0,-44.4,279.3L-45.5,279.1Q0,0,251.6,-129.2Z"/>
<path class="B0" d="M-201.4,-198.5Q0,0,154.7,236.7"/>
<path class="B11" d="M282.6,11.2Q0,0,77.3,272"/>
<path class="B3" d="M99.4,-264.8Q0,0,28.3,281.4"/>
<path class="B24" d="M-11.1,282.6Q0,0,195.8,-204.1"/>
<path class="B7" d="M271.6,-78.7Q0,0,-281.1,31.1"/>
<path class="B39" d="M-282,-21.2Q0,0,1.1,-282.8"/>
<path class="B22" d="M70.9,273.8Q0,0,-282.2,-17.6"/>
<path class="B0" d="M1.4,-282.8Q0,0,61.7,-276"/>
<path class="b51" d="M-23.5,-281.8L-22.9,-281.9Q0,0,-257.5,116.8L-257.8,116.3Q0,0,-23.5,-281.8Z"/>
<path class="B36" d="M-278.3,50.4Q0,0,-224,-172.6"/>
<path class="B37" d="M-281.3,29.2Q0,0,-273.1,73.4"/>
<path class="B38" d="M-282.7,6.2Q0,0,267.9,-90.7"/>
<path class="B35" d="M-273.2,73Q0,0,199,-200.9"/>
<path class="B1" d="M22.4,-281.9Q0,0,218,180.1"/>
<path class="B9" d="M280.8,-33.2Q0,0,191,-208.6"/>
<path class="B6" d="M253.9,-124.4Q0,0,-203.7,-196.2"/>
<path class="B48" d="M-127.2,-252.6Q0,0,201.6,-198.3"/>
<path class="B5" d="M214.5,-184.3Q0,0,-245.6,140.2"/>
<path class="B39" d="M-281.5,-26.6Q0,0,-202.6,-197.3"/>
<path class="B22" d="M72,273.5Q0,0,125.7,253.3"/>
<path class="B14" d="M259.2,113.2Q0,0,-267,-93.2"/>
<path class="B3" d="M106.8,-261.9Q0,0,-272.9,74.2"/>
<path class="B5" d="M215.4,-183.3Q0,0,-282.4,-14.9"/>
<path class="B18" d="M191.4,208.2Q0,0,-1.5,282.8"/>
<path class="B51" d="M-20.8,-282Q0,0,-266.9,-93.5"/>
<path class="B46" d="M-221,-176.5Q0,0,280.7,34.3"/>
<path class="B36" d="M-278.2,50.6Q0,0,-111,260.1"/>
<path class="B28" d="M-170.7,225.5Q0,0,144.5,-243.1"/>
<path class="B33" d="M-258.4,114.9Q0,0,-6.2,282.7"/>
<path class="B14" d="M261.4,108Q0,0,127.6,252.4"/>
<path class="B45" d="M-239.4,-150.6Q0,0,-281.1,30.5"/>
<path class="B37" d="M-281.3,28.9Q0,0,-127.8,-252.3"/>
<path class="B30" d="M-220.8,176.7Q0,0,-54,277.6"/>
<path class="B24" d="M-20.8,282Q0,0,-128.4,-252"/>
<path class="B24" d="M-16.9,282.3Q0,0,76.2,272.3"/>
<path class="B51" d="M-32.6,-280.9Q0,0,192,207.6"/>
<path class="B22" d="M72.7,273.3Q0,0,268.6,88.5"/>
<path class="B48" d="M-125,-253.7Q0,0,-41.9,-279.7"/>
<path class="B7" d="M270.1,-83.8Q0,0,192.7,207"/>
<path class="B3" d="M108.1,-261.3Q0,0,-267.1,-92.8"/>
<path class="B43" d="M-259.2,-113.2Q0,0,200.1,-199.8"/>
<path class="B22" d="M70.6,273.8Q0,0,-162.1,-231.7"/>
<path class="B25" d="M-73.5,273.1Q0,0,-240,-149.6"/>
<path class="B21" d="M103.3,263.3Q0,0,-278.3,-50"/>
<path class="B40" d="M-277.5,-54.5Q0,0,-273.1,73.4"/>
<path class="B30" d="M-220.5,177Q0,0,213.9,185"/>
<path class="B39" d="M-281.7,-25.1Q0,0,-54.8,277.4"/>
<path class="B0" d="M1.9,-282.8Q0,0,272.2,76.9"/>
<path class="B40" d="M-277.5,-54.4Q0,0,-246.2,139.1"/>
<path class="b4" d="M154.3,-237L155.6,-236.1Q0,0,264.6,-99.8L265.1,-98.4Q0,0,154.3,-237Z"/>
<path class="b25" d="M-59.9,276.4L-62.1,275.9Q0,0,141,-245.2L142.9,-244.1Q0,0,-59.9,276.4Z"/>
<path class="B32" d="M-246.6,138.5Q0,0,145.4,-242.6"/>
<path class="B7" d="M272,-77.4Q0,0,-165.5,-229.3"/>
<path class="B3" d="M-148.2,-240.9Q0,0,-239.9,-149.8"/>
<path class="B5" d="M217.2,-181.2Q0,0,-129.6,-251.3"/>
<path class="B7" d="M270.2,-83.4Q0,0,77.4,272"/>
<path class="B27" d="M-153.5,237.5Q0,0,231.7,162.1"/>
<path class="B31" d="M-234.6,158Q0,0,267.4,92.1"/>
<path class="B46" d="M-220.8,-176.6Q0,0,266.8,93.9"/>
<path class="b25" d="M-64,275.5L-65.9,275Q0,0,266.4,-94.9L267.1,-93.1Q0,0,-64,275.5Z"/>
<path class="B45" d="M-239.7,-150.1Q0,0,200.2,-199.7"/>
<path class="B3" d="M-149.3,-240.2Q0,0,-218.8,179.2"/>
<path class="B48" d="M-126.5,-252.9Q0,0,266.2,95.3"/>
<path class="B40" d="M-277.5,-54.4Q0,0,-194.4,205.4"/>
<path class="B23" d="M26.3,281.6Q0,0,195.6,-204.3"/>
<path class="B19" d="M174.8,222.3Q0,0,-55.5,-277.3"/>
<path class="B6" d="M254.7,-122.9Q0,0,-129.4,-251.4"/>
<path class="B39" d="M-281.7,-25.3Q0,0,-111.3,260"/>
<path class="B22" d="M72.9,273.2Q0,0,282.6,9.3"/>
<path class="B2" d="M43.1,-279.5Q0,0,-95,266.4"/>
<path class="B35" d="M-273.3,72.8Q0,0,155,236.5"/>
<path class="B29" d="M-199.4,200.5Q0,0,75.7,272.5"/>
<path class="B48" d="M-125.2,-253.6Q0,0,-159.2,-233.8"/>
<path class="B25" d="M-75.4,272.5Q0,0,-105.6,-262.3"/>
<path class="B46" d="M-219,-178.9Q0,0,-151.7,238.6"/>
<path class="b3" d="M87,-269.1L89.6,-268.2Q0,0,129,-251.7L131.4,-250.4Q0,0,87,-269.1Z"/>
<path class="B40" d="M-278,-51.9Q0,0,83.2,-270.3"/>
<path class="b15" d="M245.8,139.9L245.4,140.5Q0,0,136.3,-247.8L136.9,-247.4Q0,0,245.8,139.9Z"/>
<path class="B46" d="M-221.7,-175.6Q0,0,200.4,-199.5"/>
<path class="B13" d="M277,57.1Q0,0,191.3,-208.3"/>
<path class="B22" d="M70.5,273.9Q0,0,-105.8,-262.3"/>
<path class="B20" d="M150.8,239.2Q0,0,-106.5,262"/>
<path class="B14" d="M265.6,97.1Q0,0,21.7,-282"/>
<path class="B15" d="M244,142.9Q0,0,-282.7,8.6"/>
<path class="B4" d="M160.1,-233.1Q0,0,50.1,278.3"/>
<path class="b29" d="M-201.7,198.2L-202.4,197.5Q0,0,-48.1,-278.7L-47.1,-278.9Q0,0,-201.7,198.2Z"/>
<path class="B15" d="M243.8,143.3Q0,0,-203.4,-196.4"/>
<path class="B0" d="M-200.9,-199.1Q0,0,-266.5,94.6"/>
<path class="B23" d="M25.5,281.7Q0,0,-151.4,238.9"/>
<path class="B4" d="M165.6,-229.3Q0,0,-245.5,140.4"/>
<path class="B23" d="M48.3,278.6Q0,0,27.4,281.5"/>
<path class="B47" d="M-184.9,-214Q0,0,213.3,185.7"/>
<path class="B26" d="M-131.8,250.2Q0,0,-128,-252.2"/>
<path class="B10" d="M282.6,-10.8Q0,0,-0.3,282.8"/>
<path class="B34" d="M-266.8,93.9Q0,0,231.6,162.3"/>
<path class="B5" d="M215.8,-182.8Q0,0,-267.1,-92.9"/>
<path class="B4" d="M167.9,-227.5Q0,0,-203.9,-196"/>
<path class="B39" d="M-281.9,-23.1Q0,0,280.7,-34.3"/>
<path class="B48" d="M-125.4,-253.5Q0,0,-151.9,238.5"/>
<path class="B29" d="M-198.6,201.3Q0,0,231.7,162.1"/>
<path class="B33" d="M-258.4,114.8Q0,0,-54.3,277.5"/>
<path class="B14" d="M259.2,113.1Q0,0,-273,-73.9"/>
<path class="B46" d="M-221.1,-176.4Q0,0,282.6,-11.4"/>
<path class="b3" d="M-147.5,-241.3L-146.5,-241.9Q0,0,-43.3,-279.5L-42.1,-279.7Q0,0,-147.5,-241.3Z"/>
<path class="B33" d="M-258.8,113.9Q0,0,-202.8,-197.1"/>
<path class="B37" d="M-281.3,28.9Q0,0,-45.8,-279.1"/>
<path class="B12" d="M280.4,36.9Q0,0,-203.6,-196.3"/>
<path class="B3" d="M98,-265.3Q0,0,193,206.7"/>
<path class="B40" d="M-277.6,-53.7Q0,0,49.3,278.5"/>
<path class="B3" d="M-150.7,-239.3Q0,0,26.8,281.5"/>
<path class="B8" d="M277.3,-55.5Q0,0,67.7,-274.6"/>
<path class="B0" d="M-201.5,-198.4Q0,0,246.4,138.9"/>
<path class="b5" d="M203.8,-196L206.7,-193Q0,0,232.7,-160.7L235.1,-157.2Q0,0,203.8,-196Z"/>
<path class="B26" d="M-130.7,250.8Q0,0,-240,-149.6"/>
<path class="B38" d="M-282.7,5.5Q0,0,-282.1,-19.3"/>
<path class="B18" d="M190.9,208.6Q0,0,-55.7,-277.3"/>
<path class="B3" d="M-157.9,-234.6Q0,0,1.2,-282.8"/>
<path class="B7" d="M271.5,-79.2Q0,0,-234.2,158.6"/>
<path class="b6" d="M248.1,-135.7L248.5,-135.1Q0,0,265.4,-97.5L265.7,-96.8Q0,0,248.1,-135.7Z"/>
<path class="B5" d="M215.8,-182.7Q0,0,-259.4,-112.5"/>
<path class="B22" d="M70.7,273.8Q0,0,-225.6,-170.6"/>
<path class="B32" d="M-246.8,138.1Q0,0,240.8,-148.3"/>
<path class="B21" d="M103.9,263Q0,0,-273,73.7"/>
<path class="b4" d="M168.1,-227.4L168.8,-226.9Q0,0,-168.3,-227.3L-167.6,-227.8Q0,0,168.1,-227.4Z"/>
<path class="B6" d="M250.4,-131.5Q0,0,158,234.6"/>
<path class="B14" d="M261.7,107.3Q0,0,216.6,181.8"/>
<path class="B8" d="M277.4,-55.2Q0,0,-0.2,282.8"/>
<path class="B26" d="M-132.3,250Q0,0,-48.6,-278.6"/>
<path class="B12" d="M280.5,36Q0,0,127.8,252.3"/>
<path class="B19" d="M175,222.2Q0,0,-225.8,-170.3"/>
<path class="B51" d="M-18.7,-282.2Q0,0,-127.5,-252.4"/>
<path class="B33" d="M-258.7,114.2Q0,0,-266.4,94.9"/>
<path class="B40" d="M-277.6,-54Q0,0,-55,277.4"/>
<path class="B14" d="M259.9,111.5Q0,0,-217.7,180.5"/>
<path class="B43" d="M-259,-113.6Q0,0,-257.4,117.2"/>
<path class="B3" d="M107.7,-261.5Q0,0,-278.7,-48.2"/>
<path class="B3" d="M-154.1,-237.1Q0,0,282.6,9.8"/>
<path class="B16" d="M229.7,165Q0,0,-56.3,-277.1"/>
<path class="B4" d="M157.6,-234.8Q0,0,232.8,160.5"/>
<path class="B6" d="M244.2,-142.7Q0,0,21.6,-282"/>
<path class="b33" d="M-258.9,113.8L-259.1,113.2Q0,0,-46.7,-278.9L-46.1,-279Q0,0,-258.9,113.8Z"/>
<path class="B35" d="M-273.4,72.4Q0,0,-266.4,94.8"/>
<path class="B36" d="M-278.1,51.5Q0,0,82.3,-270.5"/>
<path class="B0" d="M-201.8,-198.2Q0,0,241.9,-146.5"/>
<path class="B6" d="M253,-126.4Q0,0,-245.7,140"/>
<path class="B20" d="M153.4,237.6Q0,0,266.1,-95.6"/>
<path class="B20" d="M152.7,238Q0,0,125.8,253.3"/>
<path class="B3" d="M-154.2,-237Q0,0,277.3,-55.6"/>
<path class="B30" d="M-221.1,176.4Q0,0,-282.2,-19"/>
<path class="B4" d="M155.8,-236Q0,0,280.5,-35.7"/>
<path class="B22" d="M71.9,273.5Q0,0,27.4,281.5"/>
<path class="B17" d="M207.9,191.7Q0,0,-203.4,-196.5"/>
<path class="B33" d="M-258.6,114.5Q0,0,-151.6,238.7"/>
<path class="B49" d="M-103.7,-263.1Q0,0,280.7,-34"/>
<path class="B18" d="M191.4,208.2Q0,0,126,253.2"/>
<path class="B26" d="M-131.3,250.4Q0,0,-185.3,-213.6"/>
<path class="B46" d="M-218.7,-179.2Q0,0,-218.7,179.3"/>
<path class="B28" d="M-170.8,225.4Q0,0,197.5,-202.4"/>
<path class="B3" d="M-152.4,-238.2Q0,0,154.7,236.8"/>
<path class="B3" d="M104.7,-262.7Q0,0,-149.9,239.8"/>
<path class="B23" d="M48.2,278.7Q0,0,-257,118"/>
<path class="B22" d="M70.4,273.9Q0,0,-51.4,-278.1"/>
<path class="B39" d="M-281.8,-24.3Q0,0,120.1,256"/>
<path class="B4" d="M165.7,-229.2Q0,0,-256.6,118.9"/>
<path class="b14" d="M258.8,114L258.5,114.8Q0,0,-165.2,-229.5L-164.5,-230.1Q0,0,258.8,114Z"/>
<path class="B37" d="M-281.2,30.1Q0,0,82.4,-270.5"/>
<path class="b21" d="M102.9,263.4L101.3,264Q0,0,-163.6,-230.7L-162.2,-231.7Q0,0,102.9,263.4Z"/>
<path class="b5" d="M217.3,-181L218.2,-179.8Q0,0,-62.8,-275.7L-61.4,-276.1Q0,0,217.3,-181Z"/>
<path class="B17" d="M210,189.4Q0,0,49.6,278.4"/>
<path class="B9" d="M281,-32.1Q0,0,-150.6,239.4"/>
<path class="b17" d="M209.7,189.8L208.8,190.8Q0,0,-105,262.6L-106.2,262.1Q0,0,209.7,189.8Z"/>
<path class="B51" d="M-35.2,-280.6Q0,0,282.6,-11.3"/>
<path class="B48" d="M-125.5,-253.4Q0,0,-113.2,259.1"/>
<path class="B15" d="M243.9,143.1Q0,0,-240.1,-149.4"/>
<path class="B7" d="M271.5,-79.1Q0,0,-245.8,139.9"/>
<path class="B48" d="M-126,-253.2Q0,0,-7.4,282.7"/>
<path class="B20" d="M153.5,237.5Q0,0,237.7,-153.2"/>
<path class="B17" d="M208.2,191.3Q0,0,-278.4,-49.8"/>
<path class="B34" d="M-266.8,93.8Q0,0,213.8,185.1"/>
<path class="B0" d="M2.5,-282.8Q0,0,-278.7,-47.9"/>
<path class="B50" d="M-83.1,-270.3Q0,0,-57.2,277"/>
<path class="B33" d="M-258.7,114.3Q0,0,-218.4,179.7"/>
<path class="B34" d="M-267,93.1Q0,0,-278.2,-50.9"/>
<path class="B16" d="M230.5,163.9Q0,0,157.3,235"/>
<path class="B0" d="M-201.3,-198.6Q0,0,26.8,281.5"/>
<path class="b5" d="M207.7,-191.9L209.4,-190Q0,0,270.6,82L269.9,84.4Q0,0,207.7,-191.9Z"/>
<path class="B40" d="M-277.4,-55Q0,0,-44.4,-279.3"/>
<path class="B32" d="M-247.3,137.2Q0,0,-257.3,117.3"/>
<path class="B21" d="M111.7,259.8Q0,0,280.6,-34.8"/>
<path class="B40" d="M-277.6,-53.8Q0,0,26.9,281.5"/>
<path class="B26" d="M-126.3,253.1Q0,0,75.9,272.4"/>
<path class="b6" d="M244.2,-142.6L245.4,-140.6Q0,0,65,-275.2L67.3,-274.7Q0,0,244.2,-142.6Z"/>
<path class="B44" d="M-250,-132.2Q0,0,266.8,93.7"/>
<path class="B4" d="M164.7,-229.9Q0,0,-170.2,225.9"/>
<path class="B34" d="M-266.8,93.6Q0,0,120.7,255.7"/>
<path class="B4" d="M166.5,-228.6Q0,0,-282.4,-14.6"/>
<path class="B23" d="M25.7,281.6Q0,0,125.6,253.4"/>
<path class="b7" d="M270.4,-82.9L270.9,-81.1Q0,0,-45.5,279.1L-47.4,278.8Q0,0,270.4,-82.9Z"/>
<path class="B35" d="M-273.4,72.3Q0,0,-160.4,-232.9"/>
<path class="B40" d="M-277.6,-54.2Q0,0,-111.6,259.9"/>
<path class="B25" d="M-72.9,273.2Q0,0,-281.1,30.6"/>
<path class="b27" d="M-152.9,237.9L-153.5,237.5Q0,0,267.8,90.8L267.6,91.3Q0,0,-152.9,237.9Z"/>
<path class="B0" d="M2.6,-282.8Q0,0,-107.1,-261.7"/>
<path class="B4" d="M167,-228.2Q0,0,-250.4,-131.5"/>
<path class="B17" d="M208.4,191.2Q0,0,-273,73.9"/>
<path class="B17" d="M208.2,191.4Q0,0,-240.1,-149.4"/>
<path class="b29" d="M-198.9,201.1L-199.4,200.6Q0,0,121.8,255.2L121.2,255.5Q0,0,-198.9,201.1Z"/>
<path class="B26" d="M-129.6,251.4Q0,0,-277.9,52.3"/>
<path class="B14" d="M261,108.8Q0,0,-0.8,282.8"/>
<path class="B14" d="M259.1,113.4Q0,0,-240.2,-149.3"/>
<path class="B13" d="M277,57.1Q0,0,236.1,-155.7"/>
<path class="B24" d="M-14.9,282.4Q0,0,175.8,221.5"/>
<path class="B51" d="M-22.6,-281.9Q0,0,-278.1,51.6"/>
<path class="B15" d="M244.1,142.7Q0,0,-191.8,207.8"/>
<path class="B39" d="M-281.9,-22.8Q0,0,268,-90.4"/>
<path class="B5" d="M202.8,-197.1Q0,0,0.3,-282.8"/>
<path class="B27" d="M-152.2,238.3Q0,0,80.1,-271.2"/>
<path class="B44" d="M-250.1,-132Q0,0,83.7,-270.1"/>
<path class="B17" d="M208.5,191Q0,0,-218,180.2"/>
<path class="B45" d="M-239.5,-150.3Q0,0,213.6,185.3"/>
<path class="B3" d="M93,-267.1Q0,0,282.7,8.3"/>
<path class="B1" d="M22.5,-281.9Q0,0,-40.4,279.9"/>
<path class="B21" d="M101.2,264.1Q0,0,-128.5,-251.9"/>
<path class="B3" d="M-147.8,-241.1Q0,0,-127.6,-252.4"/>
<path class="B36" d="M-278.1,51.4Q0,0,145.9,-242.3"/>
<path class="b24" d="M-17.1,282.3L-17.9,282.2Q0,0,-52.4,277.9L-53.2,277.8Q0,0,-17.1,282.3Z"/>
<path class="B42" d="M-266.8,-93.7Q0,0,241.5,-147.1"/>
<path class="B26" d="M-129.6,251.3Q0,0,-281.1,30.6"/>
<path class="B47" d="M-185.2,-213.7Q0,0,148,-241"/>
<path class="B3" d="M87,-269.1Q0,0,42,-279.7"/>
<path class="B15" d="M244.6,141.9Q0,0,127.4,252.5"/>
<path class="B25" d="M-70.6,273.8Q0,0,49.5,278.4"/>
<path class="B21" d="M105.4,262.4Q0,0,-151.3,238.9"/>
<path class="B23" d="M26,281.6Q0,0,268.5,88.7"/>
<path class="B36" d="M-278.2,51Q0,0,155,236.5"/>
<path class="B17" d="M209.9,189.5Q0,0,27.6,281.5"/>
<path class="B9" d="M281,-32.2Q0,0,-103,263.4"/>
<path class="b3" d="M98.2,-265.2L99.1,-264.9Q0,0,131.1,250.6L130.2,251Q0,0,98.2,-265.2Z"/>
<path class="B24" d="M-19.5,282.1Q0,0,-266.3,95.2"/>
<path class="B12" d="M280.4,36.9Q0,0,-226.4,-169.4"/>
<path class="B36" d="M-278.3,50.3Q0,0,-185.3,-213.6"/>
<path class="B35" d="M-273.3,72.6Q0,0,-54.4,277.5"/>
<path class="B49" d="M-102.6,-263.5Q0,0,-282.7,7.6"/>
<path class="B25" d="M-67,274.8Q0,0,246.9,137.9"/>
<path class="B35" d="M-273.4,72.4Q0,0,-224,-172.6"/>
<path class="B6" d="M253.4,-125.5Q0,0,-282.4,-15.3"/>
<path class="B23" d="M48.5,278.6Q0,0,195.5,-204.3"/>
<path class="b26" d="M-118.9,256.6L-119.8,256.2Q0,0,196.5,-203.4L197.2,-202.7Q0,0,-118.9,256.6Z"/>
<path class="B46" d="M-218.5,-179.6Q0,0,-273.1,73.4"/>
<path class="B36" d="M-278.1,51.2Q0,0,241.1,-147.9"/>
<path class="B46" d="M-220.7,-176.9Q0,0,231.5,162.4"/>
<path class="b24" d="M-9.6,282.6L-10.9,282.6Q0,0,139.9,-245.8L141,-245.2Q0,0,-9.6,282.6Z"/>
<path class="B7" d="M272.1,-77.2Q0,0,-129.2,-251.5"/>
<path class="B15" d="M243.4,144Q0,0,-56.5,-277.1"/>
<path class="B20" d="M150.4,239.5Q0,0,-277.9,52.7"/>
<path class="B16" d="M231.3,162.8Q0,0,72.7,-273.3"/>
<path class="B11" d="M282.6,10.8Q0,0,269.2,86.6"/>
<path class="B24" d="M-13.6,282.5Q0,0,280.7,-34.7"/>
<path class="B41" d="M-272.8,-74.7Q0,0,-44.2,-279.3"/>
<path class="B26" d="M-129.5,251.4Q0,0,-266.4,95"/>
<path class="B46" d="M-220.1,-177.5Q0,0,119.7,256.2"/>
<path class="b14" d="M258.2,115.3L257.7,116.5Q0,0,-57.9,-276.8L-56.6,-277.1Q0,0,258.2,115.3Z"/>
<path class="B38" d="M-282.7,7.2Q0,0,82.6,-270.5"/>
<path class="B49" d="M-103.9,-263Q0,0,268.4,-89"/>
<path class="B26" d="M-114.1,258.8Q0,0,21.9,-281.9"/>
<path class="B49" d="M-103.5,-263.2Q0,0,231.4,162.5"/>
<path class="B18" d="M191.1,208.5Q0,0,-163.7,-230.6"/>
<path class="B25" d="M-74.3,272.9Q0,0,-203.1,-196.8"/>
<path class="B38" d="M-282.7,6.1Q0,0,246.6,138.5"/>
<path class="B0" d="M1.6,-282.8Q0,0,128.7,-251.8"/>
<path class="B27" d="M-154,237.2Q0,0,-224.6,-171.9"/>
<path class="B7" d="M269.8,-84.7Q0,0,282.7,8.9"/>
<path class="B38" d="M-282.7,6Q0,0,192.3,207.4"/>
<path class="B7" d="M271.6,-78.7Q0,0,-282.7,8.7"/>
<path class="B27" d="M-153.7,237.4Q0,0,27.2,281.5"/>
<path class="b14" d="M260.8,109.3L260.3,110.5Q0,0,-103.3,263.3L-104.5,262.8Q0,0,260.8,109.3Z"/>
<path class="B27" d="M-154.2,237.1Q0,0,-127.9,-252.2"/>
<path class="b21" d="M106.2,262.1L105.4,262.4Q0,0,-106.6,261.9L-107.4,261.6Q0,0,106.2,262.1Z"/>
<path class="B7" d="M268.7,-88.1Q0,0,67.5,-274.6"/>
<path class="B4" d="M160.3,-233Q0,0,28.2,281.4"/>
<path class="B46" d="M-218.6,-179.4Q0,0,-246.3,139"/>
<path class="B3" d="M-149.1,-240.3Q0,0,-266.5,94.6"/>
<path class="B51" d="M-35.4,-280.6Q0,0,280.8,-33.9"/>
<path class="B13" d="M277,57Q0,0,68.3,-274.4"/>
<path class="B51" d="M-41.4,-279.8Q0,0,22,-281.9"/>
<path class="B15" d="M244.2,142.6Q0,0,-104.6,262.7"/>
<path class="B26" d="M-131.3,250.5Q0,0,-203,-196.9"/>
<path class="B41" d="M-272.8,-74.4Q0,0,241.5,-147.2"/>
<path class="B32" d="M-246.9,137.8Q0,0,121.1,255.6"/>
<path class="B21" d="M111.4,259.9Q0,0,280.8,33.5"/>
<path class="b51" d="M-32.2,-281L-31.5,-281Q0,0,154.6,236.8L154,237.2Q0,0,-32.2,-281Z"/>
<path class="B21" d="M111.6,259.9Q0,0,282.6,9.2"/>
<path class="B46" d="M-220.3,-177.3Q0,0,175.6,221.6"/>
<path class="B9" d="M281,-32.1Q0,0,-191.5,208.1"/>
<path class="B7" d="M269.8,-84.8Q0,0,280.6,-35.2"/>
<path class="B6" d="M250.2,-131.9Q0,0,217.1,181.3"/>
<path class="B38" d="M-282.7,6.6Q0,0,199.3,-200.6"/>
<path class="B3" d="M110.4,-260.4Q0,0,-107,-261.8"/>
<path class="B7" d="M271.9,-77.6Q0,0,-226.6,-169.2"/>
<path class="B25" d="M-66.1,275Q0,0,280.7,-34.6"/>
<path class="B17" d="M212.6,186.5Q0,0,72.9,-273.2"/>
<path class="B41" d="M-272.9,-74.4Q0,0,146.7,-241.8"/>
<path class="B9" d="M281,-32Q0,0,-273,73.9"/>
<path class="B20" d="M153.8,237.3Q0,0,137.7,-247"/>
<path class="B24" d="M-20.8,282Q0,0,-105.7,-262.3"/>
<path class="B36" d="M-278.1,51.3Q0,0,199,-200.9"/>
<path class="B45" d="M-239.7,-150Q0,0,147,-241.6"/>
<path class="B25" d="M-75.5,272.5Q0,0,-83.8,-270.1"/>
<path class="B51" d="M-20.8,-282Q0,0,-250.2,-131.9"/>
<path class="B21" d="M103.7,263.1Q0,0,-281.1,30.8"/>
<path class="B2" d="M43.2,-279.5Q0,0,-64.3,-275.4"/>
<path class="B24" d="M-20.1,282.1Q0,0,-250.3,-131.7"/>
<path class="B32" d="M-247.4,137Q0,0,-160.6,-232.8"/>
<path class="B17" d="M211.3,188Q0,0,268.9,87.4"/>
<path class="B9" d="M281,-32Q0,0,-282.3,-16.1"/>
<path class="B38" d="M-282.7,5.7Q0,0,-151.7,238.7"/>
<path class="B11" d="M282.6,10.3Q0,0,191.1,-208.4"/>
<path class="B23" d="M48.4,278.6Q0,0,268.6,88.6"/>
<path class="B36" d="M-278.1,51.2Q0,0,267.8,-90.8"/>
<path class="B7" d="M271.4,-79.5Q0,0,-191.4,208.2"/>
<path class="B3" d="M89.8,-268.2Q0,0,186.1,-212.9"/>
<path class="B5" d="M213.3,-185.7Q0,0,-150.2,239.6"/>
<path class="B6" d="M250.6,-131Q0,0,28,281.4"/>
<path class="B26" d="M-128.8,251.7Q0,0,-218.3,179.7"/>
<path class="B0" d="M-200.5,-199.4Q0,0,-159.2,-233.7"/>
<path class="B12" d="M280.4,36.7Q0,0,-217.5,180.7"/>
<path class="B11" d="M282.6,10.7Q0,0,265.8,-96.6"/>
<path class="B7" d="M271.6,-78.8Q0,0,-273,74"/>
<path class="B0" d="M-201.7,-198.2Q0,0,268.2,-89.6"/>
<path class="B23" d="M25.1,281.7Q0,0,-203.2,-196.6"/>
<path class="B3" d="M86.9,-269.1Q0,0,21.4,-282"/>
<path class="B31" d="M-234.5,158.1Q0,0,267.7,-91.2"/>
<path class="B15" d="M245.1,141.2Q0,0,280.6,-35"/>
<path class="B38" d="M-282.7,6.3Q0,0,241.1,-147.8"/>
<path class="B3" d="M-154,-237.2Q0,0,280.7,34.4"/>
<path class="B27" d="M-152.5,238.1Q0,0,197.3,-202.6"/>
<path class="B18" d="M191.3,208.2Q0,0,-49,278.5"/>
<path class="B49" d="M-103.2,-263.3Q0,0,49.3,278.5"/>
<path class="b26" d="M-123.9,254.2L-125,253.7Q0,0,215,183.7L214.2,184.7Q0,0,-123.9,254.2Z"/>
<path class="B9" d="M280.9,-32.4Q0,0,-0.3,282.8"/>
<path class="B24" d="M-19.2,282.2Q0,0,-192.9,206.8"/>
<path class="b14" d="M262.8,104.4L262.2,106Q0,0,236.1,-155.7L237.1,-154.2Q0,0,262.8,104.4Z"/>
<path class="B3" d="M-148.9,-240.4Q0,0,-278,51.8"/>
<path class="B20" d="M152.8,237.9Q0,0,247.2,137.3"/>
<path class="B10" d="M282.6,-10.7Q0,0,-226.5,-169.3"/>
<path class="b3" d="M-157.1,-235.1L-156.5,-235.6Q0,0,148.1,-240.9L148.8,-240.5Q0,0,-157.1,-235.1Z"/>
<path class="B38" d="M-282.7,5.7Q0,0,-111.1,260.1"/>
<path class="b25" d="M-73.5,273.1L-74.3,272.9Q0,0,-225.4,-170.8L-225,-171.4Q0,0,-73.5,273.1Z"/>
<path class="b24" d="M-15.1,282.4L-16.8,282.3Q0,0,125.5,253.4L124,254.2Q0,0,-15.1,282.4Z"/>
<path class="B15" d="M244.1,142.8Q0,0,-281.1,31"/>
<path class="B15" d="M244.3,142.4Q0,0,-48.5,278.6"/>
<path class="B51" d="M-41.3,-279.8Q0,0,42.6,-279.6"/>
<path class="B51" d="M-33.2,-280.8Q0,0,231.3,162.7"/>
<path class="B49" d="M-103.4,-263.2Q0,0,213.1,185.9"/>
<path class="B25" d="M-70.5,273.9Q0,0,76,272.4"/>
<path class="B11" d="M282.6,11.1Q0,0,127.9,252.2"/>
<path class="B23" d="M48.2,278.7Q0,0,-107.6,261.5"/>
<path class="B4" d="M150,-239.8Q0,0,42.1,-279.7"/>
<path class="B34" d="M-267,93.1Q0,0,-282.7,8.1"/>
<path class="B34" d="M-267,93.2Q0,0,-273.1,73.4"/>
<path class="B28" d="M-170.8,225.4Q0,0,240.3,-149.1"/>
<path class="B34" d="M-267,93.3Q0,0,-193.9,205.8"/>
<path class="B40" d="M-277.8,-53Q0,0,268.1,-90"/>
<path class="B27" d="M-153.6,237.5Q0,0,121.9,255.2"/>
<path class="B23" d="M48.5,278.6Q0,0,266.3,-95.3"/>
<path class="B11" d="M282.6,11.8Q0,0,-58.1,-276.8"/>
<path class="B45" d="M-239.3,-150.6Q0,0,-282.1,-19.4"/>
<path class="B20" d="M154,237.2Q0,0,0.7,-282.8"/>
<path class="B23" d="M48.1,278.7Q0,0,-162.1,-231.7"/>
<path class="B51" d="M-35.8,-280.5Q0,0,268.6,-88.6"/>
<path class="B27" d="M-152.7,238Q0,0,240.2,-149.2"/>
<path class="B9" d="M280.9,-32.5Q0,0,27.8,281.4"/>
<path class="B40" d="M-277.7,-53.6Q0,0,154.9,236.6"/>
<path class="B22" d="M72.3,273.4Q0,0,215.4,183.2"/>
<path class="B37" d="M-281.3,29.4Q0,0,120.3,255.9"/>
<path class="b22" d="M74.5,272.8L73.3,273.1Q0,0,138.3,-246.7L139.3,-246.1Q0,0,74.5,272.8Z"/>
<path class="B49" d="M-102.5,-263.6Q0,0,-282.1,-20.2"/>
<path class="B4" d="M165.8,-229.1Q0,0,-266,96"/>
<path class="B36" d="M-278.2,50.9Q0,0,27,281.5"/>
<path class="B48" d="M-125.3,-253.5Q0,0,-281.2,30.3"/>
<path class="B29" d="M-201.1,198.9Q0,0,-278.2,-50.8"/>
<path class="B44" d="M-249.9,-132.4Q0,0,-44,-279.4"/>
<path class="B5" d="M214.7,-184.1Q0,0,-256.7,118.8"/>
<path class="B46" d="M-217.8,-180.4Q0,0,-127.7,-252.3"/>
<path class="B5" d="M215.6,-183Q0,0,-278.5,-48.9"/>
<path class="B37" d="M-281.3,29.1Q0,0,-224,-172.6"/>
<path class="B45" d="M-239.3,-150.8Q0,0,-43.9,-279.4"/>
<path class="B44" d="M-250.1,-132Q0,0,146.9,-241.7"/>
<path class="B7" d="M271.6,-79Q0,0,-256.8,118.4"/>
<path class="B12" d="M280.4,36.6Q0,0,-150.6,239.3"/>
<path class="B30" d="M-220.7,176.8Q0,0,49.4,278.4"/>
<path class="B14" d="M259.6,112.1Q0,0,-273,73.9"/>
<path class="B48" d="M-126,-253.2Q0,0,49.3,278.5"/>
<path class="B45" d="M-239.3,-150.7Q0,0,-127.7,-252.3"/>
<path class="B14" d="M261.7,107.1Q0,0,232.2,161.4"/>
<path class="B26" d="M-126.4,253Q0,0,27.3,281.5"/>
<path class="B12" d="M280.4,36.8Q0,0,-240.2,-149.3"/>
<path class="B16" d="M231.2,162.9Q0,0,137,-247.4"/>
<path class="B26" d="M-123.5,254.4Q0,0,246.8,138.1"/>
<path class="B25" d="M-75.2,272.6Q0,0,-128.2,-252.1"/>
<path class="b7" d="M269.3,-86.5L269.5,-85.6Q0,0,190.2,-209.3L190.9,-208.7Q0,0,269.3,-86.5Z"/>
<path class="B32" d="M-246.5,138.7Q0,0,81.7,-270.7"/>
<path class="B29" d="M-201.1,198.8Q0,0,-239.9,-149.7"/>
<path class="B27" d="M-154.1,237.1Q0,0,-203,-196.9"/>
<path class="B41" d="M-272.8,-74.5Q0,0,-111.7,259.8"/>
<path class="B14" d="M261.2,108.3Q0,0,77.1,272.1"/>
<path class="B8" d="M277.4,-55Q0,0,-165.5,-229.4"/>
<path class="B6" d="M250.6,-131.1Q0,0,49.8,278.4"/>
<path class="B37" d="M-281.3,29.5Q0,0,155,236.6"/>
<path class="B28" d="M-171.1,225.2Q0,0,-105.4,-262.4"/>
<path class="B15" d="M244.4,142.2Q0,0,-1.2,282.8"/>
<path class="B29" d="M-199.6,200.3Q0,0,-5.8,282.7"/>
<path class="b4" d="M150,-239.7L152.3,-238.3Q0,0,61.9,-275.9L64.6,-275.3Q0,0,150,-239.7Z"/>
<path class="B5" d="M207.6,-192Q0,0,280.9,32.7"/>
<path class="B19" d="M175.1,222.1Q0,0,-1.5,282.8"/>
<path class="B24" d="M-19.7,282.1Q0,0,-281.1,30.7"/>
<path class="B31" d="M-234.7,157.8Q0,0,-160.6,-232.7"/>
<path class="B3" d="M-149.5,-240.1Q0,0,-194.8,205"/>
<path class="B11" d="M282.6,11.6Q0,0,-226.5,-169.4"/>
<path class="B7" d="M271.8,-78Q0,0,-278.5,-49.4"/>
<path class="B3" d="M97.8,-265.4Q0,0,217.9,180.3"/>
<path class="B0" d="M2.1,-282.8Q0,0,131.1,250.6"/>
<path class="B15" d="M245.1,141.1Q0,0,266,-96"/>
<path class="B29" d="M-200.6,199.4Q0,0,-257.3,117.4"/>
<path class="B37" d="M-281.3,29.3Q0,0,-54.6,277.5"/>
<path class="B4" d="M158.6,-234.2Q0,0,129.9,251.2"/>
<path class="B30" d="M-220.8,176.7Q0,0,-5.9,282.7"/>
<path class="B15" d="M245.9,139.7Q0,0,0.6,-282.8"/>
<path class="B0" d="M-201.3,-198.7Q0,0,-7.1,282.7"/>
<path class="B14" d="M265.6,97.2Q0,0,42.2,-279.6"/>
<path class="B30" d="M-221.2,176.2Q0,0,-224.3,-172.2"/>
<path class="B13" d="M276.9,57.3Q0,0,-0.6,282.8"/>
<path class="B25" d="M-72.4,273.4Q0,0,-218.3,179.8"/>
<path class="B51" d="M-32.9,-280.9Q0,0,212.9,186.1"/>
<path class="B14" d="M259.6,112.3Q0,0,-281.1,31"/>
<path class="B1" d="M22,-281.9Q0,0,0,-282.8"/>
<path class="B0" d="M1.9,-282.8Q0,0,281,32.1"/>
<path class="B46" d="M-218.3,-179.7Q0,0,-282.7,7.8"/>
<path class="B30" d="M-219.4,178.5Q0,0,145.3,-242.6"/>
<path class="B25" d="M-72.7,273.3Q0,0,-257.1,117.8"/>
<path class="B22" d="M71.5,273.6Q0,0,-107.5,261.6"/>
<path class="B24" d="M-19.8,282.1Q0,0,-282.7,8.4"/>
<path class="B0" d="M2.2,-282.8Q0,0,5.2,282.8"/>
<path class="b4" d="M163.2,-231L164.6,-230Q0,0,-98.2,265.2L-99.9,264.6Q0,0,163.2,-231Z"/>
<path class="B5" d="M210.5,-188.8Q0,0,158.1,234.5"/>
<path class="B36" d="M-278.2,50.9Q0,0,49.4,278.5"/>
<path class="B3" d="M-149.3,-240.2Q0,0,-234.3,158.3"/>
<path class="B21" d="M109.2,260.8Q0,0,76.4,272.3"/>
<path class="B29" d="M-198.5,201.4Q0,0,246.7,138.3"/>
<path class="B23" d="M48.1,278.7Q0,0,-282.2,-17.8"/>
<path class="b14" d="M264.1,101.2L263.8,102Q0,0,135.5,-248.2L136.3,-247.8Q0,0,264.1,101.2Z"/>
<path class="B21" d="M113.6,259Q0,0,138,-246.8"/>
<path class="B33" d="M-257.8,116.3Q0,0,1.1,-282.8"/>
<path class="B24" d="M-14.7,282.4Q0,0,232,161.7"/>
<path class="b21" d="M107.5,261.6L106.2,262.1Q0,0,-50.8,278.2L-52.1,278Q0,0,107.5,261.6Z"/>
<path class="B4" d="M149.9,-239.8Q0,0,21.5,-282"/>
<path class="b26" d="M-120.6,255.8L-121.8,255.2Q0,0,267.1,-93.1L267.5,-91.8Q0,0,-120.6,255.8Z"/>
<path class="B15" d="M243.5,143.8Q0,0,-128.8,-251.8"/>
<path class="B39" d="M-281.6,-25.7Q0,0,-194.2,205.5"/>
<path class="B34" d="M-266.7,94.1Q0,0,241,-148"/>
<path class="B21" d="M103.5,263.2Q0,0,-282.3,-17.3"/>
<path class="B5" d="M214.2,-184.6Q0,0,-217,181.4"/>
<path class="B46" d="M-218.1,-180Q0,0,-278.2,-51.1"/>
<path class="B31" d="M-234.7,157.8Q0,0,-110.2,260.4"/>
<path class="B26" d="M-125.1,253.6Q0,0,192.4,207.3"/>
<path class="B29" d="M-198.2,201.7Q0,0,280.7,-34.3"/>
<path class="B7" d="M268.7,-88.3Q0,0,0.4,-282.8"/>
<path class="b4" d="M153.2,-237.7L154.3,-237Q0,0,232,-161.8L232.7,-160.7Q0,0,153.2,-237.7Z"/>
<path class="B45" d="M-239.5,-150.4Q0,0,-6.8,282.7"/>
<path class="B51" d="M-33.4,-280.8Q0,0,246,139.5"/>
<path class="B33" d="M-258.2,115.4Q0,0,267.8,-91"/>
<path class="B29" d="M-195.8,204Q0,0,1,-282.8"/>
<path class="b6" d="M245.4,-140.6L246,-139.4Q0,0,132.4,-249.9L133.5,-249.3Q0,0,245.4,-140.6Z"/>
<path class="B24" d="M-13.3,282.5Q0,0,266.3,-95.1"/>
<path class="B37" d="M-281.3,29.5Q0,0,213.8,185.1"/>
<path class="B25" d="M-58.9,276.6Q0,0,0.9,-282.8"/>
<path class="B3" d="M107.4,-261.6Q0,0,-282.4,-14.4"/>
<path class="b29" d="M-199.8,200.1L-200.5,199.5Q0,0,-109.3,260.8L-110.2,260.5Q0,0,-199.8,200.1Z"/>
<path class="B24" d="M-14.8,282.4Q0,0,215.2,183.5"/>
<path class="B1" d="M22.2,-281.9Q0,0,128.8,-251.7"/>
<path class="B0" d="M2,-282.8Q0,0,158.5,234.2"/>
<path class="B39" d="M-281.5,-27Q0,0,-127.8,-252.3"/>
<path class="B4" d="M155.6,-236.1Q0,0,277.2,-56.1"/>
<path class="B39" d="M-281.6,-26.2Q0,0,-282.7,8"/>
<path class="b51" d="M-22.3,-281.9L-21.4,-282Q0,0,-282.1,-20.2L-282,-21.2Q0,0,-22.3,-281.9Z"/>
<path class="B3" d="M-148.5,-240.7Q0,0,-282.1,-19.9"/>
<path class="B49" d="M-104.2,-262.9Q0,0,201.7,-198.2"/>
<path class="B16" d="M229.9,164.6Q0,0,-266.2,95.5"/>
<path class="B25" d="M-73.2,273.2Q0,0,-282.2,-18.1"/>
<path class="B10" d="M282.6,-10.6Q0,0,-58.2,-276.7"/>
<path class="B7" d="M271.9,-77.7Q0,0,-259.4,-112.6"/>
<path class="B5" d="M214.8,-184Q0,0,-266.1,95.9"/>
<path class="B39" d="M-281.6,-25.9Q0,0,-218.5,179.5"/>
<path class="B36" d="M-278.2,51.1Q0,0,267.3,92.5"/>
<path class="B39" d="M-281.7,-24.8Q0,0,27,281.5"/>
<path class="B37" d="M-281.3,29Q0,0,-160.1,-233.1"/>
<path class="B27" d="M-154.2,237.1Q0,0,-161,-232.5"/>
<path class="B22" d="M70.8,273.8Q0,0,-240.1,-149.5"/>
<path class="b26" d="M-128,252.2L-128.8,251.8Q0,0,-193.1,206.6L-193.8,206Q0,0,-128,252.2Z"/>
<path class="B39" d="M-281.7,-24.9Q0,0,-6.5,282.7"/>
<path class="B23" d="M25.9,281.6Q0,0,247,137.7"/>
<path class="B37" d="M-281.2,29.6Q0,0,267.2,92.5"/>
<path class="B16" d="M230,164.6Q0,0,-217.9,180.3"/>
<path class="B34" d="M-266.7,94.1Q0,0,280.7,34.2"/>
<path class="B30" d="M-221.3,176Q0,0,-160.7,-232.7"/>
<path class="B14" d="M262.1,106.2Q0,0,265.9,-96.2"/>
<path class="B40" d="M-277.6,-53.9Q0,0,-6.6,282.7"/>
<path class="B51" d="M-34.9,-280.6Q0,0,280.7,34.6"/>
<path class="B3" d="M97.5,-265.4Q0,0,232.9,160.4"/>
<path class="B48" d="M-126.2,-253.1Q0,0,213.1,185.9"/>
<path class="B4" d="M166.2,-228.8Q0,0,-281.1,31.3"/>
<path class="b24" d="M-17.9,282.2L-19,282.2Q0,0,-107.7,261.5L-108.7,261.1Q0,0,-17.9,282.2Z"/>
<path class="B14" d="M265.7,97Q0,0,0.6,-282.8"/>
<path class="B29" d="M-199.7,200.2Q0,0,-53.9,277.6"/>
<path class="B15" d="M244.9,141.4Q0,0,269.1,87"/>
<path class="B7" d="M272,-77.5Q0,0,-203.6,-196.2"/>
<path class="B22" d="M71.3,273.7Q0,0,-192.7,207"/>
<path class="B29" d="M-200.6,199.3Q0,0,-266.4,94.9"/>
<path class="B35" d="M-273.2,73.2Q0,0,82.2,-270.6"/>
<path class="B14" d="M259.1,113.2Q0,0,-259.4,-112.7"/>
<path class="B26" d="M-125.3,253.5Q0,0,155.4,236.3"/>
<path class="B24" d="M-20,282.1Q0,0,-278.3,-50.2"/>
<path class="B24" d="M-8.2,282.7Q0,0,42.2,-279.6"/>
<path class="B25" d="M-66.3,274.9Q0,0,280.8,33.8"/>
<path class="B33" d="M-258.4,115Q0,0,75.6,272.5"/>
<path class="b51" d="M-27.3,-281.5L-25.7,-281.6Q0,0,-57.2,276.9L-58.8,276.6Q0,0,-27.3,-281.5Z"/>
<path class="B3" d="M110.3,-260.4Q0,0,-129.8,-251.2"/>
<path class="B51" d="M-28.1,-281.4Q0,0,49.2,278.5"/>
<path class="B17" d="M210.1,189.4Q0,0,76.7,272.2"/>
<path class="B3" d="M108.2,-261.3Q0,0,-250.4,-131.4"/>
<path class="B6" d="M250.5,-131.3Q0,0,128.4,252"/>
<path class="B49" d="M-104.5,-262.8Q0,0,1.3,-282.8"/>
<path class="B1" d="M22.1,-281.9Q0,0,61.8,-276"/>
<path class="B44" d="M-250,-132.2Q0,0,-6.7,282.7"/>
<path class="b46" d="M-219.9,-177.8L-219.4,-178.4Q0,0,-55.2,277.4L-55.9,277.2Q0,0,-219.9,-177.8Z"/>
<path class="B37" d="M-281.2,29.8Q0,0,199.1,-200.8"/>
<path class="B5" d="M211.5,-187.7Q0,0,77.6,271.9"/>
<path class="B46" d="M-218.2,-179.9Q0,0,-282.1,-19.5"/>
<path class="b4" d="M158.8,-234L159.9,-233.3Q0,0,78.9,271.6L77.7,271.9Q0,0,158.8,-234Z"/>
<path class="B5" d="M216.3,-182.1Q0,0,-203.8,-196.1"/>
<path class="B49" d="M-102.4,-263.6Q0,0,-223.3,-173.5"/>
<path class="B7" d="M271.6,-78.8Q0,0,-277.8,52.8"/>
<path class="B34" d="M-266.6,94.4Q0,0,82.2,-270.6"/>
<path class="B21" d="M103.8,263.1Q0,0,-277.9,52.6"/>
<path class="b7" d="M269.5,-85.6L269.8,-84.9Q0,0,235.1,-157.2L235.5,-156.6Q0,0,269.5,-85.6Z"/>
<path class="b5" d="M212.5,-186.6L213.2,-185.8Q0,0,-99.9,264.6L-100.8,264.2Q0,0,212.5,-186.6Z"/>
<path class="B47" d="M-185,-213.9Q0,0,268.3,-89.5"/>
<path class="B15" d="M245,141.2Q0,0,282.7,9"/>
<path class="B14" d="M261.5,107.7Q0,0,157.6,234.8"/>
<path class="B27" d="M-153.9,237.3Q0,0,-246.2,139.2"/>
<path class="B26" d="M-130.3,251Q0,0,-273,-74"/>
<path class="B14" d="M260,111.2Q0,0,-191.7,207.9"/>
<path class="B3" d="M106.7,-261.9Q0,0,-266,96.1"/>
<path class="B14" d="M261.2,108.4Q0,0,49.7,278.4"/>
<path class="B3" d="M92.7,-267.2Q0,0,280.5,-35.9"/>
<path class="B9" d="M280.9,-32.3Q0,0,-47.6,278.8"/>
<path class="B25" d="M-71.8,273.5Q0,0,-108.9,261"/>
<path class="B5" d="M207.4,-192.2Q0,0,280.6,-35.5"/>
<path class="B29" d="M-201.4,198.6Q0,0,-202.9,-197"/>
<path class="B20" d="M150.5,239.4Q0,0,-245.8,139.8"/>
<path class="B43" d="M-259.2,-113.1Q0,0,146.8,-241.7"/>
<path class="B29" d="M-198.8,201.1Q0,0,155.2,236.4"/>
<path class="B41" d="M-272.8,-74.4Q0,0,266.9,93.4"/>
<path class="B27" d="M-152.9,237.9Q0,0,267.5,-91.8"/>
<path class="B25" d="M-67.5,274.6Q0,0,175.7,221.6"/>
<path class="B24" d="M-14.8,282.4Q0,0,192.4,207.2"/>
<path class="B16" d="M230.6,163.7Q0,0,280.6,-35"/>
<path class="B15" d="M244.5,142.1Q0,0,49.7,278.4"/>
<path class="B34" d="M-267.1,92.8Q0,0,-46,-279"/>
<path class="B38" d="M-282.7,5.6Q0,0,-266.4,94.8"/>
<path class="B14" d="M258.9,113.8Q0,0,-203.5,-196.3"/>
<path class="B45" d="M-239.4,-150.5Q0,0,-112.1,259.6"/>
<path class="B11" d="M282.6,11.5Q0,0,-281.1,31.1"/>
<path class="b4" d="M167.1,-228.2L167.9,-227.6Q0,0,-227.8,-167.5L-227.3,-168.3Q0,0,167.1,-228.2Z"/>
<path class="B26" d="M-130.6,250.8Q0,0,-250.2,-131.7"/>
<path class="b3" d="M108.3,-261.2L109.2,-260.9Q0,0,-228.4,-166.7L-227.8,-167.5Q0,0,108.3,-261.2Z"/>
<path class="B11" d="M282.6,10.9Q0,0,247.5,136.7"/>
<path class="b7" d="M270.9,-81.1L271.3,-79.8Q0,0,-101.7,263.9L-102.9,263.4Q0,0,270.9,-81.1Z"/>
<path class="B17" d="M212.8,186.3Q0,0,21.8,-282"/>
<path class="B33" d="M-258,115.7Q0,0,198.9,-201.1"/>
<path class="B38" d="M-282.7,5.9Q0,0,-54.7,277.5"/>
<path class="b4" d="M160.4,-232.9L161.4,-232.2Q0,0,3.7,282.8L2.5,282.8Q0,0,160.4,-232.9Z"/>
<path class="B38" d="M-282.7,7Q0,0,146.2,-242.1"/>
<path class="B6" d="M252.6,-127.2Q0,0,-170.3,225.8"/>
<path class="B47" d="M-184.9,-213.9Q0,0,266.6,94.2"/>
<path class="B35" d="M-273.2,72.9Q0,0,267.8,-90.9"/>
<path class="B14" d="M259.6,112.2Q0,0,-277.8,52.7"/>
<path class="B37" d="M-281.2,29.6Q0,0,246.6,138.4"/>
<path class="B30" d="M-220.6,176.9Q0,0,192.3,207.4"/>
<path class="B6" d="M248.5,-135Q0,0,277.2,-55.9"/>
<path class="B4" d="M166.8,-228.4Q0,0,-267.1,-92.9"/>
<path class="b4" d="M169,-226.7L169.7,-226.2Q0,0,-63.6,-275.5L-62.8,-275.7Q0,0,169,-226.7Z"/>
<path class="B34" d="M-266.7,94Q0,0,267.3,92.3"/>
<path class="B23" d="M26.1,281.6Q0,0,280.7,-34.8"/>
<path class="B3" d="M97.4,-265.5Q0,0,248.3,135.3"/>
<path class="b39" d="M-281.9,-23.1L-281.8,-23.8Q0,0,267.2,92.6L267,93.3Q0,0,-281.9,-23.1Z"/>
<path class="B46" d="M-220.5,-177Q0,0,213.5,185.5"/>
<path class="B14" d="M259.2,113Q0,0,-278.4,-49.6"/>
<path class="B51" d="M-28.3,-281.4Q0,0,74.8,272.7"/>
<path class="B48" d="M-126.6,-252.9Q0,0,280.7,34.5"/>
<path class="B19" d="M175.3,221.9Q0,0,137.6,-247.1"/>
<path class="B30" d="M-220.9,176.5Q0,0,-193.8,206"/>
<path class="B6" d="M250.6,-131.1Q0,0,77.4,272"/>
<path class="B21" d="M109.5,260.7Q0,0,192.5,207.2"/>
<path class="b51" d="M-40.7,-279.9L-39.9,-280Q0,0,149,-240.3L149.7,-239.9Q0,0,-40.7,-279.9Z"/>
<path class="B37" d="M-281.3,29.4Q0,0,75.5,272.5"/>
<path class="b29" d="M-195.8,204L-196.4,203.4Q0,0,80.2,-271.2L81,-270.9Q0,0,-195.8,204Z"/>
<path class="B40" d="M-277.5,-54.5Q0,0,-266.5,94.7"/>
<path class="B30" d="M-220.9,176.6Q0,0,-110.2,260.5"/>
<path class="B7" d="M269.9,-84.3Q0,0,269.3,86.3"/>
<path class="B39" d="M-281.5,-27.1Q0,0,-105.1,-262.5"/>
<path class="B3" d="M-148.3,-240.8Q0,0,-259.3,-113"/>
<path class="B22" d="M71.1,273.7Q0,0,-281.1,30.7"/>
<path class="B7" d="M270,-84Q0,0,232.3,161.3"/>
<path class="B15" d="M244,143Q0,0,-282.3,-16.9"/>
<path class="B20" d="M150,239.7Q0,0,-128.6,-251.9"/>
<path class="B18" d="M191.6,208Q0,0,237.7,-153.3"/>
<path class="B30" d="M-221.5,175.8Q0,0,-46.9,-278.9"/>
<path class="B47" d="M-184.8,-214.1Q0,0,-7.2,282.7"/>
<path class="B33" d="M-258.9,113.8Q0,0,-160.5,-232.8"/>
<path class="B6" d="M250,-132.2Q0,0,232.4,161.1"/>
<path class="B42" d="M-266.9,-93.6Q0,0,146.7,-241.8"/>
<path class="B23" d="M25.6,281.6Q0,0,-52.3,277.9"/>
<path class="B51" d="M-23.7,-281.8Q0,0,-218.9,179"/>
<path class="B21" d="M109.1,260.9Q0,0,27.5,281.5"/>
<path class="B29" d="M-201.2,198.7Q0,0,-224.5,-172"/>
<path class="B3" d="M-149.8,-239.8Q0,0,-113,259.3"/>
<path class="B20" d="M152.8,238Q0,0,232.1,161.5"/>
<path class="B51" d="M-22.6,-281.9Q0,0,-281.2,30.2"/>
<path class="B39" d="M-282,-21.3Q0,0,82.8,-270.4"/>
<path class="B47" d="M-184.8,-214Q0,0,75.1,272.6"/>
<path class="B5" d="M214.8,-184Q0,0,-272.9,74.1"/>
<path class="B23" d="M25.5,281.6Q0,0,-107.6,261.5"/>
<path class="b3" d="M109.5,-260.7L110.3,-260.4Q0,0,-168.9,-226.8L-168.3,-227.3Q0,0,109.5,-260.7Z"/>
<path class="B23" d="M48.5,278.6Q0,0,238,-152.8"/>
<path class="B36" d="M-278.2,50.7Q0,0,-54.5,277.5"/>
<path class="B45" d="M-239.5,-150.4Q0,0,75.2,272.6"/>
<path class="B5" d="M215.1,-183.6Q0,0,-282.7,9.1"/>
<path class="B24" d="M-19.8,282.1Q0,0,-282.2,-18"/>
<path class="B6" d="M253.2,-125.9Q0,0,-281.1,31.1"/>
<path class="B51" d="M-22.7,-281.9Q0,0,-273.1,73.3"/>
<path class="B45" d="M-239.4,-150.6Q0,0,-194.5,205.3"/>
<path class="B22" d="M70.8,273.8Q0,0,-278.3,-50.1"/>
<path class="B35" d="M-273.2,73Q0,0,241,-147.9"/>
<path class="B5" d="M211.7,-187.6Q0,0,28.1,281.4"/>
<path class="B11" d="M282.6,11.2Q0,0,-0.4,282.8"/>
<path class="b51" d="M-39.9,-280L-38.4,-280.2Q0,0,201.7,-198.2L202.8,-197.1Q0,0,-39.9,-280Z"/>
<path class="B27" d="M-154,237.2Q0,0,-282.2,-18.6"/>
<path class="B27" d="M-153.9,237.2Q0,0,-282.7,8.2"/>
<path class="B40" d="M-278.1,-51.6Q0,0,42.5,-279.6"/>
<path class="B6" d="M248.6,-134.7Q0,0,282.6,-11.6"/>
<path class="B4" d="M167.1,-228.2Q0,0,-240.3,-149.1"/>
<path class="B8" d="M277.3,-55.5Q0,0,134.9,-248.6"/>
<path class="B32" d="M-247.3,137.2Q0,0,-282.2,-19.1"/>
<path class="B4" d="M165.4,-229.4Q0,0,-216.8,181.6"/>
<path class="B14" d="M262,106.5Q0,0,280.8,33.2"/>
<path class="b6" d="M250.7,-130.9L251.6,-129.2Q0,0,2.1,282.8L0.2,282.8Q0,0,250.7,-130.9Z"/>
<path class="B33" d="M-258.8,114.1Q0,0,-224.1,-172.5"/>
<path class="B14" d="M259.6,112.1Q0,0,-266.1,95.7"/>
<path class="B29" d="M-200.7,199.2Q0,0,-281.1,30.6"/>
<path class="B46" d="M-217.9,-180.2Q0,0,-159.4,-233.6"/>
<path class="B3" d="M93.1,-267Q0,0,281,32.2"/>
<path class="B50" d="M-83,-270.3Q0,0,-113.4,259.1"/>
<path class="B26" d="M-127.9,252.2Q0,0,-151.5,238.8"/>
<path class="B18" d="M191.6,208Q0,0,266.1,-95.7"/>
<path class="B27" d="M-154.3,237Q0,0,-48.2,-278.7"/>
<path class="B6" d="M252.7,-127Q0,0,-191.1,208.5"/>
<path class="B26" d="M-130.2,251.1Q0,0,-278.2,-50.6"/>
<path class="B25" d="M-73,273.2Q0,0,-282.7,8.4"/>
<path class="B27" d="M-153.7,237.4Q0,0,-5.7,282.7"/>
<path class="B16" d="M230.4,164Q0,0,127.3,252.5"/>
<path class="B9" d="M280.9,-32.8Q0,0,269.2,86.5"/>
<path class="B46" d="M-218.1,-180Q0,0,-239.9,-149.8"/>
<path class="B45" d="M-239.3,-150.7Q0,0,-159.6,-233.5"/>
<path class="B9" d="M280.9,-32.7Q0,0,232.3,161.3"/>
<path class="B23" d="M25.7,281.6Q0,0,157.1,235.2"/>
<path class="B24" d="M-15,282.4Q0,0,157,235.2"/>
<path class="B17" d="M207.7,191.9Q0,0,-128.7,-251.8"/>
<path class="B51" d="M-35.5,-280.6Q0,0,277.3,-55.6"/>
<path class="B24" d="M-19,282.2Q0,0,-151.4,238.8"/>
<path class="B7" d="M270,-84.1Q0,0,247.6,136.6"/>
<path class="B17" d="M208.1,191.5Q0,0,-226,-170"/>
<path class="B7" d="M270.1,-83.9Q0,0,216.9,181.5"/>
<path class="B25" d="M-66.7,274.8Q0,0,268.3,89.4"/>
<path class="B12" d="M280.5,35.6Q0,0,265.8,-96.5"/>
<path class="b26" d="M-125.4,253.5L-126.1,253.1Q0,0,122.7,254.8L122,255.1Q0,0,-125.4,253.5Z"/>
<path class="b21" d="M113.3,259.1L112.2,259.6Q0,0,194.4,-205.3L195.4,-204.5Q0,0,113.3,259.1Z"/>
<path class="B46" d="M-218.1,-180.1Q0,0,-202.5,-197.4"/>
<path class="B5" d="M207.5,-192.1Q0,0,282.6,-11.7"/>
<path class="B51" d="M-32.4,-280.9Q0,0,175.5,221.8"/>
<path class="b3" d="M101.5,-264L104.6,-262.7Q0,0,-95.1,266.3L-98.2,265.2Q0,0,101.5,-264Z"/>
<path class="B29" d="M-200.7,199.3Q0,0,-273.1,73.5"/>
<path class="B40" d="M-277.5,-54.5Q0,0,-282.7,8"/>
<path class="b46" d="M-222.4,-174.6L-221.8,-175.4Q0,0,147,-241.6L147.9,-241.1Q0,0,-222.4,-174.6Z"/>
<path class="B3" d="M-153,-237.9Q0,0,246.2,139.1"/>
<path class="B39" d="M-281.6,-26.1Q0,0,-278,52.1"/>
<path class="B0" d="M-201.4,-198.6Q0,0,119.6,256.3"/>
<path class="b21" d="M105.2,262.5L104.6,262.7Q0,0,-192.1,207.5L-192.6,207.1Q0,0,105.2,262.5Z"/>
<path class="B9" d="M280.9,-32.6Q0,0,157.8,234.7"/>
<path class="B11" d="M282.6,10.5Q0,0,235.9,-156"/>
<path class="b25" d="M-75.6,272.5L-77.1,272.1Q0,0,-50.4,-278.3L-48.8,-278.6Q0,0,-75.6,272.5Z"/>
<path class="b26" d="M-117.3,257.3L-118.9,256.6Q0,0,142.9,-244.1L144.4,-243.2Q0,0,-117.3,257.3Z"/>
<path class="B38" d="M-282.7,6Q0,0,155,236.6"/>
<path class="B24" d="M-20.4,282.1Q0,0,-203.2,-196.7"/>
<path class="B20" d="M150.2,239.6Q0,0,-225.7,-170.4"/>
<path class="B6" d="M250.3,-131.6Q0,0,192.7,207"/>
<path class="B32" d="M-247,137.7Q0,0,-6.1,282.7"/>
<path class="B29" d="M-198.3,201.7Q0,0,282.6,9.6"/>
<path class="B27" d="M-152.9,237.9Q0,0,280.7,-34.4"/>
<path class="b20" d="M152.4,238.2L150.9,239.2Q0,0,-49.1,278.5L-50.8,278.2Q0,0,152.4,238.2Z"/>
<path class="B6" d="M248.6,-134.8Q0,0,280.6,-35.3"/>
<path class="B3" d="M104.8,-262.7Q0,0,-170.1,225.9"/>
<path class="b6" d="M254,-124.3L254.6,-123Q0,0,-166.7,-228.4L-165.6,-229.2Q0,0,254,-124.3Z"/>
<path class="B3" d="M-147.7,-241.2Q0,0,-104.9,-262.6"/>
<path class="B11" d="M282.6,11Q0,0,216.8,181.6"/>
<path class="B17" d="M211.5,187.7Q0,0,280.6,-35"/>
<path class="B26" d="M-129.5,251.4Q0,0,-273.1,73.6"/>
<path class="B16" d="M229.9,164.7Q0,0,-282.3,-17"/>
<path class="b6" d="M249,-134.1L249.8,-132.5Q0,0,269.9,84.4L269.4,86.1Q0,0,249,-134.1Z"/>
<path class="B23" d="M48.4,278.6Q0,0,247.1,137.6"/>
<path class="B9" d="M280.9,-32.6Q0,0,128.1,252.1"/>
<path class="B43" d="M-259.1,-113.3Q0,0,268.2,-89.7"/>
<path class="B29" d="M-197.8,202.1Q0,0,240.5,-148.9"/>
<path class="B46" d="M-218.5,-179.5Q0,0,-266.5,94.7"/>
<path class="B14" d="M258.3,115.2Q0,0,-106.1,-262.1"/>
<path class="B5" d="M207.7,-191.9Q0,0,277.1,56.5"/>
<path class="B18" d="M191.5,208.1Q0,0,247.2,137.3"/>
<path class="B7" d="M272.2,-76.5Q0,0,-58.9,-276.6"/>
<path class="B21" d="M111.2,260Q0,0,268.7,88.2"/>
<path class="B0" d="M-201.9,-198Q0,0,200.7,-199.2"/>
<path class="b14" d="M263.8,102L262.8,104.4Q0,0,191.3,-208.3L193.2,-206.6Q0,0,263.8,102Z"/>
<path class="B24" d="M-19.2,282.1Q0,0,-218.2,179.9"/>
<path class="B0" d="M1.7,-282.8Q0,0,230.5,-163.8"/>
<path class="B3" d="M-147.8,-241.1Q0,0,-202.4,-197.5"/>
<path class="B9" d="M280.8,-33.6Q0,0,67.7,-274.6"/>
<path class="B26" d="M-131.6,250.3Q0,0,-161.2,-232.4"/>
<path class="B24" d="M-19.6,282.1Q0,0,-273,73.6"/>
<path class="b3" d="M-156.5,-235.6L-155.6,-236.2Q0,0,200.8,-199.2L201.5,-198.4Q0,0,-156.5,-235.6Z"/>
<path class="B0" d="M2.7,-282.8Q0,0,-64.4,-275.4"/>
<path class="B6" d="M253.6,-125.1Q0,0,-267.1,-93"/>
<path class="B20" d="M152.6,238.1Q0,0,76.5,272.2"/>
<path class="b6" d="M254.8,-122.7L255.8,-120.6Q0,0,-61.4,-276.1L-59.1,-276.6Q0,0,254.8,-122.7Z"/>
<path class="B36" d="M-278.3,50.1Q0,0,-160.3,-233"/>
<path class="B46" d="M-218.4,-179.6Q0,0,-281.2,30.5"/>
<path class="B35" d="M-273.3,72.8Q0,0,267.3,92.4"/>
<path class="B9" d="M281,-31.8Q0,0,-165.4,-229.4"/>
<path class="B38" d="M-282.7,5.3Q0,0,-223.9,-172.8"/>
<path class="B19" d="M175,222.1Q0,0,-49,278.5"/>
<path class="B51" d="M-20.1,-282.1Q0,0,-202.3,-197.6"/>
<path class="B16" d="M230.6,163.8Q0,0,282.7,9.1"/>
<path class="B33" d="M-258,115.9Q0,0,145.5,-242.5"/>
<path class="B14" d="M259.5,112.3Q0,0,-282.7,8.7"/>
<path class="B21" d="M105.3,262.5Q0,0,-170.5,225.6"/>
<path class="B29" d="M-198.3,201.6Q0,0,280.7,34.1"/>
<path class="B16" d="M230.2,164.3Q0,0,-104.9,262.6"/>
<path class="B7" d="M270.3,-83.1Q0,0,0,282.8"/>
<path class="B46" d="M-220,-177.7Q0,0,-6.9,282.7"/>
<path class="B27" d="M-153.9,237.3Q0,0,-257.2,117.5"/>
<path class="B20" d="M150.6,239.4Q0,0,-218.1,180.1"/>
<path class="b3" d="M-157.8,-234.7L-157.1,-235.1Q0,0,85.1,-269.7L85.9,-269.4Q0,0,-157.8,-234.7Z"/>
<path class="B11" d="M282.6,10.9Q0,0,232.2,161.4"/>
<path class="B7" d="M271.5,-79.3Q0,0,-217.4,180.9"/>
<path class="b3" d="M110.5,-260.3L111.1,-260Q0,0,-64.3,-275.4L-63.6,-275.5Q0,0,110.5,-260.3Z"/>
<path class="b39" d="M-281.5,-27.2L-281.4,-28.1Q0,0,-45.5,-279.1L-44.6,-279.3Q0,0,-281.5,-27.2Z"/>
<path class="b25" d="M-62.9,275.7L-64,275.5Q0,0,239.1,-151L239.7,-150.1Q0,0,-62.9,275.7Z"/>
<path class="B0" d="M1.4,-282.8Q0,0,21.4,-282"/>
<path class="B12" d="M280.5,35.8Q0,0,216.7,181.7"/>
<path class="B14" d="M261.6,107.5Q0,0,175.9,221.5"/>
<path class="B22" d="M71.2,273.7Q0,0,-257,118"/>
<path class="B30" d="M-220,177.7Q0,0,267.7,-91.3"/>
<path class="B17" d="M209.8,189.6Q0,0,-1.4,282.8"/>
<path class="B37" d="M-281.3,29.2Q0,0,-111,260.1"/>
<path class="B37" d="M-281.3,29.3Q0,0,-6.4,282.7"/>
<path class="B0" d="M-201.2,-198.7Q0,0,-56,277.2"/>
<path class="B5" d="M207.6,-192.1Q0,0,282.7,8.5"/>
<path class="B8" d="M277.3,-55.3Q0,0,235.6,-156.5"/>
<path class="B20" d="M150.4,239.5Q0,0,-281.1,30.9"/>
<path class="B0" d="M1.8,-282.8Q0,0,280.5,-36"/>
<path class="B38" d="M-282.7,6.1Q0,0,267.2,92.6"/>
<path class="B11" d="M282.6,11.5Q0,0,-217.5,180.8"/>
<path class="B17" d="M209.7,189.7Q0,0,-48.9,278.5"/>
<path class="B32" d="M-247,137.8Q0,0,27.1,281.5"/>
<path class="B14" d="M259.7,112Q0,0,-256.9,118.3"/>
<path class="B22" d="M73.2,273.2Q0,0,195.4,-204.4"/>
<path class="B24" d="M-20.5,282.1Q0,0,-185.4,-213.5"/>
<path class="B38" d="M-282.7,5.9Q0,0,-6.4,282.7"/>
<path class="B32" d="M-246.9,137.9Q0,0,267.4,92.2"/>
<path class="B4" d="M166.4,-228.7Q0,0,-282.6,9.5"/>
<path class="B39" d="M-281.6,-26.4Q0,0,-223.8,-172.9"/>
<path class="B40" d="M-277.5,-54.6Q0,0,-282.1,-19.3"/>
<path class="B46" d="M-220.2,-177.4Q0,0,154.8,236.7"/>
<path class="B0" d="M-201.6,-198.3Q0,0,266.7,94.1"/>
<path class="B16" d="M230.3,164.1Q0,0,-48.7,278.6"/>
<path class="B27" d="M-153.8,237.3Q0,0,-109.2,260.8"/>
<path class="B12" d="M280.4,36.5Q0,0,-103.2,263.3"/>
<path class="B23" d="M24.9,281.7Q0,0,-51,-278.2"/>
<path class="b14" d="M259.5,112.3L259.2,113Q0,0,-282.3,-16.2L-282.3,-16.9Q0,0,259.5,112.3Z"/>
<path class="B45" d="M-239.6,-150.2Q0,0,266.8,93.7"/>
<path class="B12" d="M280.4,37.1Q0,0,-58,-276.8"/>
<path class="B24" d="M-8.1,282.7Q0,0,0.8,-282.8"/>
<path class="B6" d="M253.7,-124.9Q0,0,-240.2,-149.2"/>
<path class="B6" d="M248.8,-134.5Q0,0,282.7,8.7"/>
<path class="B24" d="M-14.5,282.4Q0,0,247,137.8"/>
<path class="B49" d="M-104.5,-262.8Q0,0,86,-269.4"/>
<path class="B38" d="M-282.7,6Q0,0,213.8,185.2"/>
<path class="B8" d="M277.4,-55.1Q0,0,-47.4,278.8"/>
<path class="B33" d="M-258.7,114.2Q0,0,-259.3,-112.9"/>
<path class="B33" d="M-258.7,114.2Q0,0,-277.9,52.2"/>
<path class="B45" d="M-239.6,-150.2Q0,0,280.7,34.3"/>
<path class="B17" d="M208.4,191.1Q0,0,-266.2,95.5"/>
<path class="B0" d="M2,-282.8Q0,0,248.4,135.2"/>
<path class="B33" d="M-258.6,114.4Q0,0,-193.9,205.9"/>
<path class="B17" d="M211.1,188.2Q0,0,232.2,161.5"/>
<path class="B5" d="M210.4,-189Q0,0,192.8,206.9"/>
<path class="B2" d="M42.8,-279.5Q0,0,272.1,77.1"/>
<path class="B25" d="M-72.6,273.3Q0,0,-246,139.5"/>
<path class="B9" d="M280.8,-33.4Q0,0,135,-248.5"/>
<path class="b20" d="M150,239.7L149.4,240.1Q0,0,-55.3,-277.3L-54.6,-277.5Q0,0,150,239.7Z"/>
<path class="B11" d="M282.6,11.4Q0,0,-191.5,208.1"/>
<path class="B21" d="M112,259.7Q0,0,237.8,-153"/>
<path class="B29" d="M-201.6,198.3Q0,0,-105.3,-262.5"/>
<path class="B36" d="M-278.3,50.5Q0,0,-266.4,94.8"/>
<path class="B20" d="M150.6,239.3Q0,0,-192.1,207.5"/>
<path class="B11" d="M282.6,10.1Q0,0,68,-274.5"/>
<path class="B25" d="M-65.9,275Q0,0,277.3,-55.7"/>
<path class="B17" d="M207.8,191.8Q0,0,-185.5,-213.5"/>
<path class="B51" d="M-25,-281.7Q0,0,-152.1,238.4"/>
<path class="B42" d="M-266.8,-93.8Q0,0,268.2,-89.8"/>
<path class="B36" d="M-278.3,50.4Q0,0,-282.1,-19.2"/>
<path class="B6" d="M254,-124.4Q0,0,-185.7,-213.3"/>
<path class="B9" d="M280.8,-33.7Q0,0,0.5,-282.8"/>
<path class="B44" d="M-249.9,-132.3Q0,0,-112,259.7"/>
<path class="b51" d="M-38.4,-280.2L-36.1,-280.5Q0,0,242.9,-144.8L244.1,-142.8Q0,0,-38.4,-280.2Z"/>
<path class="b14" d="M260.3,110.5L260.1,111.1Q0,0,-150.7,239.3L-151.2,239Q0,0,260.3,110.5Z"/>
<path class="B24" d="M-19.7,282.1Q0,0,-277.9,52.5"/>
<path class="B42" d="M-266.7,-94Q0,0,-111.8,259.8"/>
<path class="b5" d="M203.1,-196.8L203.8,-196Q0,0,131.4,-250.4L132.4,-249.9Q0,0,203.1,-196.8Z"/>
<path class="B38" d="M-282.7,5.6Q0,0,-194.1,205.7"/>
<path class="B21" d="M103.2,263.3Q0,0,-240.1,-149.5"/>
<path class="b3" d="M99.4,-264.8L100.7,-264.3Q0,0,5.1,282.8L3.7,282.8Q0,0,99.4,-264.8Z"/>
<path class="B36" d="M-278.3,50.5Q0,0,-257.4,117.2"/>
<path class="B11" d="M282.6,11.3Q0,0,-47.8,278.7"/>
<path class="B6" d="M253.2,-125.9Q0,0,-277.8,52.9"/>
<path class="B50" d="M-82.8,-270.4Q0,0,-41.5,-279.7"/>
<path class="B17" d="M211.8,187.4Q0,0,237.5,-153.5"/>
<path class="B26" d="M-132,250.1Q0,0,-83.7,-270.1"/>
<path class="B40" d="M-277.9,-52.5Q0,0,199.9,-200"/>
<path class="B32" d="M-247.2,137.4Q0,0,-110.4,260.4"/>
<path class="B48" d="M-126.7,-252.8Q0,0,282.6,9.8"/>
<path class="B24" d="M-19.3,282.1Q0,0,-234.3,158.4"/>
<path class="B30" d="M-220.1,177.6Q0,0,280.7,34.2"/>
<path class="B51" d="M-27.6,-281.5Q0,0,-7.8,282.7"/>
<path class="B24" d="M-19.5,282.1Q0,0,-257.1,117.9"/>
<path class="b51" d="M-31.5,-281L-28.4,-281.4Q0,0,117.7,257.1L114.9,258.4Q0,0,-31.5,-281Z"/>
<path class="B5" d="M209.9,-189.5Q0,0,232.7,160.7"/>
<path class="B0" d="M-200.8,-199.1Q0,0,-281.2,30.4"/>
<path class="B3" d="M-150.8,-239.3Q0,0,49.3,278.5"/>
<path class="B49" d="M-103.2,-263.3Q0,0,74.9,272.7"/>
<path class="B16" d="M230.5,163.8Q0,0,269,87.2"/>
<path class="B24" d="M-20.7,282Q0,0,-161.9,-231.8"/>
<path class="B15" d="M244.1,142.8Q0,0,-266.1,95.6"/>
<path class="B3" d="M-148.7,-240.6Q0,0,-281.2,30.4"/>
<path class="B40" d="M-277.7,-53.7Q0,0,75.2,272.6"/>
<path class="B50" d="M-82.9,-270.4Q0,0,-159,-233.8"/>
<path class="b24" d="M-8.2,282.7L-9.6,282.6Q0,0,74.6,-272.8L76,-272.4Q0,0,-8.2,282.7Z"/>
<path class="B17" d="M211.1,188.2Q0,0,192.5,207.1"/>
<path class="B3" d="M99.3,-264.8Q0,0,50.3,278.3"/>
<path class="B20" d="M150.3,239.6Q0,0,-240.1,-149.4"/>
<path class="B39" d="M-281.8,-24.1Q0,0,192.3,207.4"/>
<path class="B32" d="M-247.3,137.1Q0,0,-224.2,-172.4"/>
<path class="B21" d="M109.4,260.8Q0,0,157.2,235.1"/>
<path class="B17" d="M212.4,186.7Q0,0,137.2,-247.3"/>
<path class="B18" d="M191.1,208.4Q0,0,-225.9,-170.2"/>
<path class="B23" d="M48.1,278.7Q0,0,-278.3,-50.1"/>
<path class="B17" d="M211.6,187.6Q0,0,266.1,-95.8"/>
<path class="B42" d="M-266.9,-93.6Q0,0,200.1,-199.8"/>
<path class="B49" d="M-103.1,-263.4Q0,0,-57.1,277"/>
<path class="B46" d="M-218.6,-179.5Q0,0,-257.4,117.1"/>
<path class="B20" d="M152.5,238.1Q0,0,27.5,281.5"/>
<path class="B16" d="M229.9,164.7Q0,0,-226.2,-169.8"/>
<path class="B1" d="M22.3,-281.9Q0,0,230.6,-163.8"/>
<path class="B16" d="M230.8,163.5Q0,0,237.3,-153.9"/>
<path class="B14" d="M261.8,106.8Q0,0,247.4,137"/>
<path class="B3" d="M-154.3,-237Q0,0,268.3,-89.4"/>
<path class="B12" d="M280.5,36.3Q0,0,-0.5,282.8"/>
<path class="b4" d="M152.3,-238.3L153.2,-237.7Q0,0,186.3,-212.8L187.1,-212.1Q0,0,152.3,-238.3Z"/>
<path class="B10" d="M282.6,-10.8Q0,0,-47.7,278.7"/>
<path class="B30" d="M-220.7,176.8Q0,0,121.1,255.5"/>
<path class="B0" d="M-202.2,-197.7Q0,0,84.9,-269.8"/>
<path class="B43" d="M-259,-113.5Q0,0,-112,259.7"/>
<path class="B32" d="M-247.4,137Q0,0,-105.2,-262.5"/>
<path class="B40" d="M-277.9,-52.2Q0,0,146.6,-241.9"/>
<path class="b25" d="M-69.2,274.2L-70.5,273.9Q0,0,124,254.2L122.7,254.8Q0,0,-69.2,274.2Z"/>
<path class="B15" d="M244.7,141.8Q0,0,157.4,235"/>
<path class="B14" d="M262,106.4Q0,0,280.6,-35.1"/>
<path class="B4" d="M166.7,-228.4Q0,0,-278.6,-48.6"/>
<path class="B31" d="M-234.4,158.2Q0,0,81.5,-270.8"/>
<path class="B20" d="M153.9,237.3Q0,0,73.3,-273.1"/>
<path class="B17" d="M212.1,187.1Q0,0,194,-205.8"/>
<path class="B46" d="M-221.2,-176.2Q0,0,268.2,-89.6"/>
<path class="B46" d="M-220.7,-176.8Q0,0,246.4,138.8"/>
<path class="B22" d="M73,273.2Q0,0,237.9,-152.8"/>
<path class="B6" d="M250.3,-131.6Q0,0,175.9,221.4"/>
<path class="B17" d="M208.3,191.2Q0,0,-282.7,8.6"/>
<path class="B7" d="M272,-77.5Q0,0,-185.6,-213.3"/>
<path class="B16" d="M230,164.5Q0,0,-191.9,207.8"/>
<path class="B20" d="M150.3,239.5Q0,0,-278.4,-49.9"/>
<path class="B23" d="M25.2,281.7Q0,0,-282.2,-17.9"/>
<path class="B29" d="M-200.5,199.5Q0,0,-218.4,179.7"/>
<path class="B49" d="M-103,-263.4Q0,0,-113.4,259.1"/>
<path class="B13" d="M277,57.2Q0,0,269.2,86.7"/>
<path class="B10" d="M282.6,-11.2Q0,0,135.2,-248.4"/>
<path class="B37" d="M-281.3,29.2Q0,0,-239.9,-149.7"/>
<path class="B14" d="M261.6,107.5Q0,0,192.6,207.1"/>
<path class="B5" d="M213.4,-185.6Q0,0,-170.3,225.8"/>
<path class="B23" d="M25.1,281.7Q0,0,-278.3,-50.1"/>
<path class="B10" d="M282.6,-10.9Q0,0,235.7,-156.2"/>
<path class="B26" d="M-131,250.6Q0,0,-224.8,-171.6"/>
<path class="b25" d="M-70.8,273.8L-71.5,273.6Q0,0,-3.7,282.8L-4.5,282.8Q0,0,-70.8,273.8Z"/>
<path class="B30" d="M-221.4,176Q0,0,-105.2,-262.5"/>
<path class="B30" d="M-220.4,177.2Q0,0,231.7,162.2"/>
<path class="B17" d="M207.5,192.2Q0,0,-56,-277.2"/>
<path class="B48" d="M-125.1,-253.6Q0,0,-104.9,-262.6"/>
<path class="B36" d="M-278.4,49.9Q0,0,-45.8,-279.1"/>
<path class="B34" d="M-267,93.2Q0,0,-257.3,117.3"/>
<path class="B37" d="M-281.2,30Q0,0,146,-242.2"/>
<path class="B45" d="M-239.5,-150.4Q0,0,119.8,256.2"/>
<path class="B5" d="M211.8,-187.4Q0,0,2.3,282.8"/>
<path class="B35" d="M-273.3,72.8Q0,0,213.8,185.1"/>
<path class="B8" d="M277.4,-55Q0,0,-58.6,-276.7"/>
<path class="B6" d="M253.6,-125.2Q0,0,-273,-73.9"/>
<path class="B13" d="M276.9,57.5Q0,0,-103.3,263.3"/>
<path class="b6" d="M252.1,-128.2L252.5,-127.4Q0,0,-100.8,264.2L-101.7,263.9Q0,0,252.1,-128.2Z"/>
<path class="B22" d="M72.8,273.3Q0,0,280.8,33.6"/>
<path class="B23" d="M26.2,281.6Q0,0,238,-152.7"/>
<path class="B13" d="M276.9,57.6Q0,0,-226.4,-169.5"/>
<path class="B4" d="M156.1,-235.8Q0,0,280.9,32.4"/>
<path class="B34" d="M-266.6,94.3Q0,0,145.7,-242.4"/>
<path class="B39" d="M-281.6,-26.1Q0,0,-246.2,139.1"/>
<path class="B3" d="M92.8,-267.1Q0,0,282.5,-11.9"/>
<path class="B16" d="M229.8,164.8Q0,0,-163.9,-230.4"/>
<path class="B4" d="M158.1,-234.5Q0,0,192.9,206.8"/>
<path class="B5" d="M214.4,-184.5Q0,0,-234.1,158.7"/>
<path class="B6" d="M253.8,-124.7Q0,0,-226.8,-168.9"/>
<path class="B4" d="M155.9,-235.9Q0,0,282.6,-11.8"/>
<path class="B12" d="M280.4,36.7Q0,0,-191.6,208"/>
<path class="B7" d="M271.9,-77.6Q0,0,-240.2,-149.3"/>
<path class="B29" d="M-201.1,198.8Q0,0,-250.2,-131.8"/>
<path class="B15" d="M244.8,141.7Q0,0,216.5,182"/>
<path class="B44" d="M-250,-132.1Q0,0,241.6,-147"/>
<path class="B37" d="M-281.3,29.2Q0,0,-194.1,205.7"/>
<path class="B7" d="M271.3,-79.8Q0,0,-150.6,239.4"/>
<path class="B16" d="M230.1,164.5Q0,0,-151.2,239"/>
<path class="B51" d="M-25.4,-281.7Q0,0,-113.7,258.9"/>
<path class="B4" d="M169,-226.8Q0,0,-106.9,-261.8"/>
<path class="B31" d="M-234.5,158.1Q0,0,240.8,-148.4"/>
<path class="B33" d="M-258.4,114.9Q0,0,27.1,281.5"/>
<path class="B3" d="M86.8,-269.2Q0,0,0.1,-282.8"/>
<path class="B26" d="M-123.7,254.3Q0,0,231.8,161.9"/>
<path class="B0" d="M2.5,-282.8Q0,0,-282.4,-14.2"/>
<path class="B22" d="M70.7,273.8Q0,0,-185.5,-213.5"/>
<path class="B48" d="M-126.1,-253.1Q0,0,117.9,257"/>
<path class="B25" d="M-72.7,273.3Q0,0,-266.3,95.1"/>
<path class="B30" d="M-219.6,178.2Q0,0,198.3,-201.6"/>
<path class="B19" d="M175.2,222Q0,0,125.9,253.2"/>
<path class="b21" d="M110.8,260.2L109.6,260.7Q0,0,216.3,182.1L215.5,183.2Q0,0,110.8,260.2Z"/>
<path class="b26" d="M-119.8,256.2L-120.6,255.8Q0,0,239.7,-150.1L240.2,-149.3Q0,0,-119.8,256.2Z"/>
<path class="B0" d="M-200.7,-199.3Q0,0,-282.1,-19.7"/>
<path class="B26" d="M-126.4,253Q0,0,49.4,278.4"/>
<path class="B27" d="M-153.5,237.5Q0,0,214.1,184.7"/>
<path class="B3" d="M-152.5,-238.2Q0,0,192.1,207.5"/>
<path class="B2" d="M42.7,-279.6Q0,0,61.8,-276"/>
<path class="B38" d="M-282.7,5.4Q0,0,-278.2,-50.9"/>
<path class="B18" d="M191.2,208.4Q0,0,-282.7,8.5"/>
<path class="B2" d="M43,-279.5Q0,0,-40.5,279.9"/>
<path class="b3" d="M-155.6,-236.2L-154.4,-236.9Q0,0,242,-146.3L242.7,-145.1Q0,0,-155.6,-236.2Z"/>
<path class="B41" d="M-272.8,-74.5Q0,0,213.6,185.3"/>
<path class="B4" d="M166.8,-228.4Q0,0,-273,-73.8"/>
<path class="B23" d="M25.7,281.6Q0,0,76.3,272.3"/>
<path class="B9" d="M280.9,-32.7Q0,0,216.8,181.5"/>
<path class="B21" d="M109.2,260.9Q0,0,49.6,278.4"/>
<path class="B25" d="M-66.2,274.9Q0,0,282.6,9.4"/>
<path class="B21" d="M103,263.4Q0,0,-203.3,-196.6"/>
<path class="B20" d="M150.4,239.5Q0,0,-282.7,8.5"/>
<path class="B15" d="M243.9,143.1Q0,0,-278.4,-49.7"/>
<path class="b26" d="M-122.2,255L-123.4,254.5Q0,0,268.3,89.5L267.8,90.8Q0,0,-122.2,255Z"/>
<path class="B26" d="M-130.6,250.9Q0,0,-259.3,-112.9"/>
<path class="B37" d="M-281.2,29.7Q0,0,267.9,-90.7"/>
<path class="B49" d="M-102.3,-263.6Q0,0,-159.1,-233.8"/>
<path class="B34" d="M-267,93.1Q0,0,-278,52.1"/>
<path class="B38" d="M-282.7,6Q0,0,75.5,272.5"/>
<path class="b25" d="M-67.5,274.6L-69.2,274.2Q0,0,156.9,235.3L155.5,236.2Q0,0,-67.5,274.6Z"/>
<path class="B26" d="M-130.4,250.9Q0,0,-267,-93.3"/>
<path class="B23" d="M48.1,278.7Q0,0,-277.9,52.6"/>
<path class="b5" d="M213.4,-185.5L214,-184.8Q0,0,-190.2,209.3L-190.9,208.7Q0,0,213.4,-185.5Z"/>
<path class="B3" d="M107.2,-261.7Q0,0,-282.6,9.8"/>
<path class="b5" d="M216.4,-182L217.1,-181.2Q0,0,-167.6,-227.8L-166.7,-228.4Q0,0,216.4,-182Z"/>
<path class="B29" d="M-201.7,198.2Q0,0,-83.6,-270.2"/>
<path class="B29" d="M-199.5,200.4Q0,0,27.1,281.5"/>
<path class="B22" d="M71.8,273.5Q0,0,-3.6,282.8"/>
<path class="B30" d="M-219.8,177.9Q0,0,240.7,-148.5"/>
<path class="b4" d="M164.8,-229.9L165.4,-229.4Q0,0,-189.6,209.8L-190.2,209.3Q0,0,164.8,-229.9Z"/>
<path class="B3" d="M106.1,-262.2Q0,0,-234,158.7"/>
<path class="B25" d="M-66.2,275Q0,0,282.6,-11.4"/>
<path class="B17" d="M208.4,191.2Q0,0,-281.1,30.9"/>
<path class="B23" d="M25.1,281.7Q0,0,-225.5,-170.6"/>
<path class="B29" d="M-198.4,201.5Q0,0,267.6,91.5"/>
<path class="B40" d="M-277.5,-54.7Q0,0,-223.7,-173"/>
<path class="b14" d="M265.6,97.2L264.1,101.2Q0,0,68.3,-274.4L72.4,-273.4Q0,0,265.6,97.2Z"/>
<path class="B17" d="M208.2,191.4Q0,0,-273,-73.9"/>
<path class="B23" d="M48.2,278.7Q0,0,-52.2,277.9"/>
<path class="B24" d="M-20.1,282.1Q0,0,-240,-149.5"/>
<path class="B32" d="M-246.9,137.9Q0,0,155.1,236.5"/>
<path class="B4" d="M168.1,-227.4Q0,0,-185.8,-213.2"/>
<path class="B26" d="M-128.9,251.7Q0,0,-234.3,158.3"/>
<path class="B22" d="M74.6,272.8Q0,0,74.4,-272.8"/>
<path class="B14" d="M258.4,115Q0,0,-128.9,-251.7"/>
<path class="b26" d="M-114.2,258.7L-117.3,257.3Q0,0,76.8,-272.2L80,-271.2Q0,0,-114.2,258.7Z"/>
<path class="B16" d="M230.4,164Q0,0,-1.3,282.8"/>
<path class="B3" d="M-150.6,-239.4Q0,0,-7.3,282.7"/>
<path class="B51" d="M-35.1,-280.6Q0,0,282.6,10"/>
<path class="b3" d="M-154,-237.2L-153.2,-237.7Q0,0,266.6,94.3L266.3,95.2Q0,0,-154,-237.2Z"/>
<path class="B22" d="M71.6,273.6Q0,0,-52.1,278"/>
<path class="B18" d="M191.3,208.3Q0,0,-106.3,262.1"/>
<path class="B7" d="M272.1,-76.9Q0,0,-106.4,-262"/>
<path class="B0" d="M-200.9,-199Q0,0,-257.5,117"/>
<path class="B5" d="M214.8,-183.9Q0,0,-277.8,53"/>
<path class="b17" d="M211,188.3L210.1,189.3Q0,0,127.2,252.6L126,253.2Q0,0,211,188.3Z"/>
<path class="B37" d="M-281.3,29.1Q0,0,-202.7,-197.2"/>
<path class="B16" d="M231,163.1Q0,0,193.6,-206.1"/>
<path class="B35" d="M-273.4,72.4Q0,0,-278.2,-50.9"/>
<path class="B18" d="M191.4,208.2Q0,0,76.6,272.2"/>
<path class="B35" d="M-273.3,72.6Q0,0,75.5,272.5"/>
<path class="B32" d="M-247.4,137Q0,0,-46.7,-278.9"/>
<path class="B7" d="M271.7,-78.4Q0,0,-282.4,-15.8"/>
<path class="B46" d="M-221.3,-176Q0,0,241.8,-146.7"/>
<path class="B48" d="M-125.3,-253.5Q0,0,-239.9,-149.8"/>
<path class="B49" d="M-102.1,-263.7Q0,0,-41.7,-279.7"/>
<path class="B33" d="M-258.3,115.1Q0,0,120.9,255.6"/>
<path class="B23" d="M48.3,278.6Q0,0,125.6,253.4"/>
<path class="B9" d="M280.9,-33.1Q0,0,235.7,-156.3"/>
<path class="B3" d="M-149.1,-240.3Q0,0,-257.5,116.9"/>
<path class="B10" d="M282.6,-11.1Q0,0,191.1,-208.5"/>
<path class="B34" d="M-266.9,93.5Q0,0,-54.4,277.5"/>
<path class="B41" d="M-272.9,-74.3Q0,0,83.5,-270.2"/>
<path class="b6" d="M246,-139.4L248.1,-135.7Q0,0,187.1,-212.1L190.2,-209.3Q0,0,246,-139.4Z"/>
<path class="B14" d="M259.7,111.9Q0,0,-245.8,139.8"/>
<path class="B20" d="M153,237.8Q0,0,268.8,87.9"/>
<path class="B40" d="M-278.1,-51.5Q0,0,1.1,-282.8"/>
<path class="B19" d="M175.3,222Q0,0,237.7,-153.2"/>
<path class="B20" d="M150.1,239.7Q0,0,-163.6,-230.6"/>
<path class="B34" d="M-266.6,94.2Q0,0,199,-201"/>
<path class="B10" d="M282.6,-11.2Q0,0,67.9,-274.5"/>
<path class="B45" d="M-239.5,-150.3Q0,0,154.9,236.6"/>
<path class="B48" d="M-126.2,-253.1Q0,0,154.6,236.8"/>
<path class="B17" d="M208.8,190.8Q0,0,-151.2,239"/>
<path class="B6" d="M249,-134.2Q0,0,277.1,56.5"/>
<path class="B22" d="M72.2,273.4Q0,0,192.5,207.2"/>
<path class="B5" d="M203,-196.9Q0,0,64.8,-275.3"/>
<path class="B23" d="M25.3,281.7Q0,0,-245.9,139.7"/>
<path class="B22" d="M71.1,273.7Q0,0,-282.7,8.5"/>
<path class="B15" d="M244.7,141.7Q0,0,192.6,207.1"/>
<path class="B3" d="M105.8,-262.3Q0,0,-216.6,181.9"/>
<path class="B48" d="M-127.3,-252.5Q0,0,148.8,-240.5"/>
<path class="B25" d="M-59,276.6Q0,0,21.9,-282"/>
<path class="b3" d="M-150.5,-239.4L-150,-239.7Q0,0,-56.1,277.2L-56.7,277.1Q0,0,-150.5,-239.4Z"/>
<path class="B38" d="M-282.7,5.5Q0,0,-281.1,30.5"/>
<path class="B5" d="M209.6,-189.9Q0,0,247.8,136.3"/>
<path class="b21" d="M101,264.1L98.1,265.2Q0,0,-54.6,-277.5L-51.6,-278.1Q0,0,101,264.1Z"/>
<path class="B23" d="M48.2,278.7Q0,0,-218.2,179.9"/>
<path class="B49" d="M-102.9,-263.4Q0,0,-152,238.5"/>
<path class="B11" d="M282.6,10.3Q0,0,135.2,-248.4"/>
<path class="B46" d="M-220.1,-177.6Q0,0,75.1,272.6"/>
<path class="B17" d="M207.6,192Q0,0,-105.9,-262.2"/>
<path class="B50" d="M-83.3,-270.2Q0,0,86.1,-269.4"/>
<path class="B5" d="M214.9,-183.8Q0,0,-281.1,31.2"/>
<path class="B34" d="M-267.1,92.9Q0,0,-160.5,-232.9"/>
<path class="B21" d="M101.1,264.1Q0,0,-105.9,-262.2"/>
<path class="B51" d="M-21,-282Q0,0,-272.9,-74.1"/>
<path class="B29" d="M-200.8,199.2Q0,0,-282.7,8.1"/>
<path class="B34" d="M-266.7,94Q0,0,246.6,138.4"/>
<path class="B12" d="M280.7,34.8Q0,0,68.2,-274.5"/>
<path class="B36" d="M-278.2,50.8Q0,0,-6.3,282.7"/>
<path class="B3" d="M98.1,-265.2Q0,0,158.4,234.3"/>
<path class="B6" d="M254.8,-122.8Q0,0,-106.6,-261.9"/>
<path class="B47" d="M-185.1,-213.8Q0,0,242,-146.4"/>
<path class="B32" d="M-246.9,138Q0,0,267.7,-91.1"/>
<path class="B29" d="M-200.5,199.4Q0,0,-246.2,139.2"/>
<path class="B1" d="M22.4,-281.9Q0,0,272.1,77"/>
<path class="B20" d="M150.2,239.6Q0,0,-203.3,-196.5"/>
<path class="B51" d="M-22.8,-281.9Q0,0,-266.5,94.5"/>
<path class="B9" d="M281,-31.9Q0,0,-226.6,-169.2"/>
<path class="B51" d="M-23.5,-281.8Q0,0,-246.4,138.9"/>
<path class="B6" d="M244.1,-142.8Q0,0,0.4,-282.8"/>
<path class="B49" d="M-102.8,-263.4Q0,0,-170.6,225.6"/>
<path class="B48" d="M-125.2,-253.6Q0,0,-223.4,-173.4"/>
<path class="B12" d="M280.6,35Q0,0,135.4,-248.3"/>
<path class="B14" d="M261.2,108.5Q0,0,27.8,281.4"/>
<path class="B11" d="M282.6,11.7Q0,0,-106.2,-262.1"/>
<path class="B15" d="M244.1,142.8Q0,0,-245.8,139.8"/>
<path class="B13" d="M276.9,57.4Q0,0,-48,278.7"/>
<path class="B42" d="M-266.8,-93.9Q0,0,266.9,93.5"/>
<path class="B25" d="M-72.9,273.3Q0,0,-277.9,52.3"/>
<path class="B51" d="M-20.4,-282.1Q0,0,-223.2,-173.7"/>
</g>
<path fill="#E8212B" d="M0,-400.5A400.5,400.5 0 0 1 3.8,-400.5L3.5,-368.7A368.7,368.7 0 0 0 0,-368.7Z"/>
<path fill="#fff" stroke="#E8212B" stroke-width="0.45" stroke-dasharray="1.2,1.2" d="M0,-367A367,367 0 0 1 1.8,-367L1.7,-352.3A352.3,352.3 0 0 0 0,-352.3Z"/>
<path fill="#E8212B" d="M1.8,-367A367,367 0 0 1 3.5,-367L3.4,-352A352,352 0 0 0 1.7,-352Z"/>
<path fill="#8DC63F" d="M30.2,-399.4A400.5,400.5 0 0 1 32.1,-399.2L29.6,-367.5A368.7,368.7 0 0 0 27.8,-367.6Z"/>
<path fill="#fff" stroke="#8DC63F" stroke-width="0.45" stroke-dasharray="1.2,1.2" d="M27.7,-366A367,367 0 0 1 28.6,-365.9L27.4,-351.2A352.3,352.3 0 0 0 26.6,-351.3Z"/>
<path fill="#8DC63F" d="M28.6,-365.9A367,367 0 0 1 29.4,-365.8L28.2,-350.9A352,352 0 0 0 27.4,-350.9Z"/>
<path fill="#E07B28" d="M59.4,-396.1A400.5,400.5 0 0 1 61.3,-395.8L56.4,-364.4A368.7,368.7 0 0 0 54.7,-364.6Z"/>
<path fill="#fff" stroke="#E07B28" stroke-width="0.45" stroke-dasharray="1.2,1.2" d="M54.4,-362.9A367,367 0 0 1 55.3,-362.8L53.1,-348.3A352.3,352.3 0 0 0 52.3,-348.4Z"/>
<path fill="#E07B28" d="M55.3,-362.8A367,367 0 0 1 56.1,-362.7L53.9,-347.9A352,352 0 0 0 53,-348Z"/>
<path fill="#87431F" d="M87.2,-390.9A400.5,400.5 0 0 1 157.4,-368.3L144.9,-339A368.7,368.7 0 0 0 80.3,-359.8Z"/>
<path fill="#fff" stroke="#87431F" stroke-width="0.45" stroke-dasharray="1.2,1.2" d="M79.9,-358.2A367,367 0 0 1 112.6,-349.3L108,-335.3A352.3,352.3 0 0 0 76.7,-343.8Z"/>
<path fill="#87431F" d="M112.6,-349.3A367,367 0 0 1 144.2,-337.5L138.3,-323.7A352,352 0 0 0 108,-335Z"/>
<path fill="#D35F47" d="M182.3,-356.6A400.5,400.5 0 0 1 240.3,-320.4L221.2,-295A368.7,368.7 0 0 0 167.8,-328.3Z"/>
<path fill="#fff" stroke="#D35F47" stroke-width="0.45" stroke-dasharray="1.2,1.2" d="M167,-326.8A367,367 0 0 1 194.3,-311.3L186.5,-298.9A352.3,352.3 0 0 0 160.3,-313.7Z"/>
<path fill="#D35F47" d="M194.3,-311.3A367,367 0 0 1 220.2,-293.6L211.2,-281.6A352,352 0 0 0 186.4,-298.6Z"/>
<path fill="#5FC7D7" d="M263.3,-301.8A400.5,400.5 0 0 1 309.1,-254.7L284.5,-234.5A368.7,368.7 0 0 0 242.4,-277.8Z"/>
<path fill="#fff" stroke="#5FC7D7" stroke-width="0.45" stroke-dasharray="1.2,1.2" d="M241.3,-276.5A367,367 0 0 1 263.2,-255.8L252.6,-245.6A352.3,352.3 0 0 0 231.6,-265.4Z"/>
<path fill="#5FC7D7" d="M263.2,-255.8A367,367 0 0 1 283.2,-233.4L271.7,-223.9A352,352 0 0 0 252.4,-245.4Z"/>
<path fill="#0E918D" d="M326.4,-232.1A400.5,400.5 0 0 1 362.3,-170.8L333.5,-157.2A368.7,368.7 0 0 0 300.5,-213.6Z"/>
<path fill="#fff" stroke="#0E918D" stroke-width="0.45" stroke-dasharray="1.2,1.2" d="M299.1,-212.6A367,367 0 0 1 316.8,-185.3L304.1,-177.9A352.3,352.3 0 0 0 287.1,-204.1Z"/>
<path fill="#0E918D" d="M316.8,-185.3A367,367 0 0 1 332,-156.5L318.4,-150.1A352,352 0 0 0 303.8,-177.7Z"/>
<path fill="#D19C2D" d="M374.5,-141.9A400.5,400.5 0 0 1 385.7,-108L355,-99.5A368.7,368.7 0 0 0 344.8,-130.6Z"/>
<path fill="#fff" stroke="#D19C2D" stroke-width="0.45" stroke-dasharray="1.2,1.2" d="M343.2,-130A367,367 0 0 1 348.6,-114.6L334.7,-110A352.3,352.3 0 0 0 329.4,-124.8Z"/>
<path fill="#D19C2D" d="M348.6,-114.6A367,367 0 0 1 353.4,-99L339,-95A352,352 0 0 0 334.4,-109.9Z"/>
<path fill="#4E7A2E" d="M392.5,-79.5A400.5,400.5 0 0 1 392.9,-77.8L361.7,-71.6A368.7,368.7 0 0 0 361.4,-73.2Z"/>
<path fill="#fff" stroke="#4E7A2E" stroke-width="0.45" stroke-dasharray="1.2,1.2" d="M359.7,-72.9A367,367 0 0 1 359.9,-72.1L345.4,-69.2A352.3,352.3 0 0 0 345.3,-69.9Z"/>
<path fill="#4E7A2E" d="M359.9,-72.1A367,367 0 0 1 360,-71.3L345.3,-68.4A352,352 0 0 0 345.1,-69.1Z"/>
<path fill="#F58220" d="M397.2,-51A400.5,400.5 0 0 1 398,-44.5L366.4,-41A368.7,368.7 0 0 0 365.7,-46.9Z"/>
<path fill="#fff" stroke="#F58220" stroke-width="0.45" stroke-dasharray="1.2,1.2" d="M364,-46.7A367,367 0 0 1 364.4,-43.7L349.8,-42A352.3,352.3 0 0 0 349.4,-44.8Z"/>
<path fill="#F58220" d="M364.4,-43.7A367,367 0 0 1 364.7,-40.8L349.8,-39.1A352,352 0 0 0 349.5,-42Z"/>
<path fill="#7B3FA0" d="M400.1,-16.9A400.5,400.5 0 0 1 400.2,-15L368.4,-13.8A368.7,368.7 0 0 0 368.4,-15.6Z"/>
<path fill="#fff" stroke="#7B3FA0" stroke-width="0.45" stroke-dasharray="1.2,1.2" d="M366.7,-15.5A367,367 0 0 1 366.7,-14.6L352,-14A352.3,352.3 0 0 0 352,-14.9Z"/>
<path fill="#7B3FA0" d="M366.7,-14.6A367,367 0 0 1 366.7,-13.8L351.8,-13.2A352,352 0 0 0 351.7,-14Z"/>
<path fill="#6A2C91" d="M400.3,11.7A400.5,400.5 0 0 1 400.1,16.8L368.4,15.5A368.7,368.7 0 0 0 368.5,10.7Z"/>
<path fill="#fff" stroke="#6A2C91" stroke-width="0.45" stroke-dasharray="1.2,1.2" d="M366.8,10.7A367,367 0 0 1 366.8,13.1L352.1,12.5A352.3,352.3 0 0 0 352.2,10.3Z"/>
<path fill="#6A2C91" d="M366.8,13.1A367,367 0 0 1 366.7,15.4L351.7,14.8A352,352 0 0 0 351.8,12.5Z"/>
<path fill="#2F5451" d="M397.9,45.4A400.5,400.5 0 0 1 397,52.7L365.5,48.5A368.7,368.7 0 0 0 366.3,41.8Z"/>
<path fill="#fff" stroke="#2F5451" stroke-width="0.45" stroke-dasharray="1.2,1.2" d="M364.6,41.6A367,367 0 0 1 364.2,44.9L349.6,43.1A352.3,352.3 0 0 0 350,39.9Z"/>
<path fill="#2F5451" d="M364.2,44.9A367,367 0 0 1 363.8,48.3L348.9,46.3A352,352 0 0 0 349.3,43.1Z"/>
<path fill="#E0189A" d="M392.5,79.8A400.5,400.5 0 0 1 392.1,81.6L361,75.1A368.7,368.7 0 0 0 361.3,73.5Z"/>
<path fill="#fff" stroke="#E0189A" stroke-width="0.45" stroke-dasharray="1.2,1.2" d="M359.6,73.2A367,367 0 0 1 359.5,74L345.1,71A352.3,352.3 0 0 0 345.2,70.2Z"/>
<path fill="#E0189A" d="M359.5,74A367,367 0 0 1 359.3,74.7L344.6,71.7A352,352 0 0 0 344.8,70.9Z"/>
<path fill="#3DB8EE" d="M385.4,108.8A400.5,400.5 0 0 1 364.9,165L336,151.9A368.7,368.7 0 0 0 354.8,100.1Z"/>
<path fill="#fff" stroke="#3DB8EE" stroke-width="0.45" stroke-dasharray="1.2,1.2" d="M353.2,99.7A367,367 0 0 1 344.8,125.8L331,120.8A352.3,352.3 0 0 0 339.1,95.7Z"/>
<path fill="#3DB8EE" d="M344.8,125.8A367,367 0 0 1 334.4,151.2L320.7,145A352,352 0 0 0 330.7,120.7Z"/>
<path fill="#166B8E" d="M351.8,191.5A400.5,400.5 0 0 1 344.6,204.1L317.3,187.8A368.7,368.7 0 0 0 323.8,176.3Z"/>
<path fill="#fff" stroke="#166B8E" stroke-width="0.45" stroke-dasharray="1.2,1.2" d="M322.3,175.5A367,367 0 0 1 319.1,181.2L306.3,174A352.3,352.3 0 0 0 309.4,168.4Z"/>
<path fill="#166B8E" d="M319.1,181.2A367,367 0 0 1 315.8,187L302.9,179.3A352,352 0 0 0 306.1,173.8Z"/>
<path fill="#4A88D6" d="M329.9,227.1A400.5,400.5 0 0 1 325.2,233.8L299.3,215.3A368.7,368.7 0 0 0 303.7,209Z"/>
<path fill="#fff" stroke="#4A88D6" stroke-width="0.45" stroke-dasharray="1.2,1.2" d="M302.3,208.1A367,367 0 0 1 300.2,211.2L288.1,202.7A352.3,352.3 0 0 0 290.2,199.7Z"/>
<path fill="#4A88D6" d="M300.2,211.2A367,367 0 0 1 298,214.3L285.8,205.5A352,352 0 0 0 287.9,202.6Z"/>
<path fill="#B22025" d="M308.8,255.1A400.5,400.5 0 0 1 293.6,272.4L270.3,250.7A368.7,368.7 0 0 0 284.3,234.8Z"/>
<path fill="#fff" stroke="#B22025" stroke-width="0.45" stroke-dasharray="1.2,1.2" d="M282.9,233.7A367,367 0 0 1 276.1,241.8L265.1,232.1A352.3,352.3 0 0 0 271.6,224.4Z"/>
<path fill="#B22025" d="M276.1,241.8A367,367 0 0 1 269.1,249.6L258.1,239.4A352,352 0 0 0 264.8,231.9Z"/>
<path fill="#8B1A1C" d="M273.3,292.7A400.5,400.5 0 0 1 270.3,295.5L248.9,272.1A368.7,368.7 0 0 0 251.6,269.5Z"/>
<path fill="#fff" stroke="#8B1A1C" stroke-width="0.45" stroke-dasharray="1.2,1.2" d="M250.5,268.2A367,367 0 0 1 249.1,269.5L239.1,258.7A352.3,352.3 0 0 0 240.4,257.5Z"/>
<path fill="#8B1A1C" d="M249.1,269.5A367,367 0 0 1 247.7,270.8L237.6,259.7A352,352 0 0 0 238.9,258.5Z"/>
<path fill="#E8C81E" d="M249.3,313.4A400.5,400.5 0 0 1 247.4,315L227.8,289.9A368.7,368.7 0 0 0 229.5,288.5Z"/>
<path fill="#fff" stroke="#E8C81E" stroke-width="0.45" stroke-dasharray="1.2,1.2" d="M228.5,287.2A367,367 0 0 1 227.6,287.9L218.5,276.4A352.3,352.3 0 0 0 219.3,275.7Z"/>
<path fill="#E8C81E" d="M227.6,287.9A367,367 0 0 1 226.7,288.6L217.4,276.8A352,352 0 0 0 218.3,276.1Z"/>
<path fill="#FCC01F" d="M224.5,331.7A400.5,400.5 0 0 1 211.6,340.1L194.8,313A368.7,368.7 0 0 0 206.7,305.3Z"/>
<path fill="#fff" stroke="#FCC01F" stroke-width="0.45" stroke-dasharray="1.2,1.2" d="M205.7,303.9A367,367 0 0 1 199.8,307.8L191.8,295.5A352.3,352.3 0 0 0 197.5,291.8Z"/>
<path fill="#FCC01F" d="M199.8,307.8A367,367 0 0 1 193.9,311.6L186,298.9A352,352 0 0 0 191.7,295.2Z"/>
<path fill="#6CC04A" d="M185.7,354.8A400.5,400.5 0 0 1 138.9,375.6L127.9,345.8A368.7,368.7 0 0 0 171,326.7Z"/>
<path fill="#fff" stroke="#6CC04A" stroke-width="0.45" stroke-dasharray="1.2,1.2" d="M170.2,325.1A367,367 0 0 1 149.1,335.4L143.1,321.9A352.3,352.3 0 0 0 163.4,312.1Z"/>
<path fill="#6CC04A" d="M149.1,335.4A367,367 0 0 1 127.3,344.2L122.1,330.1A352,352 0 0 0 143,321.7Z"/>
<path fill="#1A9645" d="M111.9,384.5A400.5,400.5 0 0 1 99.5,388L91.6,357.1A368.7,368.7 0 0 0 103,354Z"/>
<path fill="#fff" stroke="#1A9645" stroke-width="0.45" stroke-dasharray="1.2,1.2" d="M102.6,352.4A367,367 0 0 1 96.9,354L93,339.8A352.3,352.3 0 0 0 98.5,338.3Z"/>
<path fill="#1A9645" d="M96.9,354A367,367 0 0 1 91.1,355.5L87.4,341A352,352 0 0 0 92.9,339.5Z"/>
<path fill="#0A0A0A" d="M71.3,394.1A400.5,400.5 0 0 1 67.8,394.7L62.4,363.4A368.7,368.7 0 0 0 65.7,362.8Z"/>
<path fill="#fff" stroke="#0A0A0A" stroke-width="0.45" stroke-dasharray="1.2,1.2" d="M65.4,361.1A367,367 0 0 1 63.7,361.4L61.2,346.9A352.3,352.3 0 0 0 62.8,346.7Z"/>
<path fill="#0A0A0A" d="M63.7,361.4A367,367 0 0 1 62.1,361.7L59.6,346.9A352,352 0 0 0 61.1,346.7Z"/>
<path fill="#0A0A0A" d="M40.1,398.5A400.5,400.5 0 0 1 35.1,399L32.3,367.3A368.7,368.7 0 0 0 36.9,366.8Z"/>
<path fill="#fff" stroke="#0A0A0A" stroke-width="0.45" stroke-dasharray="1.2,1.2" d="M36.8,365.2A367,367 0 0 1 34.5,365.4L33.1,350.7A352.3,352.3 0 0 0 35.3,350.5Z"/>
<path fill="#0A0A0A" d="M34.5,365.4A367,367 0 0 1 32.2,365.6L30.9,350.6A352,352 0 0 0 33.1,350.4Z"/>
<path fill="#1C1C1C" d="M7.5,400.4A400.5,400.5 0 0 1 -30.3,399.4L-27.9,367.6A368.7,368.7 0 0 0 6.9,368.6Z"/>
<path fill="#fff" stroke="#1C1C1C" stroke-width="0.45" stroke-dasharray="1.2,1.2" d="M6.9,366.9A367,367 0 0 1 -10.5,366.9L-10.1,352.2A352.3,352.3 0 0 0 6.6,352.2Z"/>
<path fill="#1C1C1C" d="M-10.5,366.9A367,367 0 0 1 -27.8,365.9L-26.6,351A352,352 0 0 0 -10,351.9Z"/>
<path fill="#232323" d="M-57.1,396.4A400.5,400.5 0 0 1 -109.3,385.3L-100.6,354.7A368.7,368.7 0 0 0 -52.5,364.9Z"/>
<path fill="#fff" stroke="#232323" stroke-width="0.45" stroke-dasharray="1.2,1.2" d="M-52.3,363.3A367,367 0 0 1 -76.4,359L-73.3,344.6A352.3,352.3 0 0 0 -50.2,348.7Z"/>
<path fill="#232323" d="M-76.4,359A367,367 0 0 1 -100.1,353.1L-96,338.7A352,352 0 0 0 -73.2,344.3Z"/>
<path fill="#2E2E2E" d="M-134.3,377.3A400.5,400.5 0 0 1 -187.7,353.8L-172.8,325.7A368.7,368.7 0 0 0 -123.6,347.4Z"/>
<path fill="#fff" stroke="#2E2E2E" stroke-width="0.45" stroke-dasharray="1.2,1.2" d="M-123.1,345.8A367,367 0 0 1 -147.9,335.9L-142,322.4A352.3,352.3 0 0 0 -118.1,331.9Z"/>
<path fill="#2E2E2E" d="M-147.9,335.9A367,367 0 0 1 -172,324.2L-164.9,311A352,352 0 0 0 -141.9,322.2Z"/>
<path fill="#3A3A3A" d="M-212.2,339.6A400.5,400.5 0 0 1 -218.7,335.5L-201.3,308.9A368.7,368.7 0 0 0 -195.4,312.7Z"/>
<path fill="#fff" stroke="#3A3A3A" stroke-width="0.45" stroke-dasharray="1.2,1.2" d="M-194.5,311.2A367,367 0 0 1 -197.5,309.4L-189.5,297A352.3,352.3 0 0 0 -186.7,298.8Z"/>
<path fill="#3A3A3A" d="M-197.5,309.4A367,367 0 0 1 -200.4,307.4L-192.2,294.9A352,352 0 0 0 -189.4,296.7Z"/>
<path fill="#333333" d="M-240.9,319.9A400.5,400.5 0 0 1 -242.3,318.9L-223.1,293.6A368.7,368.7 0 0 0 -221.8,294.5Z"/>
<path fill="#fff" stroke="#333333" stroke-width="0.45" stroke-dasharray="1.2,1.2" d="M-220.8,293.2A367,367 0 0 1 -221.4,292.7L-212.5,281A352.3,352.3 0 0 0 -211.9,281.4Z"/>
<path fill="#333333" d="M-221.4,292.7A367,367 0 0 1 -222,292.2L-213,280.3A352,352 0 0 0 -212.4,280.7Z"/>
<path fill="#505050" d="M-267.6,298A400.5,400.5 0 0 1 -286.7,279.7L-263.9,257.5A368.7,368.7 0 0 0 -246.4,274.3Z"/>
<path fill="#fff" stroke="#505050" stroke-width="0.45" stroke-dasharray="1.2,1.2" d="M-245.2,273A367,367 0 0 1 -254.1,264.8L-243.9,254.2A352.3,352.3 0 0 0 -235.4,262.1Z"/>
<path fill="#505050" d="M-254.1,264.8A367,367 0 0 1 -262.7,256.3L-252,245.8A352,352 0 0 0 -243.7,254Z"/>
<path fill="#5A5A5A" d="M-306.5,257.8A400.5,400.5 0 0 1 -313.8,248.8L-288.9,229.1A368.7,368.7 0 0 0 -282.2,237.3Z"/>
<path fill="#fff" stroke="#5A5A5A" stroke-width="0.45" stroke-dasharray="1.2,1.2" d="M-280.9,236.2A367,367 0 0 1 -284.3,232.1L-272.9,222.8A352.3,352.3 0 0 0 -269.6,226.7Z"/>
<path fill="#5A5A5A" d="M-284.3,232.1A367,367 0 0 1 -287.6,228L-275.8,218.7A352,352 0 0 0 -272.6,222.6Z"/>
<path fill="#555555" d="M-331.4,224.9A400.5,400.5 0 0 1 -332.4,223.4L-306,205.7A368.7,368.7 0 0 0 -305.1,207Z"/>
<path fill="#fff" stroke="#555555" stroke-width="0.45" stroke-dasharray="1.2,1.2" d="M-303.7,206.1A367,367 0 0 1 -304.1,205.4L-291.9,197.2A352.3,352.3 0 0 0 -291.5,197.8Z"/>
<path fill="#555555" d="M-304.1,205.4A367,367 0 0 1 -304.6,204.7L-292.1,196.4A352,352 0 0 0 -291.7,197Z"/>
<path fill="#6E6E6E" d="M-347.4,199.3A400.5,400.5 0 0 1 -350.4,193.9L-322.6,178.5A368.7,368.7 0 0 0 -319.8,183.5Z"/>
<path fill="#fff" stroke="#6E6E6E" stroke-width="0.45" stroke-dasharray="1.2,1.2" d="M-318.3,182.7A367,367 0 0 1 -319.7,180.2L-306.9,173A352.3,352.3 0 0 0 -305.6,175.4Z"/>
<path fill="#6E6E6E" d="M-319.7,180.2A367,367 0 0 1 -321.1,177.7L-308,170.4A352,352 0 0 0 -306.7,172.8Z"/>
<path fill="#F0606A" d="M-363.1,168.9A400.5,400.5 0 0 1 -367,160.3L-337.9,147.6A368.7,368.7 0 0 0 -334.3,155.5Z"/>
<path fill="#fff" stroke="#F0606A" stroke-width="0.45" stroke-dasharray="1.2,1.2" d="M-332.8,154.8A367,367 0 0 1 -334.6,150.9L-321.2,144.8A352.3,352.3 0 0 0 -319.4,148.6Z"/>
<path fill="#F0606A" d="M-334.6,150.9A367,367 0 0 1 -336.3,146.9L-322.6,140.9A352,352 0 0 0 -320.9,144.7Z"/>
<path fill="#A0563A" d="M-376.7,136.1A400.5,400.5 0 0 1 -378.3,131.4L-348.3,120.9A368.7,368.7 0 0 0 -346.8,125.3Z"/>
<path fill="#fff" stroke="#A0563A" stroke-width="0.45" stroke-dasharray="1.2,1.2" d="M-345.2,124.7A367,367 0 0 1 -345.9,122.5L-332.1,117.6A352.3,352.3 0 0 0 -331.3,119.7Z"/>
<path fill="#A0563A" d="M-345.9,122.5A367,367 0 0 1 -346.7,120.4L-332.5,115.5A352,352 0 0 0 -331.8,117.5Z"/>
<path fill="#C050B0" d="M-386.4,105.2A400.5,400.5 0 0 1 -387.2,102.2L-356.5,94.1A368.7,368.7 0 0 0 -355.8,96.9Z"/>
<path fill="#fff" stroke="#C050B0" stroke-width="0.45" stroke-dasharray="1.2,1.2" d="M-354.1,96.4A367,367 0 0 1 -354.5,95L-340.3,91.2A352.3,352.3 0 0 0 -339.9,92.5Z"/>
<path fill="#C050B0" d="M-354.5,95A367,367 0 0 1 -354.8,93.7L-340.3,89.9A352,352 0 0 0 -340,91.2Z"/>
<path fill="#8E2A9E" d="M-393.3,75.4A400.5,400.5 0 0 1 -394.2,70.6L-362.9,65A368.7,368.7 0 0 0 -362.1,69.4Z"/>
<path fill="#fff" stroke="#8E2A9E" stroke-width="0.45" stroke-dasharray="1.2,1.2" d="M-360.4,69.1A367,367 0 0 1 -360.8,66.9L-346.4,64.2A352.3,352.3 0 0 0 -346,66.3Z"/>
<path fill="#8E2A9E" d="M-360.8,66.9A367,367 0 0 1 -361.2,64.7L-346.5,62.1A352,352 0 0 0 -346.1,64.2Z"/>
<path fill="#D8208C" d="M-398,44.7A400.5,400.5 0 0 1 -398.4,40.8L-366.8,37.6A368.7,368.7 0 0 0 -366.4,41.2Z"/>
<path fill="#fff" stroke="#D8208C" stroke-width="0.45" stroke-dasharray="1.2,1.2" d="M-364.7,41A367,367 0 0 1 -364.9,39.2L-350.3,37.6A352.3,352.3 0 0 0 -350.1,39.3Z"/>
<path fill="#D8208C" d="M-364.9,39.2A367,367 0 0 1 -365.1,37.4L-350.2,35.9A352,352 0 0 0 -350,37.6Z"/>
<path fill="#B070C0" d="M-400.3,14A400.5,400.5 0 0 1 -400.4,6.8L-368.6,6.3A368.7,368.7 0 0 0 -368.5,12.9Z"/>
<path fill="#fff" stroke="#B070C0" stroke-width="0.45" stroke-dasharray="1.2,1.2" d="M-366.8,12.8A367,367 0 0 1 -366.9,9.5L-352.2,9.2A352.3,352.3 0 0 0 -352.1,12.3Z"/>
<path fill="#B070C0" d="M-366.9,9.5A367,367 0 0 1 -366.9,6.3L-351.9,6A352,352 0 0 0 -351.9,9.2Z"/>
<path fill="#5FC080" d="M-400,-20.1A400.5,400.5 0 0 1 -398.5,-39.8L-366.9,-36.6A368.7,368.7 0 0 0 -368.2,-18.5Z"/>
<path fill="#fff" stroke="#5FC080" stroke-width="0.45" stroke-dasharray="1.2,1.2" d="M-366.5,-18.4A367,367 0 0 1 -366,-27.5L-351.3,-26.4A352.3,352.3 0 0 0 -351.9,-17.7Z"/>
<path fill="#5FC080" d="M-366,-27.5A367,367 0 0 1 -365.2,-36.5L-350.3,-35A352,352 0 0 0 -351,-26.3Z"/>
<path fill="#27297A" d="M-394.7,-67.8A400.5,400.5 0 0 1 -392.8,-78.1L-361.6,-71.9A368.7,368.7 0 0 0 -363.4,-62.4Z"/>
<path fill="#fff" stroke="#27297A" stroke-width="0.45" stroke-dasharray="1.2,1.2" d="M-361.7,-62.2A367,367 0 0 1 -360.9,-66.9L-346.4,-64.2A352.3,352.3 0 0 0 -347.2,-59.7Z"/>
<path fill="#27297A" d="M-360.9,-66.9A367,367 0 0 1 -359.9,-71.6L-345.2,-68.7A352,352 0 0 0 -346.1,-64.1Z"/>
<path fill="#A8CC3C" d="M-386.7,-104.3A400.5,400.5 0 0 1 -386.2,-105.9L-355.6,-97.5A368.7,368.7 0 0 0 -356,-96Z"/>
<path fill="#fff" stroke="#A8CC3C" stroke-width="0.45" stroke-dasharray="1.2,1.2" d="M-354.3,-95.6A367,367 0 0 1 -354.1,-96.3L-340,-92.5A352.3,352.3 0 0 0 -340.1,-91.8Z"/>
<path fill="#A8CC3C" d="M-354.1,-96.3A367,367 0 0 1 -353.9,-97L-339.5,-93.1A352,352 0 0 0 -339.7,-92.4Z"/>
<path fill="#F5A21B" d="M-378.3,-131.4A400.5,400.5 0 0 1 -377.6,-133.4L-347.7,-122.8A368.7,368.7 0 0 0 -348.3,-121Z"/>
<path fill="#fff" stroke="#F5A21B" stroke-width="0.45" stroke-dasharray="1.2,1.2" d="M-346.7,-120.5A367,367 0 0 1 -346.4,-121.3L-332.5,-116.5A352.3,352.3 0 0 0 -332.8,-115.6Z"/>
<path fill="#F5A21B" d="M-346.4,-121.3A367,367 0 0 1 -346.1,-122.2L-331.9,-117.2A352,352 0 0 0 -332.2,-116.4Z"/>
<path fill="#E0401E" d="M-367.5,-159.1A400.5,400.5 0 0 1 -366.7,-161L-337.6,-148.2A368.7,368.7 0 0 0 -338.4,-146.5Z"/>
<path fill="#fff" stroke="#E0401E" stroke-width="0.45" stroke-dasharray="1.2,1.2" d="M-336.8,-145.8A367,367 0 0 1 -336.4,-146.7L-322.9,-140.8A352.3,352.3 0 0 0 -323.3,-140Z"/>
<path fill="#E0401E" d="M-336.4,-146.7A367,367 0 0 1 -336,-147.5L-322.3,-141.5A352,352 0 0 0 -322.7,-140.7Z"/>
<path fill="#8B2A1A" d="M-354.7,-186A400.5,400.5 0 0 1 -353.8,-187.6L-325.8,-172.7A368.7,368.7 0 0 0 -326.5,-171.3Z"/>
<path fill="#fff" stroke="#8B2A1A" stroke-width="0.45" stroke-dasharray="1.2,1.2" d="M-325,-170.5A367,367 0 0 1 -324.6,-171.2L-311.6,-164.3A352.3,352.3 0 0 0 -312,-163.7Z"/>
<path fill="#8B2A1A" d="M-324.6,-171.2A367,367 0 0 1 -324.3,-171.9L-311,-164.9A352,352 0 0 0 -311.4,-164.2Z"/>
<path fill="#C8883C" d="M-340.4,-211A400.5,400.5 0 0 1 -338.8,-213.5L-311.9,-196.6A368.7,368.7 0 0 0 -313.4,-194.2Z"/>
<path fill="#fff" stroke="#C8883C" stroke-width="0.45" stroke-dasharray="1.2,1.2" d="M-311.9,-193.3A367,367 0 0 1 -311.2,-194.5L-298.8,-186.7A352.3,352.3 0 0 0 -299.4,-185.6Z"/>
<path fill="#C8883C" d="M-311.2,-194.5A367,367 0 0 1 -310.5,-195.7L-297.8,-187.7A352,352 0 0 0 -298.5,-186.6Z"/>
<path fill="#6E48A8" d="M-323.5,-236.1A400.5,400.5 0 0 1 -307.9,-256.1L-283.5,-235.8A368.7,368.7 0 0 0 -297.8,-217.4Z"/>
<path fill="#fff" stroke="#6E48A8" stroke-width="0.45" stroke-dasharray="1.2,1.2" d="M-296.4,-216.4A367,367 0 0 1 -289.4,-225.6L-277.8,-216.6A352.3,352.3 0 0 0 -284.5,-207.7Z"/>
<path fill="#6E48A8" d="M-289.4,-225.6A367,367 0 0 1 -282.2,-234.7L-270.6,-225.1A352,352 0 0 0 -277.6,-216.4Z"/>
<path fill="#E8212B" d="M-289.2,-277.1A400.5,400.5 0 0 1 -283.8,-282.6L-261.3,-260.2A368.7,368.7 0 0 0 -266.2,-255.1Z"/>
<path fill="#fff" stroke="#E8212B" stroke-width="0.45" stroke-dasharray="1.2,1.2" d="M-265,-253.9A367,367 0 0 1 -262.5,-256.4L-252,-246.2A352.3,352.3 0 0 0 -254.4,-243.7Z"/>
<path fill="#E8212B" d="M-262.5,-256.4A367,367 0 0 1 -260.1,-259L-249.4,-248.4A352,352 0 0 0 -251.8,-246Z"/>
<path fill="#4A74C8" d="M-263.3,-301.8A400.5,400.5 0 0 1 -261.5,-303.3L-240.8,-279.2A368.7,368.7 0 0 0 -242.4,-277.8Z"/>
<path fill="#fff" stroke="#4A74C8" stroke-width="0.45" stroke-dasharray="1.2,1.2" d="M-241.3,-276.6A367,367 0 0 1 -240.5,-277.3L-230.8,-266.1A352.3,352.3 0 0 0 -231.6,-265.5Z"/>
<path fill="#4A74C8" d="M-240.5,-277.3A367,367 0 0 1 -239.7,-277.9L-229.9,-266.6A352,352 0 0 0 -230.6,-265.9Z"/>
<path fill="#87431F" d="M-239.3,-321.1A400.5,400.5 0 0 1 -207.4,-342.6L-190.9,-315.4A368.7,368.7 0 0 0 -220.3,-295.6Z"/>
<path fill="#fff" stroke="#87431F" stroke-width="0.45" stroke-dasharray="1.2,1.2" d="M-219.3,-294.3A367,367 0 0 1 -204.9,-304.5L-196.7,-292.3A352.3,352.3 0 0 0 -210.5,-282.5Z"/>
<path fill="#87431F" d="M-204.9,-304.5A367,367 0 0 1 -190.1,-314L-182.3,-301.1A352,352 0 0 0 -196.6,-292Z"/>
<path fill="#8B4A36" d="M-183.9,-355.8A400.5,400.5 0 0 1 -176.9,-359.3L-162.8,-330.8A368.7,368.7 0 0 0 -169.3,-327.5Z"/>
<path fill="#fff" stroke="#8B4A36" stroke-width="0.45" stroke-dasharray="1.2,1.2" d="M-168.5,-326A367,367 0 0 1 -165.3,-327.7L-158.7,-314.5A352.3,352.3 0 0 0 -161.7,-313Z"/>
<path fill="#8B4A36" d="M-165.3,-327.7A367,367 0 0 1 -162.1,-329.3L-155.5,-315.8A352,352 0 0 0 -158.5,-314.3Z"/>
<path fill="#6CC484" d="M-151.7,-370.7A400.5,400.5 0 0 1 -144.4,-373.5L-133,-343.9A368.7,368.7 0 0 0 -139.7,-341.2Z"/>
<path fill="#fff" stroke="#6CC484" stroke-width="0.45" stroke-dasharray="1.2,1.2" d="M-139,-339.6A367,367 0 0 1 -135.7,-341L-130.3,-327.3A352.3,352.3 0 0 0 -133.5,-326Z"/>
<path fill="#6CC484" d="M-135.7,-341A367,367 0 0 1 -132.4,-342.3L-126.9,-328.3A352,352 0 0 0 -130.2,-327.1Z"/>
<path fill="#2C4EB0" d="M-119,-382.4A400.5,400.5 0 0 1 -117.2,-383L-107.9,-352.6A368.7,368.7 0 0 0 -109.6,-352Z"/>
<path fill="#fff" stroke="#2C4EB0" stroke-width="0.45" stroke-dasharray="1.2,1.2" d="M-109.1,-350.4A367,367 0 0 1 -108.2,-350.7L-103.9,-336.6A352.3,352.3 0 0 0 -104.7,-336.4Z"/>
<path fill="#2C4EB0" d="M-108.2,-350.7A367,367 0 0 1 -107.4,-350.9L-103,-336.6A352,352 0 0 0 -103.8,-336.3Z"/>
<path fill="#2E2F7E" d="M-91.3,-390A400.5,400.5 0 0 1 -25.8,-399.7L-23.8,-367.9A368.7,368.7 0 0 0 -84,-359Z"/>
<path fill="#fff" stroke="#2E2F7E" stroke-width="0.45" stroke-dasharray="1.2,1.2" d="M-83.6,-357.3A367,367 0 0 1 -53.8,-363L-51.7,-348.5A352.3,352.3 0 0 0 -80.3,-343Z"/>
<path fill="#2E2F7E" d="M-53.8,-363A367,367 0 0 1 -23.7,-366.2L-22.7,-351.3A352,352 0 0 0 -51.6,-348.2Z"/>
<path fill="none" stroke="#000" stroke-width="1.5" d="M0,-400.2L0,-406.5M30.2,-399.1L30.7,-405.3M59.4,-395.8L60.3,-402M87.3,-391.2A400.8,400.8 0 0 1 149.4,-371.9M87.2,-390.6L88.5,-396.7M95.1,-389L95.9,-392.1M102.9,-386.7L104.6,-392.8M110.8,-384.9L111.7,-387.9M118.5,-382.2L120.4,-388.3M126.4,-380L127.4,-383.1M134,-377.1L136.1,-383.1M141.7,-374.6L142.8,-377.6M149.1,-371.4L151.5,-377.2M182.4,-356.9A400.8,400.8 0 0 1 237.7,-322.7M182.1,-356.4L185,-362M189.5,-352.9L191,-355.7M196.4,-348.7L199.5,-354.2M203.6,-344.9L205.2,-347.6M210.4,-340.4L213.7,-345.8M217.4,-336.3L219.2,-339M224,-331.6L227.6,-336.8M230.9,-327.2L232.7,-329.9M237.3,-322.2L241.1,-327.3M263.5,-302A400.8,400.8 0 0 1 308.9,-255.4M263.1,-301.5L267.3,-306.3M269.4,-296.4L271.6,-298.7M275.1,-290.6L279.5,-295.2M281.2,-285.2L283.4,-287.5M286.7,-279.2L291.2,-283.6M292.5,-273.5L294.9,-275.7M297.8,-267.3L302.5,-271.6M303.4,-261.4L305.8,-263.5M308.4,-255L313.3,-259.1M326.7,-232.2A400.8,400.8 0 0 1 359.9,-176.4M326.2,-231.9L331.3,-235.5M331.1,-225.4L333.7,-227.2M335.3,-218.5L340.6,-221.9M339.9,-211.8L342.6,-213.5M343.9,-204.7L349.3,-207.9M348.2,-197.8L351,-199.4M351.9,-190.6L357.5,-193.6M356,-183.5L358.8,-185M359.4,-176.1L365,-178.9M374.8,-142A400.8,400.8 0 0 1 385.1,-111.1M374.2,-141.8L380.1,-144M377.3,-134.3L380.3,-135.3M379.7,-126.5L385.7,-128.5M382.5,-118.8L385.5,-119.8M384.5,-111L390.6,-112.7M392.2,-79.4L398.4,-80.7M396.9,-50.9L403.2,-51.7M399.8,-16.9L406.1,-17.2M400,11.7L406.3,11.8M397.6,45.4L403.9,46.1M392.2,79.8L398.3,81M385.7,108.9A400.8,400.8 0 0 1 369.7,154.9M385.2,108.7L391.2,110.4M383.2,116.6L386.2,117.5M380.4,124.2L386.4,126.2M378.1,132L381.1,133.1M375.1,139.6L381,141.8M372.4,147.3L375.4,148.4M369.1,154.7L374.9,157.1M351.5,191.3L357,194.3M329.7,226.9L334.8,230.5M309,255.3A400.8,400.8 0 0 1 298.4,267.6M308.5,254.9L313.4,258.9M303.5,261.3L306,263.4M297.9,267.2L302.6,271.4M273.1,292.5L277.4,297.1M249.1,313.2L253.1,318.1M224.3,331.4L227.8,336.6M185.9,355.1A400.8,400.8 0 0 1 141.4,375M185.6,354.6L188.5,360.1M178.5,358.5L179.9,361.4M171.1,361.8L173.8,367.5M163.8,365.5L165.1,368.4M156.2,368.4L158.7,374.2M148.8,371.8L150,374.8M141.2,374.5L143.4,380.4M111.9,384.3L113.6,390.3M71.3,393.8L72.4,400M40.1,398.2L40.7,404.5M7.5,400.7A400.8,400.8 0 0 1 -25,400M7.5,400.1L7.6,406.4M-0.6,400.5L-0.7,403.7M-8.8,400.1L-8.9,406.4M-16.9,400.1L-17,403.3M-25,399.4L-25.4,405.7M-57.1,396.7A400.8,400.8 0 0 1 -104.8,386.8M-57,396.1L-57.9,402.4M-65.1,395.2L-65.6,398.3M-73,393.5L-74.2,399.7M-81.1,392.2L-81.7,395.3M-88.9,390.2L-90.3,396.3M-96.9,388.6L-97.7,391.7M-104.7,386.3L-106.3,392.3M-134.4,377.6A400.8,400.8 0 0 1 -179.2,358.5M-134.2,377L-136.3,383M-141.9,374.5L-143,377.5M-149.4,371.3L-151.7,377.1M-157,368.5L-158.2,371.4M-164.3,364.9L-166.9,370.7M-171.8,361.8L-173.2,364.7M-179,357.9L-181.8,363.6M-212.1,339.4L-215.4,344.7M-240.7,319.7L-244.5,324.7M-267.8,298.2A400.8,400.8 0 0 1 -279.7,287.1M-267.4,297.7L-271.6,302.4M-273.6,292.5L-275.8,294.8M-279.3,286.6L-283.7,291.2M-306.3,257.6L-311.1,261.6M-331.2,224.7L-336.4,228.3M-347.1,199.2L-352.6,202.3M-362.9,168.8L-368.6,171.5M-376.4,136L-382.3,138.1M-386.1,105.1L-392.2,106.8M-393,75.3L-399.2,76.5M-397.7,44.7L-404,45.4M-400,14L-406.3,14.2M-400.3,-20.1A400.8,400.8 0 0 1 -399.1,-36.4M-399.7,-20.1L-406,-20.4M-399.5,-28.2L-402.7,-28.5M-398.5,-36.3L-404.8,-36.9M-394.4,-67.8L-400.6,-68.8M-386.4,-104.3L-392.5,-105.9M-378,-131.3L-384,-133.4M-367.3,-159L-373,-161.5M-354.4,-185.9L-360,-188.8M-340.2,-210.8L-345.5,-214.1M-323.7,-236.3A400.8,400.8 0 0 1 -313.9,-249.3M-323.2,-236L-328.3,-239.7M-318.6,-242.7L-321.2,-244.6M-313.4,-248.9L-318.3,-252.8M-289,-276.8L-293.5,-281.2M-263.1,-301.6L-267.2,-306.3M-239.5,-321.4A400.8,400.8 0 0 1 -212.7,-339.7M-239.2,-320.9L-242.9,-325.9M-232.8,-325.9L-234.6,-328.5M-226,-330.3L-229.5,-335.5M-219.4,-335.1L-221.1,-337.8M-212.4,-339.2L-215.7,-344.5M-183.7,-355.5L-186.6,-361.1M-151.6,-370.4L-154,-376.2M-118.9,-382.1L-120.8,-388.1M-91.3,-390.3A400.8,400.8 0 0 1 -27.1,-399.9M-91.2,-389.7L-92.6,-395.8M-83.3,-391.7L-84,-394.9M-75.3,-393.1L-76.5,-399.2M-67.4,-394.8L-67.9,-397.9M-59.3,-395.8L-60.2,-402M-51.3,-397.2L-51.7,-400.4M-43.2,-397.9L-43.9,-404.1M-35.1,-399L-35.4,-402.1M-27,-399.3L-27.4,-405.6"/>
<g class="tk"><text transform="translate(0,-412.5) rotate(0)">0</text><text transform="translate(31.1,-411.3) rotate(4.3)">0</text><text transform="translate(61.2,-407.9) rotate(8.5)">0</text><text transform="translate(89.8,-402.6) rotate(12.6)">0</text><text transform="translate(106.1,-398.6) rotate(14.9)">50</text><text transform="translate(122.2,-394) rotate(17.2)">100</text><text transform="translate(138.1,-388.7) rotate(19.6)">150</text><text transform="translate(153.7,-382.8) rotate(21.9)">200</text><text transform="translate(187.7,-367.3) rotate(27.1)">0</text><text transform="translate(202.5,-359.4) rotate(29.4)">50</text><text transform="translate(216.9,-350.9) rotate(31.7)">100</text><text transform="translate(230.9,-341.8) rotate(34)">150</text><text transform="translate(244.6,-332.1) rotate(36.4)">200</text><text transform="translate(271.2,-310.8) rotate(41.1)">0</text><text transform="translate(283.6,-299.5) rotate(43.4)">50</text><text transform="translate(295.5,-287.8) rotate(45.8)">100</text><text transform="translate(307,-275.6) rotate(48.1)">150</text><text transform="translate(317.9,-262.9) rotate(50.4)">200</text><text transform="translate(336.2,-239) rotate(54.6)">0</text><text transform="translate(345.6,-225.2) rotate(56.9)">50</text><text transform="translate(354.5,-211) rotate(59.2)">100</text><text transform="translate(362.7,-196.4) rotate(61.6)">150</text><text transform="translate(370.4,-181.5) rotate(63.9)">200</text><text transform="translate(385.7,-146.1) rotate(69.2)">0</text><text transform="translate(391.4,-130.4) rotate(71.6)">50</text><text transform="translate(396.3,-114.4) rotate(73.9)">100</text><text transform="translate(404.3,-81.9) rotate(78.5)">0</text><text transform="translate(409.1,-52.5) rotate(82.7)">0</text><text transform="translate(412.1,-17.4) rotate(87.6)">0</text><text transform="translate(412.3,12) rotate(271.7)">0</text><text transform="translate(409.8,46.8) rotate(276.5)">0</text><text transform="translate(404.2,82.2) rotate(281.5)">0</text><text transform="translate(397,112) rotate(285.8)">0</text><text transform="translate(392.1,128.1) rotate(288.1)">50</text><text transform="translate(386.6,143.9) rotate(290.4)">100</text><text transform="translate(380.4,159.4) rotate(292.7)">150</text><text transform="translate(362.3,197.2) rotate(298.6)">0</text><text transform="translate(339.8,233.9) rotate(304.5)">0</text><text transform="translate(318,262.7) rotate(309.6)">0</text><text transform="translate(307.1,275.4) rotate(311.9)">50</text><text transform="translate(281.5,301.5) rotate(317)">0</text><text transform="translate(256.8,322.8) rotate(321.5)">0</text><text transform="translate(231.2,341.6) rotate(325.9)">0</text><text transform="translate(191.3,365.5) rotate(332.4)">0</text><text transform="translate(176.3,372.9) rotate(334.7)">50</text><text transform="translate(161,379.8) rotate(337)">100</text><text transform="translate(145.5,386) rotate(339.3)">150</text><text transform="translate(115.3,396.1) rotate(343.8)">0</text><text transform="translate(73.5,405.9) rotate(349.7)">0</text><text transform="translate(41.3,410.4) rotate(354.2)">0</text><text transform="translate(7.7,412.4) rotate(358.9)">0</text><text transform="translate(-9,412.4) rotate(1.3)">50</text><text transform="translate(-25.8,411.7) rotate(3.6)">100</text><text transform="translate(-58.8,408.3) rotate(8.2)">0</text><text transform="translate(-75.3,405.6) rotate(10.5)">50</text><text transform="translate(-91.7,402.2) rotate(12.8)">100</text><text transform="translate(-107.9,398.1) rotate(15.2)">150</text><text transform="translate(-138.3,388.6) rotate(19.6)">0</text><text transform="translate(-154,382.7) rotate(21.9)">50</text><text transform="translate(-169.4,376.1) rotate(24.2)">100</text><text transform="translate(-184.5,369) rotate(26.6)">150</text><text transform="translate(-218.6,349.8) rotate(32)">0</text><text transform="translate(-248.1,329.5) rotate(37)">0</text><text transform="translate(-275.6,306.9) rotate(41.9)">0</text><text transform="translate(-287.9,295.4) rotate(44.3)">50</text><text transform="translate(-315.7,265.5) rotate(49.9)">0</text><text transform="translate(-341.3,231.6) rotate(55.8)">0</text><text transform="translate(-357.8,205.3) rotate(60.1)">0</text><text transform="translate(-374,174) rotate(65.1)">0</text><text transform="translate(-388,140.1) rotate(70.1)">0</text><text transform="translate(-398,108.4) rotate(74.8)">0</text><text transform="translate(-405.1,77.6) rotate(79.1)">0</text><text transform="translate(-409.9,46.1) rotate(83.6)">0</text><text transform="translate(-412.2,14.4) rotate(88)">0</text><text transform="translate(-412,-20.7) rotate(272.9)">0</text><text transform="translate(-410.8,-37.4) rotate(275.2)">50</text><text transform="translate(-406.5,-69.9) rotate(279.8)">0</text><text transform="translate(-398.3,-107.5) rotate(285.1)">0</text><text transform="translate(-389.6,-135.4) rotate(289.2)">0</text><text transform="translate(-378.5,-163.9) rotate(293.4)">0</text><text transform="translate(-365.3,-191.6) rotate(297.7)">0</text><text transform="translate(-350.6,-217.3) rotate(301.8)">0</text><text transform="translate(-333.2,-243.2) rotate(306.1)">0</text><text transform="translate(-323,-256.5) rotate(308.5)">50</text><text transform="translate(-297.9,-285.4) rotate(313.8)">0</text><text transform="translate(-271.2,-310.8) rotate(318.9)">0</text><text transform="translate(-246.5,-330.7) rotate(323.3)">0</text><text transform="translate(-232.9,-340.5) rotate(325.6)">50</text><text transform="translate(-218.9,-349.6) rotate(327.9)">100</text><text transform="translate(-189.4,-366.5) rotate(332.7)">0</text><text transform="translate(-156.3,-381.8) rotate(337.7)">0</text><text transform="translate(-122.6,-393.9) rotate(342.7)">0</text><text transform="translate(-94,-401.7) rotate(346.8)">0</text><text transform="translate(-77.6,-405.1) rotate(349.2)">50</text><text transform="translate(-61.1,-407.9) rotate(351.5)">100</text><text transform="translate(-44.5,-410.1) rotate(353.8)">150</text><text transform="translate(-27.8,-411.6) rotate(356.1)">200</text></g>
<g class="lb"><text transform="translate(2.1,-433.5) rotate(-89.7)">AKT1</text><text transform="translate(33.7,-432.2) rotate(-85.5)">AKT2</text><text transform="translate(65.3,-428.6) rotate(-81.3)">AKT3</text><text transform="translate(133,-412.6) rotate(-72.1)">APC</text><text transform="translate(229.5,-367.7) rotate(-58)">AURKA</text><text transform="translate(310.8,-302.2) rotate(-44.2)">AURKB</text><text transform="translate(374.2,-218.9) rotate(-30.3)">BRAF</text><text transform="translate(411.8,-135.4) rotate(-18.2)">BRCA1</text><text transform="translate(425.1,-85.1) rotate(-11.3)">CCNE1</text><text transform="translate(430.4,-51.7) rotate(-6.8)">CDH1</text><text transform="translate(433.2,-17.3) rotate(-2.3)">CDKN2A</text><text transform="translate(433.2,15.4) rotate(2)">CHEK2</text><text transform="translate(430.2,53.1) rotate(7)">CTNNB1</text><text transform="translate(424.6,87.4) rotate(11.6)">DDR2</text><text transform="translate(407.2,148.6) rotate(20)">EGFR</text><text transform="translate(376.9,214.1) rotate(29.6)">EPHB3</text><text transform="translate(354.5,249.5) rotate(35.1)">EPHB4</text><text transform="translate(326.1,285.6) rotate(41.2)">ERBB2</text><text transform="translate(294.2,318.4) rotate(47.3)">ESR1</text><text transform="translate(268.8,340.1) rotate(51.7)">ESR2</text><text transform="translate(236,363.6) rotate(57)">FGFR2</text><text transform="translate(176.1,396.1) rotate(66)">FLT4</text><text transform="translate(114.4,418.1) rotate(74.7)">GATA3</text><text transform="translate(75.3,426.9) rotate(80)">IDH2</text><text transform="translate(40.7,431.6) rotate(84.6)">IGF1R</text><text text-anchor="end" transform="translate(-12.4,433.3) rotate(-88.4)">IRAK1</text><text text-anchor="end" transform="translate(-90.2,424) rotate(-78)">IRS2</text><text text-anchor="end" transform="translate(-174.7,396.7) rotate(-66.2)">KDR</text><text text-anchor="end" transform="translate(-233.2,365.4) rotate(-57.4)">KIT</text><text text-anchor="end" transform="translate(-261.5,345.7) rotate(-52.9)">KRAS</text><text text-anchor="end" transform="translate(-300.2,312.8) rotate(-46.2)">KSR1</text><text text-anchor="end" transform="translate(-335.8,274.2) rotate(-39.2)">MAP3K5</text><text text-anchor="end" transform="translate(-359.2,242.6) rotate(-34)">MAPK14</text><text text-anchor="end" transform="translate(-377.7,212.8) rotate(-29.4)">MET</text><text text-anchor="end" transform="translate(-395.2,178.2) rotate(-24.3)">MLH1</text><text text-anchor="end" transform="translate(-408.6,144.7) rotate(-19.5)">NFKB1</text><text text-anchor="end" transform="translate(-418.7,112.3) rotate(-15)">NTRK1</text><text text-anchor="end" transform="translate(-426.2,79) rotate(-10.5)">NTRK3</text><text text-anchor="end" transform="translate(-431,46.3) rotate(-6.1)">OGG1</text><text text-anchor="end" transform="translate(-433.4,11.3) rotate(-1.5)">PAK4</text><text text-anchor="end" transform="translate(-432.3,-32.4) rotate(4.3)">PDGFRA</text><text text-anchor="end" transform="translate(-426.2,-79) rotate(10.5)">PDGFRB</text><text text-anchor="end" transform="translate(-418.3,-113.8) rotate(15.2)">PDPK1</text><text text-anchor="end" transform="translate(-409.1,-143.3) rotate(19.3)">PIK3CA</text><text text-anchor="end" transform="translate(-397.4,-173.2) rotate(23.6)">PLK1</text><text text-anchor="end" transform="translate(-383.4,-202.2) rotate(27.8)">PRKAA1</text><text text-anchor="end" transform="translate(-367.6,-229.8) rotate(32)">PTK2</text><text text-anchor="end" transform="translate(-341.9,-266.5) rotate(37.9)">RET</text><text text-anchor="end" transform="translate(-310.1,-302.9) rotate(44.3)">ROCK1</text><text text-anchor="end" transform="translate(-284,-327.5) rotate(49.1)">SPHK1</text><text text-anchor="end" transform="translate(-242.1,-359.6) rotate(56.1)">SPHK2</text><text text-anchor="end" transform="translate(-195.3,-387) rotate(63.2)">STK11</text><text text-anchor="end" transform="translate(-160.3,-402.8) rotate(68.3)">TEK</text><text text-anchor="end" transform="translate(-127.8,-414.2) rotate(72.9)">TERT</text><text text-anchor="end" transform="translate(-63.6,-428.8) rotate(81.6)">TP53</text></g>
</g>
</svg>
</body></html>
